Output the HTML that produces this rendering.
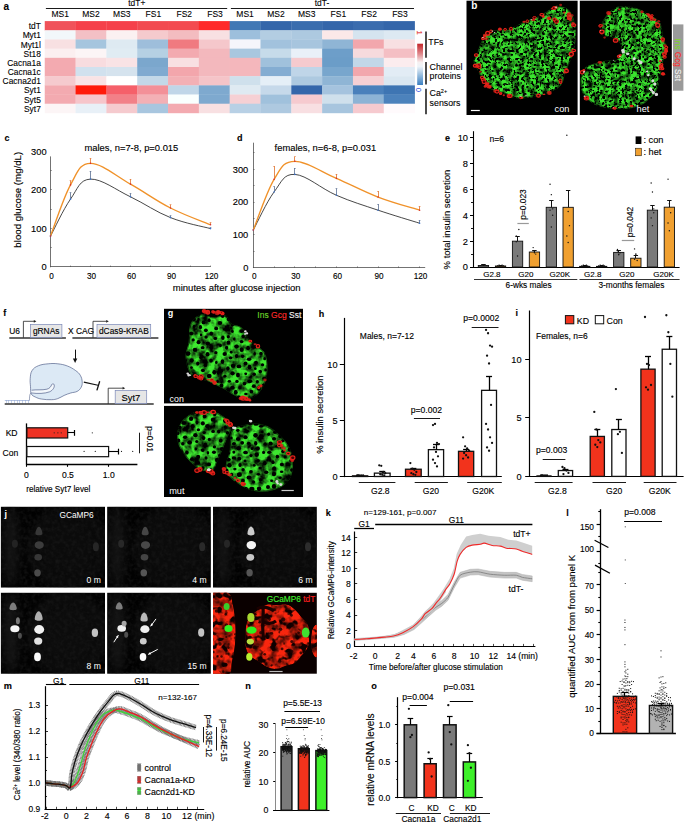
<!DOCTYPE html>
<html><head><meta charset="utf-8"><style>
html,body{margin:0;padding:0;background:#fff;}
svg{display:block;font-family:"Liberation Sans",sans-serif;}
text{stroke-width:0.13px;}
.hv{stroke-width:0.1px;}
text:not([stroke]){stroke:#000;}
text[font-weight=bold]{stroke-width:0.1px;}
</style></head><body>
<svg width="685" height="823" viewBox="0 0 685 823" font-family="Liberation Sans, sans-serif" font-size="8">
<defs>
<linearGradient id="cbar" x1="0" y1="0" x2="0" y2="1">
<stop offset="0" stop-color="#c3262b"/><stop offset="0.25" stop-color="#e08a8e"/>
<stop offset="0.45" stop-color="#f7f0f0"/><stop offset="0.55" stop-color="#eef4f9"/>
<stop offset="0.78" stop-color="#8fb8dc"/><stop offset="1" stop-color="#3a7fc1"/>
</linearGradient>
<filter id="cells" x="0" y="0" width="685" height="823" filterUnits="userSpaceOnUse" color-interpolation-filters="sRGB">
<feTurbulence type="turbulence" baseFrequency="0.26" numOctaves="2" seed="5" result="n"/>
<feColorMatrix in="n" type="matrix" values="0 0 0 0 0.2  0 0 0 0 0.88  0 0 0 0 0.14  -5.5 0 0 0 2.35" result="g"/>
<feGaussianBlur in="g" stdDeviation="0.35" result="gb"/>
<feComposite in="gb" in2="SourceGraphic" operator="in"/>
</filter>
<filter id="cellsg" x="0" y="0" width="685" height="823" filterUnits="userSpaceOnUse" color-interpolation-filters="sRGB">
<feTurbulence type="fractalNoise" baseFrequency="0.2" numOctaves="2" seed="8" result="n"/>
<feColorMatrix in="n" type="matrix" values="0 0 0 0 0.25  0 0 0 0 0.95  0 0 0 0 0.12  -9 0 0 0 5.6" result="g"/>
<feGaussianBlur in="g" stdDeviation="0.3" result="gb"/>
<feComposite in="gb" in2="SourceGraphic" operator="in"/>
</filter>
<filter id="blur1" color-interpolation-filters="sRGB" x="-50%" y="-50%" width="200%" height="200%"><feGaussianBlur stdDeviation="0.7"/></filter>
<filter id="blur2" color-interpolation-filters="sRGB" x="-50%" y="-50%" width="200%" height="200%"><feGaussianBlur stdDeviation="4"/></filter>
<filter id="redtex" x="0" y="0" width="685" height="823" filterUnits="userSpaceOnUse" color-interpolation-filters="sRGB">
<feTurbulence type="fractalNoise" baseFrequency="0.22" numOctaves="2" seed="4" result="n"/>
<feColorMatrix in="n" type="matrix" values="0 0 0 0 1  0 0 0 0 0.1  0 0 0 0 0.05  -5 0 0 0 3.6" result="g"/>
<feGaussianBlur in="g" stdDeviation="0.5" result="gb"/>
<feComposite in="gb" in2="SourceGraphic" operator="in"/>
</filter>
<filter id="mottle" x="0" y="0" width="685" height="823" filterUnits="userSpaceOnUse" color-interpolation-filters="sRGB">
<feTurbulence type="fractalNoise" baseFrequency="0.12" numOctaves="3" seed="12" result="n"/>
<feColorMatrix in="n" type="matrix" values="0 0 0 0 0  0 0 0 0 0  0 0 0 0 0  2.6 0 0 0 -0.95" result="g"/>
<feComposite in="g" in2="SourceGraphic" operator="in"/>
</filter>
<filter id="mottle2" x="0" y="0" width="685" height="823" filterUnits="userSpaceOnUse" color-interpolation-filters="sRGB">
<feTurbulence type="fractalNoise" baseFrequency="0.1" numOctaves="3" seed="31" result="n"/>
<feColorMatrix in="n" type="matrix" values="0 0 0 0 0  0 0 0 0 0  0 0 0 0 0  2.0 0 0 0 -0.8" result="g"/>
<feComposite in="g" in2="SourceGraphic" operator="in"/>
</filter>
<filter id="nblur" color-interpolation-filters="sRGB" x="-20%" y="-20%" width="140%" height="140%"><feGaussianBlur stdDeviation="0.35"/></filter>
<filter id="jnoise" x="0" y="0" width="685" height="823" filterUnits="userSpaceOnUse" color-interpolation-filters="sRGB">
<feTurbulence type="fractalNoise" baseFrequency="0.25" numOctaves="2" seed="17" result="n"/>
<feColorMatrix in="n" type="matrix" values="0 0 0 0 0.1  0 0 0 0 0.1  0 0 0 0 0.1  1.4 0 0 0 -0.55" result="g"/>
<feComposite in="g" in2="SourceGraphic" operator="in"/>
</filter>
<filter id="mottle3" x="0" y="0" width="685" height="823" filterUnits="userSpaceOnUse" color-interpolation-filters="sRGB">
<feTurbulence type="fractalNoise" baseFrequency="0.16" numOctaves="2" seed="22" result="n"/>
<feColorMatrix in="n" type="matrix" values="0 0 0 0 0  0 0 0 0 0  0 0 0 0 0  2.2 0 0 0 -0.9" result="g"/>
<feComposite in="g" in2="SourceGraphic" operator="in"/>
</filter>
<filter id="holes" x="0" y="0" width="685" height="823" filterUnits="userSpaceOnUse" color-interpolation-filters="sRGB">
<feTurbulence type="fractalNoise" baseFrequency="0.36" numOctaves="2" seed="41" result="n"/>
<feColorMatrix in="n" type="matrix" values="0 0 0 0 0  0 0 0 0 0  0 0 0 0 0  8 0 0 0 -4.2" result="g"/>
<feGaussianBlur in="g" stdDeviation="0.3" result="gb"/>
<feComposite in="gb" in2="SourceGraphic" operator="in"/>
</filter>
<filter id="holes2" x="0" y="0" width="685" height="823" filterUnits="userSpaceOnUse" color-interpolation-filters="sRGB">
<feTurbulence type="fractalNoise" baseFrequency="0.14" numOctaves="2" seed="7" result="n"/>
<feColorMatrix in="n" type="matrix" values="0 0 0 0 0.06  0 0 0 0 0  0 0 0 0 0  7 0 0 0 -3.7" result="g"/>
<feGaussianBlur in="g" stdDeviation="0.6" result="gb"/>
<feComposite in="gb" in2="SourceGraphic" operator="in"/>
</filter>
<filter id="soft" color-interpolation-filters="sRGB"><feGaussianBlur stdDeviation="0.35"/></filter>
</defs>
<text x="3.6" y="9.8" font-weight="bold" font-size="10">a</text>
<rect x="44.75" y="21.1" width="31.12" height="9.48" fill="#f0525a"/>
<rect x="75.57" y="21.1" width="31.12" height="9.48" fill="#f5404a"/>
<rect x="106.39" y="21.1" width="31.12" height="9.48" fill="#f5404a"/>
<rect x="137.21" y="21.1" width="31.12" height="9.48" fill="#f24a50"/>
<rect x="168.03" y="21.1" width="31.12" height="9.48" fill="#f34a50"/>
<rect x="198.85" y="21.1" width="31.12" height="9.48" fill="#ff2a2a"/>
<rect x="229.67" y="21.1" width="31.12" height="9.48" fill="#4178b5"/>
<rect x="260.49" y="21.1" width="31.12" height="9.48" fill="#3466aa"/>
<rect x="291.31" y="21.1" width="31.12" height="9.48" fill="#3a6dae"/>
<rect x="322.13" y="21.1" width="31.12" height="9.48" fill="#3466aa"/>
<rect x="352.95" y="21.1" width="31.12" height="9.48" fill="#3a6cae"/>
<rect x="383.77" y="21.1" width="31.12" height="9.48" fill="#3466aa"/>
<text x="40.8" y="29.2" class="hv" text-anchor="end" font-size="8.4">tdT</text>
<rect x="44.75" y="30.28" width="31.12" height="9.48" fill="#f2f7fa"/>
<rect x="75.57" y="30.28" width="31.12" height="9.48" fill="#f3c0c5"/>
<rect x="106.39" y="30.28" width="31.12" height="9.48" fill="#fbf1f1"/>
<rect x="137.21" y="30.28" width="31.12" height="9.48" fill="#f5cacd"/>
<rect x="168.03" y="30.28" width="31.12" height="9.48" fill="#f3bcc0"/>
<rect x="198.85" y="30.28" width="31.12" height="9.48" fill="#f8e0e2"/>
<rect x="229.67" y="30.28" width="31.12" height="9.48" fill="#9dbfdc"/>
<rect x="260.49" y="30.28" width="31.12" height="9.48" fill="#b3cde2"/>
<rect x="291.31" y="30.28" width="31.12" height="9.48" fill="#adc9e0"/>
<rect x="322.13" y="30.28" width="31.12" height="9.48" fill="#fbe8e8"/>
<rect x="352.95" y="30.28" width="31.12" height="9.48" fill="#d5e4ef"/>
<rect x="383.77" y="30.28" width="31.12" height="9.48" fill="#dde9f2"/>
<text x="40.8" y="38.38" class="hv" text-anchor="end" font-size="8.4">Myt1</text>
<rect x="44.75" y="39.46" width="31.12" height="9.48" fill="#f8e0e2"/>
<rect x="75.57" y="39.46" width="31.12" height="9.48" fill="#a5c5de"/>
<rect x="106.39" y="39.46" width="31.12" height="9.48" fill="#deeaf2"/>
<rect x="137.21" y="39.46" width="31.12" height="9.48" fill="#9ebedb"/>
<rect x="168.03" y="39.46" width="31.12" height="9.48" fill="#f07a80"/>
<rect x="198.85" y="39.46" width="31.12" height="9.48" fill="#f5c7cb"/>
<rect x="229.67" y="39.46" width="31.12" height="9.48" fill="#f5f5fb"/>
<rect x="260.49" y="39.46" width="31.12" height="9.48" fill="#a2c2dd"/>
<rect x="291.31" y="39.46" width="31.12" height="9.48" fill="#a7c5de"/>
<rect x="322.13" y="39.46" width="31.12" height="9.48" fill="#8fb5d5"/>
<rect x="352.95" y="39.46" width="31.12" height="9.48" fill="#f2a7ad"/>
<rect x="383.77" y="39.46" width="31.12" height="9.48" fill="#f8e0e2"/>
<text x="40.8" y="47.56" class="hv" text-anchor="end" font-size="8.4">Myt1l</text>
<rect x="44.75" y="48.64" width="31.12" height="9.48" fill="#fbeff0"/>
<rect x="75.57" y="48.64" width="31.12" height="9.48" fill="#fcf5f6"/>
<rect x="106.39" y="48.64" width="31.12" height="9.48" fill="#e0ecf3"/>
<rect x="137.21" y="48.64" width="31.12" height="9.48" fill="#b5d0e3"/>
<rect x="168.03" y="48.64" width="31.12" height="9.48" fill="#f3aab0"/>
<rect x="198.85" y="48.64" width="31.12" height="9.48" fill="#f3b8bd"/>
<rect x="229.67" y="48.64" width="31.12" height="9.48" fill="#a9c7df"/>
<rect x="260.49" y="48.64" width="31.12" height="9.48" fill="#c6dbea"/>
<rect x="291.31" y="48.64" width="31.12" height="9.48" fill="#e9f0f8"/>
<rect x="322.13" y="48.64" width="31.12" height="9.48" fill="#6d9ec9"/>
<rect x="352.95" y="48.64" width="31.12" height="9.48" fill="#f6dadd"/>
<rect x="383.77" y="48.64" width="31.12" height="9.48" fill="#f4bfc4"/>
<text x="40.8" y="56.74" class="hv" text-anchor="end" font-size="8.4">St18</text>
<rect x="44.75" y="57.82" width="31.12" height="9.48" fill="#f3aab0"/>
<rect x="75.57" y="57.82" width="31.12" height="9.48" fill="#f8dcdf"/>
<rect x="106.39" y="57.82" width="31.12" height="9.48" fill="#f9e3e5"/>
<rect x="137.21" y="57.82" width="31.12" height="9.48" fill="#7ba7cd"/>
<rect x="168.03" y="57.82" width="31.12" height="9.48" fill="#f8e0e2"/>
<rect x="198.85" y="57.82" width="31.12" height="9.48" fill="#f3b8bd"/>
<rect x="229.67" y="57.82" width="31.12" height="9.48" fill="#f4b7bc"/>
<rect x="260.49" y="57.82" width="31.12" height="9.48" fill="#a0c1dc"/>
<rect x="291.31" y="57.82" width="31.12" height="9.48" fill="#f5cace"/>
<rect x="322.13" y="57.82" width="31.12" height="9.48" fill="#6b9dc8"/>
<rect x="352.95" y="57.82" width="31.12" height="9.48" fill="#c2d7e8"/>
<rect x="383.77" y="57.82" width="31.12" height="9.48" fill="#fbecee"/>
<text x="40.8" y="65.92" class="hv" text-anchor="end" font-size="8.4">Cacna1a</text>
<rect x="44.75" y="67" width="31.12" height="9.48" fill="#f3aab0"/>
<rect x="75.57" y="67" width="31.12" height="9.48" fill="#d1e1ee"/>
<rect x="106.39" y="67" width="31.12" height="9.48" fill="#d5e3ee"/>
<rect x="137.21" y="67" width="31.12" height="9.48" fill="#80aad0"/>
<rect x="168.03" y="67" width="31.12" height="9.48" fill="#f3a6ac"/>
<rect x="198.85" y="67" width="31.12" height="9.48" fill="#f3b8bd"/>
<rect x="229.67" y="67" width="31.12" height="9.48" fill="#f4b7bc"/>
<rect x="260.49" y="67" width="31.12" height="9.48" fill="#84add2"/>
<rect x="291.31" y="67" width="31.12" height="9.48" fill="#bfd5e8"/>
<rect x="322.13" y="67" width="31.12" height="9.48" fill="#78a6cd"/>
<rect x="352.95" y="67" width="31.12" height="9.48" fill="#f2a7ad"/>
<rect x="383.77" y="67" width="31.12" height="9.48" fill="#e2ecf5"/>
<text x="40.8" y="75.1" class="hv" text-anchor="end" font-size="8.4">Cacna1c</text>
<rect x="44.75" y="76.18" width="31.12" height="9.48" fill="#f5cace"/>
<rect x="75.57" y="76.18" width="31.12" height="9.48" fill="#f9e3e5"/>
<rect x="106.39" y="76.18" width="31.12" height="9.48" fill="#ffffff"/>
<rect x="137.21" y="76.18" width="31.12" height="9.48" fill="#c3d8e8"/>
<rect x="168.03" y="76.18" width="31.12" height="9.48" fill="#f3b0b5"/>
<rect x="198.85" y="76.18" width="31.12" height="9.48" fill="#f5c4c8"/>
<rect x="229.67" y="76.18" width="31.12" height="9.48" fill="#cfe0ec"/>
<rect x="260.49" y="76.18" width="31.12" height="9.48" fill="#e5eff7"/>
<rect x="291.31" y="76.18" width="31.12" height="9.48" fill="#adc9e0"/>
<rect x="322.13" y="76.18" width="31.12" height="9.48" fill="#8fb5d5"/>
<rect x="352.95" y="76.18" width="31.12" height="9.48" fill="#f6d0d4"/>
<rect x="383.77" y="76.18" width="31.12" height="9.48" fill="#dae7f1"/>
<text x="40.8" y="84.28" class="hv" text-anchor="end" font-size="8.4">Cacna2d1</text>
<rect x="44.75" y="85.36" width="31.12" height="9.48" fill="#f3aab0"/>
<rect x="75.57" y="85.36" width="31.12" height="9.48" fill="#ff1a0a"/>
<rect x="106.39" y="85.36" width="31.12" height="9.48" fill="#f5606a"/>
<rect x="137.21" y="85.36" width="31.12" height="9.48" fill="#f39098"/>
<rect x="168.03" y="85.36" width="31.12" height="9.48" fill="#c0d6e8"/>
<rect x="198.85" y="85.36" width="31.12" height="9.48" fill="#7ea9cf"/>
<rect x="229.67" y="85.36" width="31.12" height="9.48" fill="#dfeaf2"/>
<rect x="260.49" y="85.36" width="31.12" height="9.48" fill="#c6d9ea"/>
<rect x="291.31" y="85.36" width="31.12" height="9.48" fill="#3466aa"/>
<rect x="322.13" y="85.36" width="31.12" height="9.48" fill="#a5c3de"/>
<rect x="352.95" y="85.36" width="31.12" height="9.48" fill="#4a80bb"/>
<rect x="383.77" y="85.36" width="31.12" height="9.48" fill="#3e75b3"/>
<text x="40.8" y="93.46" class="hv" text-anchor="end" font-size="8.4">Syt1</text>
<rect x="44.75" y="94.54" width="31.12" height="9.48" fill="#f3aab0"/>
<rect x="75.57" y="94.54" width="31.12" height="9.48" fill="#f6c5ca"/>
<rect x="106.39" y="94.54" width="31.12" height="9.48" fill="#f28088"/>
<rect x="137.21" y="94.54" width="31.12" height="9.48" fill="#f3b0b5"/>
<rect x="168.03" y="94.54" width="31.12" height="9.48" fill="#fafffe"/>
<rect x="198.85" y="94.54" width="31.12" height="9.48" fill="#7ea9cf"/>
<rect x="229.67" y="94.54" width="31.12" height="9.48" fill="#f6d0d4"/>
<rect x="260.49" y="94.54" width="31.12" height="9.48" fill="#a0c1dc"/>
<rect x="291.31" y="94.54" width="31.12" height="9.48" fill="#f6cacf"/>
<rect x="322.13" y="94.54" width="31.12" height="9.48" fill="#cfe0ec"/>
<rect x="352.95" y="94.54" width="31.12" height="9.48" fill="#8db3d5"/>
<rect x="383.77" y="94.54" width="31.12" height="9.48" fill="#4c82bc"/>
<text x="40.8" y="102.64" class="hv" text-anchor="end" font-size="8.4">Syt5</text>
<rect x="44.75" y="103.72" width="31.12" height="9.48" fill="#fcf5f6"/>
<rect x="75.57" y="103.72" width="31.12" height="9.48" fill="#e8f0f7"/>
<rect x="106.39" y="103.72" width="31.12" height="9.48" fill="#f5cace"/>
<rect x="137.21" y="103.72" width="31.12" height="9.48" fill="#a8c6df"/>
<rect x="168.03" y="103.72" width="31.12" height="9.48" fill="#f3aab0"/>
<rect x="198.85" y="103.72" width="31.12" height="9.48" fill="#f8e0e2"/>
<rect x="229.67" y="103.72" width="31.12" height="9.48" fill="#b8d0e5"/>
<rect x="260.49" y="103.72" width="31.12" height="9.48" fill="#aec9e0"/>
<rect x="291.31" y="103.72" width="31.12" height="9.48" fill="#f8dfe2"/>
<rect x="322.13" y="103.72" width="31.12" height="9.48" fill="#a7c5de"/>
<rect x="352.95" y="103.72" width="31.12" height="9.48" fill="#f6cacf"/>
<rect x="383.77" y="103.72" width="31.12" height="9.48" fill="#fffafc"/>
<text x="40.8" y="111.82" class="hv" text-anchor="end" font-size="8.4">Syt7</text>
<text x="60.16" y="17.1" class="hv" text-anchor="middle" font-size="8.5">MS1</text>
<text x="90.98" y="17.1" class="hv" text-anchor="middle" font-size="8.5">MS2</text>
<text x="121.8" y="17.1" class="hv" text-anchor="middle" font-size="8.5">MS3</text>
<text x="153.42" y="17.1" class="hv" text-anchor="middle" font-size="8.5">FS1</text>
<text x="184.24" y="17.1" class="hv" text-anchor="middle" font-size="8.5">FS2</text>
<text x="215.06" y="17.1" class="hv" text-anchor="middle" font-size="8.5">FS3</text>
<text x="245.08" y="17.1" class="hv" text-anchor="middle" font-size="8.5">MS1</text>
<text x="275.9" y="17.1" class="hv" text-anchor="middle" font-size="8.5">MS2</text>
<text x="306.72" y="17.1" class="hv" text-anchor="middle" font-size="8.5">MS3</text>
<text x="338.34" y="17.1" class="hv" text-anchor="middle" font-size="8.5">FS1</text>
<text x="369.16" y="17.1" class="hv" text-anchor="middle" font-size="8.5">FS2</text>
<text x="399.98" y="17.1" class="hv" text-anchor="middle" font-size="8.5">FS3</text>
<text x="136.8" y="6.3" class="hv" text-anchor="middle" font-size="8.4">tdT+</text>
<text x="322" y="6.3" class="hv" text-anchor="middle" font-size="8.4">tdT-</text>
<line x1="45.9" y1="8.5" x2="227.2" y2="8.5" stroke="#000" stroke-width="0.9"/>
<line x1="230.9" y1="8.5" x2="414" y2="8.5" stroke="#000" stroke-width="0.9"/>
<rect x="417.2" y="43.7" width="5.8" height="41.3" fill="url(#cbar)"/>
<text x="416.6" y="30.6" fill="#e03030" stroke="#e03030" font-size="7.6" transform="rotate(90 416.6 30.6)" dominant-baseline="auto">1</text>
<text x="416.4" y="87.8" fill="#3050e0" stroke="#3050e0" font-size="7.6" transform="rotate(90 416.4 87.8)">0</text>
<line x1="426" y1="31.5" x2="426" y2="57.7" stroke="#000" stroke-width="1.4"/>
<line x1="426" y1="62" x2="426" y2="84.4" stroke="#000" stroke-width="1.4"/>
<line x1="426" y1="88.7" x2="426" y2="114.2" stroke="#000" stroke-width="1.4"/>
<text x="428.3" y="45" class="hv" font-size="8.8">TFs</text>
<text x="429.6" y="69.8" class="hv" font-size="8.8">Channel</text>
<text x="429.6" y="78.6" class="hv" font-size="8.8">proteins</text>
<text x="429.6" y="96" font-size="8.8">Ca<tspan font-size="5.5" dy="-3.2">2+</tspan></text>
<text x="429.6" y="105.6" class="hv" font-size="8.8">sensors</text>
<rect x="466.5" y="0.7" width="111.1" height="114.3" fill="#000"/>
<rect x="579.8" y="0.7" width="92" height="114.3" fill="#000"/>
<clipPath id="cl1"><path d="M559 5.9 C562.02 6.58 565.9 6.58 569.1 10.1 C572.3 13.62 573.66 17.8 575 23.5 C576.34 29.2 576.32 32.22 575.8 38.6 C575.28 44.98 574.42 48.68 572.4 55.4 C570.38 62.12 568.04 66.16 565.7 72.2 C563.36 78.24 564.38 81.4 560.7 85.6 C557.02 89.8 553.02 90.84 547.3 93.2 C541.58 95.56 538.48 96.4 532.1 97.4 C525.72 98.4 520.76 98.88 515.4 98.2 C510.04 97.52 510.34 95.84 505.3 94 C500.26 92.16 494.56 91.34 490.2 89 C485.84 86.66 485.86 85.66 483.5 82.3 C481.14 78.94 480.42 76.24 478.4 72.2 C476.38 68.16 473.72 65.8 473.4 62.1 C473.08 58.4 475.12 58.06 476.8 53.7 C478.48 49.34 479.8 44.66 481.8 40.3 C483.8 35.94 483.44 33.92 486.8 31.9 C490.16 29.88 493.56 31.04 498.6 30.2 C503.64 29.36 506.96 29.38 512 27.7 C517.04 26.02 518.76 23.98 523.8 21.8 C528.84 19.62 532.18 19.14 537.2 16.8 C542.22 14.46 545.54 12.12 548.9 10.1 C552.26 8.08 551.98 7.54 554 6.7 C556.02 5.86 555.98 5.22 559 5.9Z"/></clipPath>
<g clip-path="url(#cl1)">
<path d="M559 5.9 C562.02 6.58 565.9 6.58 569.1 10.1 C572.3 13.62 573.66 17.8 575 23.5 C576.34 29.2 576.32 32.22 575.8 38.6 C575.28 44.98 574.42 48.68 572.4 55.4 C570.38 62.12 568.04 66.16 565.7 72.2 C563.36 78.24 564.38 81.4 560.7 85.6 C557.02 89.8 553.02 90.84 547.3 93.2 C541.58 95.56 538.48 96.4 532.1 97.4 C525.72 98.4 520.76 98.88 515.4 98.2 C510.04 97.52 510.34 95.84 505.3 94 C500.26 92.16 494.56 91.34 490.2 89 C485.84 86.66 485.86 85.66 483.5 82.3 C481.14 78.94 480.42 76.24 478.4 72.2 C476.38 68.16 473.72 65.8 473.4 62.1 C473.08 58.4 475.12 58.06 476.8 53.7 C478.48 49.34 479.8 44.66 481.8 40.3 C483.8 35.94 483.44 33.92 486.8 31.9 C490.16 29.88 493.56 31.04 498.6 30.2 C503.64 29.36 506.96 29.38 512 27.7 C517.04 26.02 518.76 23.98 523.8 21.8 C528.84 19.62 532.18 19.14 537.2 16.8 C542.22 14.46 545.54 12.12 548.9 10.1 C552.26 8.08 551.98 7.54 554 6.7 C556.02 5.86 555.98 5.22 559 5.9Z" fill="#3ae42e"/>
<rect x="471.4" y="3.9" width="106.4" height="96.3" fill="#000" filter="url(#mottle3)"/>
<rect x="471.4" y="3.9" width="106.4" height="96.3" fill="#000" filter="url(#holes)"/>
<g fill="#000" filter="url(#nblur)" opacity="1">
<ellipse cx="497.77" cy="56.13" rx="1.05" ry="1.15"/>
<ellipse cx="511.28" cy="61.64" rx="0.87" ry="0.82"/>
<ellipse cx="537.47" cy="11.95" rx="0.79" ry="0.88"/>
<ellipse cx="474.75" cy="83.2" rx="1.17" ry="0.89"/>
<ellipse cx="499.96" cy="27.53" rx="0.64" ry="0.8"/>
<ellipse cx="575.35" cy="49.31" rx="0.62" ry="0.59"/>
<ellipse cx="559.05" cy="49.87" rx="0.74" ry="0.65"/>
<ellipse cx="538.84" cy="19.8" rx="0.91" ry="0.91"/>
<ellipse cx="538.41" cy="86.02" rx="0.93" ry="0.87"/>
<ellipse cx="526.97" cy="74.32" rx="0.91" ry="0.96"/>
<ellipse cx="542.15" cy="11.81" rx="1.05" ry="0.95"/>
<ellipse cx="551.04" cy="60.46" rx="0.79" ry="0.8"/>
<ellipse cx="504.25" cy="8.76" rx="0.9" ry="0.87"/>
<ellipse cx="547.01" cy="87.01" rx="1.04" ry="1.11"/>
<ellipse cx="513.84" cy="79.82" rx="0.79" ry="0.7"/>
<ellipse cx="518.93" cy="92.25" rx="0.77" ry="0.72"/>
<ellipse cx="563.4" cy="14.9" rx="0.89" ry="1.16"/>
<ellipse cx="487.32" cy="25.93" rx="0.81" ry="0.95"/>
<ellipse cx="572.27" cy="46.16" rx="1.26" ry="1.1"/>
<ellipse cx="537.57" cy="33.68" rx="1.06" ry="0.91"/>
<ellipse cx="525.34" cy="41.52" rx="0.93" ry="0.86"/>
<ellipse cx="533.23" cy="89.36" rx="0.98" ry="1.09"/>
<ellipse cx="543.23" cy="91.64" rx="0.69" ry="0.59"/>
<ellipse cx="561.1" cy="97.37" rx="1.06" ry="0.95"/>
<ellipse cx="566.04" cy="58.43" rx="0.94" ry="0.82"/>
<ellipse cx="546.49" cy="25.39" rx="0.86" ry="0.88"/>
<ellipse cx="558.56" cy="58.84" rx="0.82" ry="0.78"/>
<ellipse cx="482.46" cy="79.79" rx="0.96" ry="0.84"/>
<ellipse cx="515.43" cy="19.82" rx="1.07" ry="0.96"/>
<ellipse cx="503.49" cy="76.86" rx="0.99" ry="1.23"/>
<ellipse cx="562.77" cy="9.98" rx="0.72" ry="0.84"/>
<ellipse cx="546.97" cy="36.45" rx="0.72" ry="0.79"/>
<ellipse cx="525.16" cy="98.06" rx="1.12" ry="0.99"/>
<ellipse cx="505.11" cy="13" rx="0.85" ry="0.69"/>
<ellipse cx="534.82" cy="8.8" rx="0.79" ry="0.73"/>
<ellipse cx="493.61" cy="43.55" rx="0.73" ry="0.69"/>
<ellipse cx="477.75" cy="86" rx="0.94" ry="1.1"/>
<ellipse cx="505.54" cy="94.38" rx="0.91" ry="0.89"/>
<ellipse cx="565.22" cy="40.77" rx="0.85" ry="0.92"/>
<ellipse cx="520.55" cy="53.9" rx="0.9" ry="0.79"/>
<ellipse cx="539.33" cy="60.88" rx="0.81" ry="0.84"/>
<ellipse cx="530.67" cy="63.14" rx="0.96" ry="1.07"/>
<ellipse cx="569.72" cy="52.7" rx="0.86" ry="1.04"/>
<ellipse cx="517.55" cy="72.38" rx="0.65" ry="0.63"/>
<ellipse cx="497.73" cy="33.69" rx="0.92" ry="0.97"/>
<ellipse cx="573.53" cy="54" rx="0.65" ry="0.92"/>
<ellipse cx="529.56" cy="6.96" rx="1.01" ry="0.85"/>
<ellipse cx="515.92" cy="59.43" rx="0.81" ry="0.71"/>
<ellipse cx="475.45" cy="62.74" rx="1.12" ry="1.11"/>
<ellipse cx="537.64" cy="48.93" rx="0.91" ry="0.91"/>
<ellipse cx="542.96" cy="38.44" rx="0.93" ry="0.94"/>
<ellipse cx="545.79" cy="74.02" rx="1.01" ry="0.97"/>
<ellipse cx="475.67" cy="11.49" rx="0.8" ry="0.8"/>
<ellipse cx="499.11" cy="48.02" rx="0.96" ry="1.04"/>
<ellipse cx="510.67" cy="34.76" rx="0.9" ry="0.97"/>
<ellipse cx="504.16" cy="40.71" rx="0.98" ry="0.85"/>
<ellipse cx="552.48" cy="8.38" rx="1.03" ry="1.15"/>
<ellipse cx="531.69" cy="73.76" rx="0.65" ry="0.58"/>
<ellipse cx="505.15" cy="26.44" rx="1" ry="1.15"/>
<ellipse cx="555.71" cy="27.93" rx="0.86" ry="0.87"/>
<ellipse cx="544.88" cy="15.3" rx="0.74" ry="0.71"/>
<ellipse cx="506.37" cy="36.71" rx="0.87" ry="0.92"/>
<ellipse cx="561.01" cy="21.52" rx="0.88" ry="0.94"/>
<ellipse cx="507.88" cy="65.92" rx="0.76" ry="0.86"/>
<ellipse cx="564.01" cy="47.54" rx="0.69" ry="0.62"/>
<ellipse cx="496.44" cy="17.06" rx="0.88" ry="1.1"/>
<ellipse cx="527.63" cy="23.51" rx="0.92" ry="0.88"/>
<ellipse cx="556.01" cy="83.29" rx="1.07" ry="1.05"/>
<ellipse cx="492.2" cy="31.61" rx="0.61" ry="0.76"/>
<ellipse cx="556.06" cy="65.15" rx="0.99" ry="0.88"/>
<ellipse cx="555.96" cy="37.77" rx="1.09" ry="1.17"/>
<ellipse cx="486.68" cy="32.85" rx="1.09" ry="0.91"/>
<ellipse cx="508.87" cy="44.38" rx="0.68" ry="0.72"/>
<ellipse cx="516.38" cy="43.7" rx="1.09" ry="0.86"/>
<ellipse cx="567.67" cy="20.3" rx="0.68" ry="0.7"/>
<ellipse cx="473.88" cy="92.96" rx="0.68" ry="0.75"/>
<ellipse cx="568.36" cy="26.4" rx="1.11" ry="1.14"/>
<ellipse cx="549.74" cy="83.13" rx="0.84" ry="0.7"/>
<ellipse cx="541.29" cy="53.81" rx="0.93" ry="0.72"/>
<ellipse cx="496.69" cy="12.18" rx="0.72" ry="0.9"/>
<ellipse cx="533.68" cy="32.39" rx="0.98" ry="1.07"/>
<ellipse cx="556.36" cy="10.06" rx="0.99" ry="0.95"/>
<ellipse cx="565.93" cy="69.93" rx="0.72" ry="0.81"/>
<ellipse cx="568" cy="88.65" rx="0.95" ry="0.9"/>
<ellipse cx="474.75" cy="74.69" rx="1.01" ry="0.89"/>
<ellipse cx="536.09" cy="37.41" rx="1.14" ry="1.02"/>
<ellipse cx="499.25" cy="85.43" rx="0.87" ry="0.83"/>
<ellipse cx="522.27" cy="78.11" rx="0.89" ry="0.93"/>
<ellipse cx="509.43" cy="24.11" rx="0.88" ry="0.74"/>
<ellipse cx="528.15" cy="81.29" rx="0.61" ry="0.66"/>
<ellipse cx="490.94" cy="78.97" rx="0.68" ry="0.73"/>
<ellipse cx="567.79" cy="80.3" rx="0.91" ry="0.94"/>
<ellipse cx="478.51" cy="30.95" rx="1.16" ry="0.88"/>
<ellipse cx="516.71" cy="49.55" rx="0.91" ry="0.83"/>
<ellipse cx="479.01" cy="17.61" rx="0.91" ry="0.92"/>
<ellipse cx="486.16" cy="12.21" rx="0.73" ry="0.69"/>
<ellipse cx="573.21" cy="84.77" rx="0.75" ry="0.72"/>
<ellipse cx="482.22" cy="52.25" rx="0.96" ry="0.88"/>
<ellipse cx="492.97" cy="36.25" rx="0.76" ry="0.88"/>
<ellipse cx="486.07" cy="57.18" rx="0.87" ry="0.8"/>
<ellipse cx="546.72" cy="41" rx="0.91" ry="1.08"/>
<ellipse cx="481.58" cy="22.38" rx="0.6" ry="0.76"/>
<ellipse cx="553.54" cy="41" rx="0.94" ry="0.91"/>
<ellipse cx="524.21" cy="70.78" rx="1.09" ry="0.9"/>
<ellipse cx="520.59" cy="28.52" rx="1.09" ry="0.99"/>
<ellipse cx="528.27" cy="70.06" rx="0.84" ry="0.9"/>
<ellipse cx="480.73" cy="45.12" rx="0.81" ry="0.91"/>
<ellipse cx="517.01" cy="87.09" rx="0.9" ry="0.87"/>
<ellipse cx="569.3" cy="40.44" rx="0.92" ry="1.19"/>
<ellipse cx="473.9" cy="19.15" rx="0.85" ry="1.1"/>
<ellipse cx="482.8" cy="15.07" rx="0.78" ry="0.79"/>
<ellipse cx="485.82" cy="83.8" rx="1.19" ry="0.97"/>
<ellipse cx="542.37" cy="83.08" rx="0.86" ry="1.1"/>
<ellipse cx="570.93" cy="59.35" rx="1.05" ry="1.07"/>
<ellipse cx="551.98" cy="53.1" rx="1.09" ry="0.96"/>
<ellipse cx="550.09" cy="92.16" rx="1.02" ry="1.13"/>
<ellipse cx="479.66" cy="35.83" rx="0.94" ry="1.09"/>
<ellipse cx="498.19" cy="22.49" rx="0.84" ry="0.99"/>
<ellipse cx="499" cy="62.76" rx="0.9" ry="0.72"/>
<ellipse cx="549.93" cy="20.73" rx="0.92" ry="1.04"/>
<ellipse cx="522.93" cy="65.24" rx="0.64" ry="0.77"/>
<ellipse cx="483.22" cy="74.95" rx="1.02" ry="0.95"/>
<ellipse cx="493.8" cy="59.95" rx="0.9" ry="0.89"/>
<ellipse cx="503.7" cy="71" rx="0.89" ry="0.92"/>
<ellipse cx="495.68" cy="8.03" rx="0.73" ry="0.67"/>
<ellipse cx="488.11" cy="97.39" rx="0.76" ry="0.78"/>
<ellipse cx="522.51" cy="61.19" rx="0.88" ry="1.09"/>
<ellipse cx="521.33" cy="82.93" rx="0.83" ry="0.78"/>
<ellipse cx="561.12" cy="42.84" rx="0.89" ry="0.81"/>
<ellipse cx="497.44" cy="72.14" rx="1.06" ry="1.16"/>
<ellipse cx="560.84" cy="28.25" rx="1.06" ry="0.81"/>
<ellipse cx="492.57" cy="70.95" rx="1.1" ry="0.93"/>
<ellipse cx="561.32" cy="88.95" rx="0.77" ry="0.89"/>
<ellipse cx="532.82" cy="68.25" rx="0.6" ry="0.71"/>
<ellipse cx="474.1" cy="36.8" rx="1.1" ry="1.17"/>
<ellipse cx="529.14" cy="16.9" rx="1.03" ry="1.02"/>
<ellipse cx="501.54" cy="67.32" rx="0.92" ry="1.06"/>
<ellipse cx="484.92" cy="87.79" rx="0.74" ry="1.02"/>
<ellipse cx="552.5" cy="75.8" rx="0.89" ry="1.05"/>
<ellipse cx="571.84" cy="68" rx="0.94" ry="0.88"/>
<ellipse cx="546.93" cy="68.53" rx="1.02" ry="0.87"/>
<ellipse cx="491.74" cy="88.04" rx="0.89" ry="1.01"/>
<ellipse cx="534.58" cy="57.12" rx="1.13" ry="0.88"/>
<ellipse cx="505.39" cy="22.18" rx="1.18" ry="1"/>
<ellipse cx="480.42" cy="71.97" rx="0.77" ry="0.79"/>
<ellipse cx="525.08" cy="28.72" rx="0.79" ry="0.74"/>
<ellipse cx="509.54" cy="84.07" rx="0.93" ry="0.74"/>
<ellipse cx="492.33" cy="23.36" rx="1.16" ry="1.02"/>
<ellipse cx="556.93" cy="75.01" rx="0.71" ry="0.62"/>
<ellipse cx="534.01" cy="19.42" rx="0.78" ry="0.9"/>
<ellipse cx="514.2" cy="23.77" rx="0.79" ry="0.87"/>
<ellipse cx="527.43" cy="58.36" rx="1.01" ry="0.87"/>
<ellipse cx="555.64" cy="88.16" rx="0.98" ry="0.8"/>
<ellipse cx="538.28" cy="96.07" rx="0.79" ry="0.89"/>
<ellipse cx="543.71" cy="33.53" rx="1.01" ry="1.03"/>
<ellipse cx="527.02" cy="48.41" rx="0.9" ry="0.76"/>
<ellipse cx="493.21" cy="54.78" rx="0.81" ry="0.72"/>
<ellipse cx="477.2" cy="52.09" rx="1.2" ry="0.87"/>
<ellipse cx="531.36" cy="94.42" rx="1.22" ry="0.93"/>
<ellipse cx="489.87" cy="51.79" rx="0.96" ry="0.82"/>
<ellipse cx="545.01" cy="55.51" rx="0.79" ry="0.9"/>
<ellipse cx="516.62" cy="65.83" rx="0.98" ry="0.85"/>
<ellipse cx="504.6" cy="48.76" rx="0.79" ry="0.81"/>
<ellipse cx="511.39" cy="54.76" rx="0.72" ry="0.94"/>
<ellipse cx="534.48" cy="26.56" rx="0.68" ry="0.69"/>
<ellipse cx="473.68" cy="25.19" rx="0.9" ry="1.11"/>
<ellipse cx="520.5" cy="23.93" rx="0.82" ry="1"/>
<ellipse cx="479.52" cy="7.97" rx="0.65" ry="0.62"/>
<ellipse cx="547.91" cy="31.29" rx="0.79" ry="0.98"/>
<ellipse cx="554.07" cy="48.86" rx="0.8" ry="1.1"/>
<ellipse cx="568.93" cy="33.64" rx="0.69" ry="0.82"/>
<ellipse cx="490.84" cy="9.28" rx="0.87" ry="0.84"/>
<ellipse cx="478.92" cy="66.29" rx="0.93" ry="0.9"/>
<ellipse cx="569.67" cy="9.06" rx="0.9" ry="0.72"/>
<ellipse cx="504.6" cy="61.92" rx="0.66" ry="0.6"/>
<ellipse cx="570.33" cy="14" rx="1.14" ry="0.98"/>
<ellipse cx="503.45" cy="84.35" rx="0.79" ry="0.92"/>
<ellipse cx="485.14" cy="41.88" rx="0.98" ry="1.01"/>
<ellipse cx="547.19" cy="61.81" rx="1.08" ry="0.93"/>
<ellipse cx="523.28" cy="20.1" rx="0.86" ry="0.9"/>
<ellipse cx="546.18" cy="8.02" rx="0.73" ry="0.78"/>
<ellipse cx="489.03" cy="65.39" rx="0.92" ry="1.14"/>
<ellipse cx="496.94" cy="95.18" rx="1.21" ry="1.19"/>
<ellipse cx="535.29" cy="78.69" rx="0.89" ry="0.79"/>
<ellipse cx="557.93" cy="16.29" rx="0.75" ry="0.79"/>
<ellipse cx="496.21" cy="82.46" rx="0.83" ry="0.69"/>
<ellipse cx="536.42" cy="65.14" rx="0.62" ry="0.7"/>
<ellipse cx="519.03" cy="16.14" rx="0.76" ry="0.66"/>
<ellipse cx="508.85" cy="50.62" rx="0.88" ry="0.89"/>
<ellipse cx="480.72" cy="56.91" rx="1.01" ry="1.18"/>
<ellipse cx="548.7" cy="44.93" rx="1.03" ry="1.03"/>
<ellipse cx="575.36" cy="36.84" rx="0.84" ry="0.96"/>
<ellipse cx="568.73" cy="72.94" rx="0.63" ry="0.77"/>
<ellipse cx="528.26" cy="44.55" rx="0.84" ry="1.11"/>
<ellipse cx="575.52" cy="90.84" rx="0.77" ry="0.99"/>
<ellipse cx="492.3" cy="14.75" rx="0.83" ry="1.04"/>
<ellipse cx="508.71" cy="74.39" rx="0.76" ry="0.77"/>
<ellipse cx="515.49" cy="13.06" rx="0.96" ry="0.9"/>
<ellipse cx="545.12" cy="96.02" rx="0.84" ry="0.77"/>
<ellipse cx="573.68" cy="78.4" rx="0.74" ry="0.75"/>
<ellipse cx="573.67" cy="9.14" rx="0.98" ry="1.06"/>
<ellipse cx="517.67" cy="37.12" rx="1.02" ry="0.84"/>
<ellipse cx="516.23" cy="29.93" rx="0.86" ry="0.7"/>
<ellipse cx="515.84" cy="53.75" rx="0.73" ry="0.76"/>
<ellipse cx="505.65" cy="54.08" rx="1.2" ry="0.86"/>
<ellipse cx="558.15" cy="91.86" rx="0.97" ry="0.91"/>
<ellipse cx="483.89" cy="67.62" rx="0.68" ry="0.65"/>
<ellipse cx="565.12" cy="94.54" rx="0.76" ry="0.62"/>
<ellipse cx="539.3" cy="23.91" rx="0.8" ry="0.88"/>
<ellipse cx="505.78" cy="30.9" rx="0.64" ry="0.61"/>
<ellipse cx="570.67" cy="93.01" rx="0.74" ry="0.76"/>
<ellipse cx="502.27" cy="18.04" rx="0.76" ry="0.6"/>
<ellipse cx="481.52" cy="27.11" rx="0.93" ry="0.74"/>
<ellipse cx="542.48" cy="65.61" rx="0.92" ry="0.86"/>
<ellipse cx="512.56" cy="15.78" rx="0.74" ry="0.82"/>
<ellipse cx="513.32" cy="97.05" rx="0.82" ry="0.8"/>
<ellipse cx="488.27" cy="17.61" rx="1" ry="0.92"/>
<ellipse cx="509.49" cy="90.35" rx="0.82" ry="0.89"/>
<ellipse cx="569.59" cy="97.91" rx="0.98" ry="0.89"/>
<ellipse cx="573.74" cy="28.6" rx="0.82" ry="0.73"/>
<ellipse cx="554.71" cy="97.42" rx="0.87" ry="0.92"/>
<ellipse cx="551.84" cy="14.44" rx="0.88" ry="1.11"/>
<ellipse cx="488.39" cy="61.32" rx="0.75" ry="0.99"/>
<ellipse cx="561.69" cy="82.99" rx="0.89" ry="0.76"/>
<ellipse cx="527.82" cy="86.65" rx="0.89" ry="1"/>
<ellipse cx="560.18" cy="77.65" rx="0.9" ry="1.19"/>
<ellipse cx="514.26" cy="40.29" rx="0.69" ry="0.91"/>
<ellipse cx="495.92" cy="40.14" rx="1.1" ry="0.87"/>
<ellipse cx="528.57" cy="90.94" rx="1.12" ry="1.13"/>
<ellipse cx="522.08" cy="88.07" rx="0.92" ry="0.71"/>
<ellipse cx="509.37" cy="6.59" rx="1.06" ry="1.09"/>
<ellipse cx="550.57" cy="97.44" rx="0.9" ry="0.88"/>
<ellipse cx="522.55" cy="44.86" rx="0.76" ry="0.59"/>
<ellipse cx="528.6" cy="32.17" rx="0.73" ry="0.69"/>
<ellipse cx="503.97" cy="88.96" rx="0.93" ry="1.08"/>
<ellipse cx="508.24" cy="16.16" rx="0.84" ry="0.88"/>
<ellipse cx="508.83" cy="97.79" rx="0.91" ry="1.15"/>
<ellipse cx="474.51" cy="68.53" rx="0.77" ry="0.88"/>
<ellipse cx="531" cy="41.48" rx="1.04" ry="0.95"/>
<ellipse cx="562.34" cy="53.48" rx="0.69" ry="0.67"/>
<ellipse cx="501.7" cy="34.9" rx="0.95" ry="0.85"/>
<ellipse cx="571.96" cy="23.08" rx="0.76" ry="0.88"/>
<ellipse cx="531.91" cy="53.04" rx="0.86" ry="0.81"/>
<ellipse cx="500.99" cy="52.86" rx="0.69" ry="0.82"/>
<ellipse cx="543.77" cy="45.37" rx="0.9" ry="0.89"/>
<ellipse cx="495.04" cy="75.88" rx="0.95" ry="0.94"/>
<ellipse cx="525.1" cy="93.87" rx="1.22" ry="1.2"/>
<ellipse cx="520.07" cy="97.65" rx="1.03" ry="1.23"/>
<ellipse cx="526.47" cy="36.16" rx="0.83" ry="0.65"/>
<ellipse cx="541.22" cy="73.79" rx="1.14" ry="0.9"/>
<ellipse cx="575.75" cy="21.42" rx="1.11" ry="1.02"/>
<ellipse cx="482.47" cy="94.89" rx="1.02" ry="1.01"/>
<ellipse cx="477.89" cy="94.88" rx="0.66" ry="0.65"/>
<ellipse cx="568.24" cy="44.82" rx="0.61" ry="0.72"/>
<ellipse cx="495.88" cy="26.97" rx="1.03" ry="1.05"/>
<ellipse cx="565.68" cy="36.65" rx="1.1" ry="0.79"/>
<ellipse cx="566.04" cy="30.41" rx="1.04" ry="1.16"/>
<ellipse cx="518.22" cy="76.78" rx="1" ry="0.97"/>
<ellipse cx="490.83" cy="84.14" rx="0.75" ry="0.62"/>
<ellipse cx="492.46" cy="96.48" rx="1.11" ry="0.95"/>
<ellipse cx="558.43" cy="31.8" rx="0.76" ry="0.7"/>
<ellipse cx="487.38" cy="73.17" rx="0.96" ry="0.84"/>
<ellipse cx="553.83" cy="33.43" rx="0.96" ry="0.91"/>
<ellipse cx="473.55" cy="46.47" rx="0.67" ry="0.85"/>
<ellipse cx="523.46" cy="10.01" rx="0.81" ry="0.92"/>
<ellipse cx="550.33" cy="27.02" rx="0.86" ry="0.93"/>
<ellipse cx="479.33" cy="90.9" rx="0.92" ry="0.9"/>
<ellipse cx="551.19" cy="69.29" rx="0.66" ry="0.76"/>
<ellipse cx="563.43" cy="74.21" rx="0.95" ry="1.02"/>
<ellipse cx="563.82" cy="5.91" rx="0.64" ry="0.64"/>
<ellipse cx="494.53" cy="66.16" rx="1.01" ry="0.92"/>
<ellipse cx="532.21" cy="82.12" rx="0.94" ry="1.17"/>
<ellipse cx="533.71" cy="47.32" rx="0.91" ry="1.1"/>
<ellipse cx="574.03" cy="16.16" rx="0.85" ry="0.85"/>
<ellipse cx="474.63" cy="58.06" rx="0.7" ry="0.8"/>
<ellipse cx="574.97" cy="95.6" rx="0.9" ry="0.78"/>
<ellipse cx="509.67" cy="12.28" rx="0.89" ry="0.99"/>
<ellipse cx="516.99" cy="8.15" rx="0.93" ry="0.86"/>
<ellipse cx="511.54" cy="71.03" rx="0.63" ry="0.74"/>
<ellipse cx="532.89" cy="12.32" rx="0.75" ry="0.95"/>
<ellipse cx="499.17" cy="90.1" rx="0.62" ry="0.81"/>
<ellipse cx="540.8" cy="29.48" rx="0.82" ry="0.89"/>
<ellipse cx="499.48" cy="76.22" rx="0.82" ry="1.02"/>
<ellipse cx="565.92" cy="63.64" rx="0.94" ry="0.92"/>
<ellipse cx="486.69" cy="77.48" rx="1.01" ry="0.87"/>
<ellipse cx="575.45" cy="74.56" rx="0.66" ry="0.88"/>
<ellipse cx="537.77" cy="43.18" rx="1.19" ry="1.1"/>
<ellipse cx="489.3" cy="38.7" rx="0.99" ry="0.79"/>
<ellipse cx="534.68" cy="98.2" rx="0.77" ry="0.72"/>
<ellipse cx="560.51" cy="65.9" rx="1.03" ry="0.98"/>
<ellipse cx="545.02" cy="19.88" rx="0.8" ry="0.94"/>
<ellipse cx="543.58" cy="78.88" rx="0.83" ry="0.94"/>
<ellipse cx="527.29" cy="12.57" rx="0.83" ry="0.71"/>
<ellipse cx="493.69" cy="47.87" rx="0.92" ry="0.73"/>
<ellipse cx="513.14" cy="75.69" rx="0.75" ry="0.83"/>
<ellipse cx="557.27" cy="45.96" rx="0.96" ry="0.89"/>
<ellipse cx="555.43" cy="70.06" rx="0.67" ry="0.67"/>
<ellipse cx="514.54" cy="90.89" rx="0.9" ry="0.98"/>
<ellipse cx="556.52" cy="22.67" rx="0.76" ry="0.74"/>
<ellipse cx="537.48" cy="69.59" rx="0.98" ry="1.02"/>
<ellipse cx="477.55" cy="23.75" rx="0.63" ry="0.63"/>
<ellipse cx="487.02" cy="46.06" rx="0.97" ry="0.83"/>
<ellipse cx="473.52" cy="31.81" rx="0.67" ry="0.77"/>
<ellipse cx="544.69" cy="50.96" rx="0.83" ry="0.78"/>
<ellipse cx="512.26" cy="87.28" rx="0.82" ry="0.95"/>
<ellipse cx="509.69" cy="79.31" rx="0.94" ry="0.81"/>
<ellipse cx="478.29" cy="77.29" rx="0.66" ry="0.78"/>
<ellipse cx="561.69" cy="61.53" rx="1.04" ry="1.04"/>
<ellipse cx="522.55" cy="38.08" rx="1.02" ry="0.83"/>
<ellipse cx="475.17" cy="7.12" rx="0.66" ry="0.64"/>
<ellipse cx="541.44" cy="6.86" rx="0.72" ry="0.82"/>
<ellipse cx="524.29" cy="52.14" rx="0.88" ry="0.93"/>
<ellipse cx="479.69" cy="41.15" rx="0.84" ry="0.72"/>
<ellipse cx="490.35" cy="91.85" rx="0.82" ry="0.71"/>
<ellipse cx="574.89" cy="61.69" rx="0.73" ry="0.81"/>
<ellipse cx="564.65" cy="24.84" rx="1.02" ry="1.07"/>
<ellipse cx="511.51" cy="30.13" rx="0.69" ry="0.88"/>
<ellipse cx="510.25" cy="39.08" rx="0.82" ry="0.9"/>
<ellipse cx="521.39" cy="33.29" rx="1.07" ry="0.89"/>
<ellipse cx="483.28" cy="6.21" rx="1" ry="0.97"/>
<ellipse cx="561.33" cy="36.21" rx="0.84" ry="0.74"/>
<ellipse cx="501.64" cy="59.02" rx="1.03" ry="0.76"/>
<ellipse cx="482.62" cy="31.05" rx="0.67" ry="0.79"/>
<ellipse cx="538.23" cy="81.96" rx="0.8" ry="0.69"/>
<ellipse cx="500.85" cy="5.91" rx="1.13" ry="1.15"/>
<ellipse cx="500.77" cy="98.04" rx="0.84" ry="0.84"/>
<ellipse cx="527.28" cy="65.88" rx="0.97" ry="1.11"/>
<ellipse cx="536.13" cy="52.66" rx="1.01" ry="0.84"/>
<ellipse cx="555.97" cy="55.64" rx="0.83" ry="0.97"/>
<ellipse cx="473.71" cy="88.07" rx="0.78" ry="0.91"/>
<ellipse cx="536.05" cy="92.68" rx="1.2" ry="1.18"/>
<ellipse cx="501.28" cy="80.35" rx="0.72" ry="0.7"/>
<ellipse cx="481.97" cy="84.97" rx="0.92" ry="1.04"/>
<ellipse cx="573.79" cy="41.35" rx="0.78" ry="0.8"/>
<ellipse cx="484.11" cy="61.58" rx="0.88" ry="0.73"/>
<ellipse cx="508.05" cy="59.23" rx="1.12" ry="0.86"/>
<ellipse cx="535.66" cy="74.53" rx="0.77" ry="1.03"/>
<ellipse cx="566.11" cy="85.03" rx="1.1" ry="0.98"/>
<ellipse cx="487.19" cy="21.83" rx="0.89" ry="0.99"/>
<ellipse cx="486.06" cy="50.46" rx="1.04" ry="0.87"/>
<ellipse cx="570.96" cy="63.38" rx="0.68" ry="0.62"/>
<ellipse cx="502.1" cy="44.93" rx="0.68" ry="0.86"/>
<ellipse cx="524.86" cy="15.88" rx="0.8" ry="0.79"/>
<ellipse cx="530.76" cy="28.64" rx="0.91" ry="0.96"/>
<ellipse cx="548.84" cy="56.81" rx="1.1" ry="0.94"/>
<ellipse cx="485.06" cy="36.98" rx="0.98" ry="0.96"/>
<ellipse cx="558.01" cy="6.11" rx="0.74" ry="0.71"/>
</g>
<path d="M559 5.9 C562.02 6.58 565.9 6.58 569.1 10.1 C572.3 13.62 573.66 17.8 575 23.5 C576.34 29.2 576.32 32.22 575.8 38.6 C575.28 44.98 574.42 48.68 572.4 55.4 C570.38 62.12 568.04 66.16 565.7 72.2 C563.36 78.24 564.38 81.4 560.7 85.6 C557.02 89.8 553.02 90.84 547.3 93.2 C541.58 95.56 538.48 96.4 532.1 97.4 C525.72 98.4 520.76 98.88 515.4 98.2 C510.04 97.52 510.34 95.84 505.3 94 C500.26 92.16 494.56 91.34 490.2 89 C485.84 86.66 485.86 85.66 483.5 82.3 C481.14 78.94 480.42 76.24 478.4 72.2 C476.38 68.16 473.72 65.8 473.4 62.1 C473.08 58.4 475.12 58.06 476.8 53.7 C478.48 49.34 479.8 44.66 481.8 40.3 C483.8 35.94 483.44 33.92 486.8 31.9 C490.16 29.88 493.56 31.04 498.6 30.2 C503.64 29.36 506.96 29.38 512 27.7 C517.04 26.02 518.76 23.98 523.8 21.8 C528.84 19.62 532.18 19.14 537.2 16.8 C542.22 14.46 545.54 12.12 548.9 10.1 C552.26 8.08 551.98 7.54 554 6.7 C556.02 5.86 555.98 5.22 559 5.9Z" fill="none" stroke="#000" stroke-width="2.5" opacity="0.55" filter="url(#nblur)"/>
</g>
<g filter="url(#soft)">
<ellipse cx="538.44" cy="95.73" rx="1.77" ry="1.49" fill="#3a0000" stroke="#e8231b" stroke-width="1.25"/>
<ellipse cx="476.22" cy="55.08" rx="1.76" ry="1.39" fill="#3a0000" stroke="#e8231b" stroke-width="1.12"/>
<ellipse cx="566.29" cy="69.15" rx="1.75" ry="1.48" fill="#e8231b" opacity="0.66"/>
<ellipse cx="510.98" cy="28.73" rx="1.52" ry="1.47" fill="#3a0000" stroke="#e8231b" stroke-width="0.99"/>
<ellipse cx="476.51" cy="65.62" rx="2.32" ry="1.48" fill="#3a0000" stroke="#e8231b" stroke-width="0.87"/>
<ellipse cx="549.38" cy="92.89" rx="2.34" ry="2.04" fill="#e8231b" opacity="0.83"/>
<ellipse cx="487.71" cy="33.36" rx="2.02" ry="1.9" fill="#3a0000" stroke="#e8231b" stroke-width="1.3"/>
<ellipse cx="541.77" cy="14.68" rx="1.85" ry="1.19" fill="#3a0000" stroke="#e8231b" stroke-width="1.13"/>
<ellipse cx="527.31" cy="21.14" rx="1.28" ry="1.27" fill="#3a0000" stroke="#e8231b" stroke-width="0.84"/>
<ellipse cx="573.73" cy="25.01" rx="2.12" ry="1.31" fill="#3a0000" stroke="#e8231b" stroke-width="1.11"/>
<ellipse cx="571.26" cy="15.5" rx="2.42" ry="1.43" fill="#e8231b" opacity="0.61"/>
<ellipse cx="560.64" cy="4.99" rx="1.51" ry="1.16" fill="#e8231b" opacity="0.66"/>
<ellipse cx="569" cy="14" rx="1.37" ry="1.03" fill="#3a0000" stroke="#e8231b" stroke-width="1.23"/>
<ellipse cx="483.21" cy="79.47" rx="1.94" ry="1.56" fill="#3a0000" stroke="#e8231b" stroke-width="1.02"/>
<ellipse cx="554.69" cy="7.36" rx="1.59" ry="1.01" fill="#e8231b" opacity="0.92"/>
<ellipse cx="505.14" cy="29.39" rx="1.36" ry="1" fill="#3a0000" stroke="#e8231b" stroke-width="0.98"/>
<ellipse cx="488.48" cy="86.74" rx="1.91" ry="1.16" fill="#3a0000" stroke="#e8231b" stroke-width="0.98"/>
<ellipse cx="524.1" cy="21.82" rx="1.72" ry="1.12" fill="#e8231b" opacity="0.84"/>
<ellipse cx="509.61" cy="95.92" rx="2.37" ry="1.54" fill="#3a0000" stroke="#e8231b" stroke-width="1.05"/>
<ellipse cx="534.48" cy="17.65" rx="1.72" ry="1.1" fill="#3a0000" stroke="#e8231b" stroke-width="0.96"/>
<ellipse cx="495.64" cy="91.01" rx="2.47" ry="2.05" fill="#e8231b" opacity="0.69"/>
<ellipse cx="499.9" cy="29.15" rx="1.93" ry="1.66" fill="#e8231b" opacity="0.94"/>
<ellipse cx="560.56" cy="82.34" rx="1.3" ry="1.09" fill="#3a0000" stroke="#e8231b" stroke-width="1.01"/>
<ellipse cx="484.72" cy="36.05" rx="1.79" ry="1.2" fill="#e8231b" opacity="0.97"/>
<ellipse cx="566.42" cy="71.01" rx="1.95" ry="1.6" fill="#3a0000" stroke="#e8231b" stroke-width="1.29"/>
<ellipse cx="554" cy="8.15" rx="2" ry="1.43" fill="#3a0000" stroke="#e8231b" stroke-width="0.97"/>
<ellipse cx="544.03" cy="94.41" rx="1.41" ry="0.7" fill="#e8231b" opacity="0.92"/>
<ellipse cx="486.08" cy="38.69" rx="1.99" ry="1.65" fill="#e8231b" opacity="0.67"/>
<ellipse cx="509.05" cy="96.08" rx="1.26" ry="0.82" fill="#3a0000" stroke="#e8231b" stroke-width="0.86"/>
<ellipse cx="491.03" cy="31.32" rx="1.44" ry="1.33" fill="#3a0000" stroke="#e8231b" stroke-width="0.89"/>
<ellipse cx="520.61" cy="97.56" rx="1.21" ry="1.14" fill="#3a0000" stroke="#e8231b" stroke-width="0.82"/>
<ellipse cx="522.01" cy="97.81" rx="1.32" ry="1.15" fill="#e8231b" opacity="0.94"/>
<ellipse cx="571.36" cy="55.37" rx="1.24" ry="1" fill="#3a0000" stroke="#e8231b" stroke-width="1.04"/>
<ellipse cx="565.05" cy="72.49" rx="2" ry="1.13" fill="#e8231b" opacity="0.73"/>
<ellipse cx="571.5" cy="53.93" rx="2.15" ry="1.33" fill="#3a0000" stroke="#e8231b" stroke-width="1.03"/>
<ellipse cx="533.26" cy="19.97" rx="2.04" ry="1.34" fill="#e8231b" opacity="0.8"/>
<ellipse cx="551.94" cy="8.83" rx="1.28" ry="0.78" fill="#e8231b" opacity="0.84"/>
<ellipse cx="474.96" cy="65.8" rx="1.59" ry="1.31" fill="#3a0000" stroke="#e8231b" stroke-width="1.24"/>
<ellipse cx="571.24" cy="54.15" rx="1.99" ry="1.83" fill="#3a0000" stroke="#e8231b" stroke-width="1.13"/>
<ellipse cx="555.81" cy="7.5" rx="2.16" ry="1.27" fill="#e8231b" opacity="0.76"/>
<ellipse cx="484.3" cy="35.01" rx="1.49" ry="1.3" fill="#e8231b" opacity="0.65"/>
<ellipse cx="573.7" cy="50.4" rx="1.89" ry="1.16" fill="#3a0000" stroke="#e8231b" stroke-width="1.18"/>
<ellipse cx="482.94" cy="38.54" rx="1.32" ry="1.08" fill="#3a0000" stroke="#e8231b" stroke-width="1.23"/>
<ellipse cx="560.33" cy="80.57" rx="1.5" ry="1.35" fill="#3a0000" stroke="#e8231b" stroke-width="1"/>
<ellipse cx="487.01" cy="83.64" rx="2.48" ry="1.46" fill="#e8231b" opacity="0.97"/>
</g>
<g filter="url(#soft)">
<ellipse cx="540.25" cy="95.01" rx="0.55" ry="0.28" fill="#e0e0e0" opacity="0.85"/>
<ellipse cx="494.7" cy="32.48" rx="0.63" ry="0.55" fill="#e0e0e0" opacity="0.85"/>
<ellipse cx="520.64" cy="96.24" rx="1.07" ry="0.55" fill="#e0e0e0" opacity="0.85"/>
<ellipse cx="531.18" cy="19.58" rx="0.69" ry="0.64" fill="#e0e0e0" opacity="0.85"/>
<ellipse cx="556.05" cy="7.23" rx="1.01" ry="0.74" fill="#e0e0e0" opacity="0.85"/>
<ellipse cx="481.2" cy="78.11" rx="0.55" ry="0.64" fill="#e0e0e0" opacity="0.85"/>
<ellipse cx="492.36" cy="31.09" rx="0.92" ry="0.66" fill="#e0e0e0" opacity="0.85"/>
<ellipse cx="482.89" cy="37.62" rx="0.77" ry="0.51" fill="#e0e0e0" opacity="0.85"/>
<ellipse cx="526.6" cy="95.17" rx="0.88" ry="0.61" fill="#e0e0e0" opacity="0.85"/>
</g>
<clipPath id="cl2"><path d="M620 6.4 C623.86 6.24 628.62 5.58 634.4 7.2 C640.18 8.82 643.76 11.44 648.9 14.5 C654.04 17.56 657.22 18 660.1 22.5 C662.98 27 661.86 31.54 663.3 37 C664.74 42.46 667.3 45 667.3 49.8 C667.3 54.6 664.74 55.54 663.3 61 C661.86 66.46 661.38 71.3 660.1 77.1 C658.82 82.9 659.14 85.5 656.9 90 C654.66 94.5 652.44 96.4 648.9 99.6 C645.36 102.8 644.34 104.08 639.2 106 C634.06 107.92 630.26 108.88 623.2 109.2 C616.14 109.52 610.64 109.2 603.9 107.6 C597.16 106 594 104.72 589.5 101.2 C585 97.68 583.02 95.46 581.4 90 C579.78 84.54 580.12 78.74 581.4 73.9 C582.68 69.06 583.3 68.38 587.8 65.8 C592.3 63.22 598.1 62.28 603.9 61 C609.7 59.72 613.26 61.96 616.8 59.4 C620.34 56.84 621.94 52.38 621.6 48.2 C621.26 44.02 618.96 41.08 615.1 38.5 C611.24 35.92 605.18 37.86 602.3 35.3 C599.42 32.74 599.74 29.86 600.7 25.7 C601.66 21.54 604.22 18.04 607.1 14.5 C609.98 10.96 612.52 9.62 615.1 8 C617.68 6.38 616.14 6.56 620 6.4Z"/></clipPath>
<g clip-path="url(#cl2)">
<path d="M620 6.4 C623.86 6.24 628.62 5.58 634.4 7.2 C640.18 8.82 643.76 11.44 648.9 14.5 C654.04 17.56 657.22 18 660.1 22.5 C662.98 27 661.86 31.54 663.3 37 C664.74 42.46 667.3 45 667.3 49.8 C667.3 54.6 664.74 55.54 663.3 61 C661.86 66.46 661.38 71.3 660.1 77.1 C658.82 82.9 659.14 85.5 656.9 90 C654.66 94.5 652.44 96.4 648.9 99.6 C645.36 102.8 644.34 104.08 639.2 106 C634.06 107.92 630.26 108.88 623.2 109.2 C616.14 109.52 610.64 109.2 603.9 107.6 C597.16 106 594 104.72 589.5 101.2 C585 97.68 583.02 95.46 581.4 90 C579.78 84.54 580.12 78.74 581.4 73.9 C582.68 69.06 583.3 68.38 587.8 65.8 C592.3 63.22 598.1 62.28 603.9 61 C609.7 59.72 613.26 61.96 616.8 59.4 C620.34 56.84 621.94 52.38 621.6 48.2 C621.26 44.02 618.96 41.08 615.1 38.5 C611.24 35.92 605.18 37.86 602.3 35.3 C599.42 32.74 599.74 29.86 600.7 25.7 C601.66 21.54 604.22 18.04 607.1 14.5 C609.98 10.96 612.52 9.62 615.1 8 C617.68 6.38 616.14 6.56 620 6.4Z" fill="#3ae42e"/>
<rect x="579.4" y="4.4" width="89.9" height="106.8" fill="#000" filter="url(#mottle3)"/>
<rect x="579.4" y="4.4" width="89.9" height="106.8" fill="#000" filter="url(#holes)"/>
<g fill="#000" filter="url(#nblur)" opacity="1">
<ellipse cx="634.91" cy="82.66" rx="0.97" ry="1.13"/>
<ellipse cx="649.71" cy="103.28" rx="0.98" ry="1.16"/>
<ellipse cx="644.96" cy="101.22" rx="0.71" ry="0.77"/>
<ellipse cx="583.89" cy="54.27" rx="0.85" ry="1.03"/>
<ellipse cx="662.43" cy="73.11" rx="0.72" ry="0.8"/>
<ellipse cx="658.79" cy="18.04" rx="0.82" ry="0.95"/>
<ellipse cx="621.69" cy="31.75" rx="0.94" ry="1.22"/>
<ellipse cx="628.11" cy="65.4" rx="1.07" ry="1.03"/>
<ellipse cx="582.53" cy="28.68" rx="0.81" ry="1.02"/>
<ellipse cx="605.41" cy="100.6" rx="1.12" ry="0.92"/>
<ellipse cx="647.18" cy="22.81" rx="1.1" ry="1.14"/>
<ellipse cx="634.44" cy="19.42" rx="1.24" ry="1.15"/>
<ellipse cx="581.55" cy="95.98" rx="0.85" ry="0.84"/>
<ellipse cx="599.39" cy="28.55" rx="1.02" ry="1.09"/>
<ellipse cx="665.79" cy="96.08" rx="0.91" ry="1.03"/>
<ellipse cx="606.25" cy="105.24" rx="1.14" ry="1.06"/>
<ellipse cx="627.72" cy="76.08" rx="0.71" ry="0.68"/>
<ellipse cx="598.99" cy="103.13" rx="0.68" ry="0.68"/>
<ellipse cx="640.73" cy="105.76" rx="0.96" ry="0.98"/>
<ellipse cx="658.17" cy="37.12" rx="1.09" ry="0.88"/>
<ellipse cx="612.43" cy="23.46" rx="0.64" ry="0.86"/>
<ellipse cx="593.92" cy="13.1" rx="0.87" ry="0.79"/>
<ellipse cx="607.29" cy="68.4" rx="1.03" ry="0.96"/>
<ellipse cx="581.69" cy="76.09" rx="0.75" ry="0.67"/>
<ellipse cx="610.43" cy="38.26" rx="0.97" ry="0.96"/>
<ellipse cx="651.71" cy="55.82" rx="1.01" ry="0.89"/>
<ellipse cx="608.53" cy="55.87" rx="1.14" ry="0.99"/>
<ellipse cx="641.93" cy="12.26" rx="0.85" ry="0.7"/>
<ellipse cx="665.16" cy="8.75" rx="0.65" ry="0.88"/>
<ellipse cx="645.81" cy="93.25" rx="0.67" ry="0.74"/>
<ellipse cx="582.95" cy="87.38" rx="1.13" ry="0.86"/>
<ellipse cx="612.86" cy="65.87" rx="0.85" ry="1.04"/>
<ellipse cx="582.18" cy="11.2" rx="0.93" ry="0.98"/>
<ellipse cx="598.28" cy="84.09" rx="0.88" ry="0.73"/>
<ellipse cx="661.26" cy="103.24" rx="0.8" ry="0.82"/>
<ellipse cx="610.98" cy="42.87" rx="0.76" ry="0.99"/>
<ellipse cx="626.47" cy="86.13" rx="1.14" ry="1.1"/>
<ellipse cx="590.68" cy="83.34" rx="0.89" ry="0.89"/>
<ellipse cx="649.88" cy="94.78" rx="0.8" ry="0.71"/>
<ellipse cx="584.55" cy="103.63" rx="0.9" ry="0.91"/>
<ellipse cx="589.23" cy="41.43" rx="0.66" ry="0.79"/>
<ellipse cx="633.87" cy="100.78" rx="1.15" ry="0.84"/>
<ellipse cx="610.6" cy="101.41" rx="0.97" ry="0.9"/>
<ellipse cx="628.23" cy="38.52" rx="1.12" ry="0.98"/>
<ellipse cx="588.12" cy="21.7" rx="0.99" ry="1"/>
<ellipse cx="666.16" cy="61.25" rx="0.86" ry="0.72"/>
<ellipse cx="616.27" cy="30.8" rx="0.93" ry="0.98"/>
<ellipse cx="632.42" cy="91.34" rx="0.77" ry="0.64"/>
<ellipse cx="620.54" cy="49.76" rx="0.62" ry="0.79"/>
<ellipse cx="653.42" cy="19.82" rx="1.02" ry="0.81"/>
<ellipse cx="635.55" cy="87.41" rx="0.93" ry="0.93"/>
<ellipse cx="590.56" cy="51.07" rx="0.73" ry="0.82"/>
<ellipse cx="594.22" cy="93.24" rx="1.2" ry="1.1"/>
<ellipse cx="665.24" cy="53.02" rx="0.85" ry="0.84"/>
<ellipse cx="623.33" cy="81.39" rx="0.97" ry="0.88"/>
<ellipse cx="622.55" cy="36.32" rx="0.78" ry="0.77"/>
<ellipse cx="616.09" cy="21.46" rx="0.73" ry="0.85"/>
<ellipse cx="613.78" cy="108.01" rx="0.99" ry="0.93"/>
<ellipse cx="624.29" cy="41.2" rx="1" ry="0.78"/>
<ellipse cx="589.06" cy="34.39" rx="0.74" ry="0.87"/>
<ellipse cx="612.44" cy="87.2" rx="1.01" ry="1.1"/>
<ellipse cx="647.96" cy="77.8" rx="0.7" ry="0.75"/>
<ellipse cx="612.62" cy="78.82" rx="0.93" ry="0.73"/>
<ellipse cx="637.21" cy="66.09" rx="1.02" ry="0.84"/>
<ellipse cx="582.39" cy="62.63" rx="0.84" ry="0.81"/>
<ellipse cx="602.93" cy="75.44" rx="0.91" ry="0.67"/>
<ellipse cx="621.17" cy="90.35" rx="0.79" ry="0.77"/>
<ellipse cx="611.28" cy="72.61" rx="0.84" ry="0.84"/>
<ellipse cx="611.47" cy="93.05" rx="0.76" ry="0.74"/>
<ellipse cx="656.13" cy="77.16" rx="0.86" ry="0.94"/>
<ellipse cx="665.25" cy="104.73" rx="0.82" ry="0.58"/>
<ellipse cx="625.91" cy="60.82" rx="0.83" ry="0.75"/>
<ellipse cx="661.92" cy="55.46" rx="1.04" ry="0.94"/>
<ellipse cx="640.79" cy="80.38" rx="0.72" ry="0.82"/>
<ellipse cx="648.43" cy="66.11" rx="1.25" ry="0.97"/>
<ellipse cx="638.57" cy="49.66" rx="0.98" ry="1.05"/>
<ellipse cx="583.77" cy="22.85" rx="0.62" ry="0.64"/>
<ellipse cx="619.29" cy="73.23" rx="0.87" ry="0.87"/>
<ellipse cx="635.59" cy="10.7" rx="0.73" ry="0.76"/>
<ellipse cx="608.66" cy="25.06" rx="0.93" ry="1.15"/>
<ellipse cx="598.01" cy="10.07" rx="1" ry="0.99"/>
<ellipse cx="621.37" cy="45.49" rx="0.72" ry="0.77"/>
<ellipse cx="581.46" cy="48.07" rx="0.92" ry="0.86"/>
<ellipse cx="605.33" cy="48.55" rx="1.01" ry="0.98"/>
<ellipse cx="613.52" cy="10.11" rx="0.97" ry="0.9"/>
<ellipse cx="631.3" cy="104.91" rx="1.09" ry="0.92"/>
<ellipse cx="651.71" cy="49.48" rx="0.82" ry="0.96"/>
<ellipse cx="651.24" cy="72.43" rx="0.83" ry="0.76"/>
<ellipse cx="632.59" cy="64.36" rx="0.94" ry="0.96"/>
<ellipse cx="633.68" cy="42.49" rx="0.82" ry="0.82"/>
<ellipse cx="658.15" cy="6.5" rx="0.72" ry="0.7"/>
<ellipse cx="590.67" cy="64.57" rx="0.85" ry="0.79"/>
<ellipse cx="613.69" cy="50.78" rx="1.11" ry="0.97"/>
<ellipse cx="600.84" cy="36.37" rx="0.85" ry="1.02"/>
<ellipse cx="664.93" cy="45.44" rx="0.75" ry="0.82"/>
<ellipse cx="632.58" cy="33.11" rx="0.77" ry="0.75"/>
<ellipse cx="617.09" cy="39.21" rx="1.08" ry="0.95"/>
<ellipse cx="591.87" cy="70.31" rx="1.07" ry="0.92"/>
<ellipse cx="648.57" cy="31.65" rx="0.73" ry="0.85"/>
<ellipse cx="604.39" cy="22.31" rx="1.17" ry="1.03"/>
<ellipse cx="666.34" cy="36.54" rx="0.99" ry="0.86"/>
<ellipse cx="633.63" cy="55.19" rx="0.82" ry="0.99"/>
<ellipse cx="645.26" cy="18.55" rx="0.9" ry="0.87"/>
<ellipse cx="646.72" cy="37.31" rx="0.66" ry="0.71"/>
<ellipse cx="606.9" cy="60.87" rx="1.22" ry="1.03"/>
<ellipse cx="584.53" cy="32.35" rx="0.91" ry="1.21"/>
<ellipse cx="620.54" cy="100.62" rx="0.94" ry="0.83"/>
<ellipse cx="657.67" cy="62.49" rx="0.7" ry="0.72"/>
<ellipse cx="618.14" cy="65.58" rx="1.05" ry="1.1"/>
<ellipse cx="642.23" cy="71.39" rx="0.74" ry="0.59"/>
<ellipse cx="614.51" cy="46.68" rx="1.02" ry="0.83"/>
<ellipse cx="654.58" cy="26.6" rx="0.94" ry="0.95"/>
<ellipse cx="606.86" cy="91.73" rx="1.05" ry="1.11"/>
<ellipse cx="587.07" cy="92.37" rx="0.95" ry="1.04"/>
<ellipse cx="606" cy="86.66" rx="0.67" ry="0.78"/>
<ellipse cx="594.59" cy="66.63" rx="1.14" ry="0.82"/>
<ellipse cx="651.14" cy="13.43" rx="1" ry="1.02"/>
<ellipse cx="601.16" cy="90.65" rx="1.12" ry="0.85"/>
<ellipse cx="583.6" cy="80.68" rx="0.96" ry="0.94"/>
<ellipse cx="665.47" cy="109.03" rx="0.77" ry="0.94"/>
<ellipse cx="636.87" cy="104.29" rx="0.72" ry="0.63"/>
<ellipse cx="590.7" cy="45.38" rx="0.75" ry="0.77"/>
<ellipse cx="587.59" cy="12.32" rx="1.02" ry="0.89"/>
<ellipse cx="630.81" cy="82.71" rx="0.76" ry="0.73"/>
<ellipse cx="624.85" cy="99.99" rx="0.87" ry="0.83"/>
<ellipse cx="629.07" cy="70.23" rx="1.09" ry="0.93"/>
<ellipse cx="603.23" cy="83.56" rx="0.99" ry="1.07"/>
<ellipse cx="625.81" cy="20.15" rx="0.95" ry="0.79"/>
<ellipse cx="601.54" cy="44.56" rx="1.09" ry="1.04"/>
<ellipse cx="588.72" cy="75.07" rx="0.83" ry="0.76"/>
<ellipse cx="656.73" cy="55.79" rx="0.84" ry="0.82"/>
<ellipse cx="600.56" cy="18.33" rx="1.17" ry="0.96"/>
<ellipse cx="654.55" cy="59.6" rx="0.78" ry="0.97"/>
<ellipse cx="644.98" cy="47.06" rx="0.97" ry="0.83"/>
<ellipse cx="646.71" cy="6.45" rx="0.92" ry="0.85"/>
<ellipse cx="634.61" cy="50.46" rx="0.94" ry="0.98"/>
<ellipse cx="621.39" cy="16.65" rx="0.9" ry="0.98"/>
<ellipse cx="594.69" cy="22.75" rx="0.72" ry="0.79"/>
<ellipse cx="657.02" cy="22.04" rx="0.94" ry="0.89"/>
<ellipse cx="595.28" cy="35.91" rx="0.74" ry="0.68"/>
<ellipse cx="601.6" cy="55.95" rx="0.89" ry="1.02"/>
<ellipse cx="640.47" cy="75.67" rx="0.66" ry="0.63"/>
<ellipse cx="595.43" cy="31.13" rx="0.94" ry="0.73"/>
<ellipse cx="628.51" cy="108.13" rx="0.86" ry="0.99"/>
<ellipse cx="661.78" cy="11.93" rx="1.06" ry="1.02"/>
<ellipse cx="602.31" cy="11.59" rx="1.15" ry="0.89"/>
<ellipse cx="607.68" cy="11.68" rx="0.85" ry="0.64"/>
<ellipse cx="596.81" cy="58.69" rx="0.74" ry="0.73"/>
<ellipse cx="615.96" cy="61.02" rx="0.73" ry="0.72"/>
<ellipse cx="660.54" cy="67.9" rx="0.82" ry="0.75"/>
<ellipse cx="623.19" cy="65.14" rx="0.88" ry="1.06"/>
<ellipse cx="651.79" cy="38.56" rx="0.89" ry="1.17"/>
<ellipse cx="613.51" cy="16.53" rx="0.9" ry="1"/>
<ellipse cx="658.37" cy="73.64" rx="0.9" ry="0.75"/>
<ellipse cx="655.26" cy="103.98" rx="0.85" ry="1.05"/>
<ellipse cx="609.78" cy="7.68" rx="0.89" ry="0.68"/>
<ellipse cx="626.95" cy="24" rx="0.9" ry="0.81"/>
<ellipse cx="642.34" cy="52.27" rx="0.87" ry="1.16"/>
<ellipse cx="662.02" cy="88.1" rx="1.01" ry="0.78"/>
<ellipse cx="605.2" cy="27.08" rx="0.84" ry="0.98"/>
<ellipse cx="629.71" cy="43.1" rx="1.03" ry="1.03"/>
<ellipse cx="611.62" cy="31.92" rx="0.69" ry="0.71"/>
<ellipse cx="654.4" cy="69.95" rx="0.84" ry="1.09"/>
<ellipse cx="658.73" cy="26.89" rx="0.75" ry="0.79"/>
<ellipse cx="640.06" cy="95.13" rx="0.77" ry="0.67"/>
<ellipse cx="597.27" cy="46.4" rx="0.9" ry="0.96"/>
<ellipse cx="608.21" cy="45.76" rx="0.78" ry="0.64"/>
<ellipse cx="639.77" cy="60.08" rx="0.98" ry="1"/>
<ellipse cx="658.38" cy="30.98" rx="0.88" ry="0.9"/>
<ellipse cx="637.5" cy="98.87" rx="1.09" ry="0.87"/>
<ellipse cx="607.65" cy="33.92" rx="0.7" ry="0.65"/>
<ellipse cx="595.78" cy="71.45" rx="0.87" ry="0.76"/>
<ellipse cx="664.43" cy="25.65" rx="0.93" ry="0.84"/>
<ellipse cx="584.02" cy="18.28" rx="0.99" ry="0.88"/>
<ellipse cx="632.47" cy="72.85" rx="0.74" ry="0.64"/>
<ellipse cx="590.06" cy="26.29" rx="1.04" ry="0.76"/>
<ellipse cx="590.28" cy="16.98" rx="1.05" ry="1.19"/>
<ellipse cx="623.96" cy="105.37" rx="0.79" ry="0.74"/>
<ellipse cx="606.82" cy="18.41" rx="0.83" ry="0.86"/>
<ellipse cx="614.22" cy="36.27" rx="0.92" ry="0.91"/>
<ellipse cx="606.82" cy="41.04" rx="0.97" ry="0.86"/>
<ellipse cx="585.73" cy="49.65" rx="1.09" ry="0.9"/>
<ellipse cx="589.65" cy="55.49" rx="0.66" ry="0.71"/>
<ellipse cx="614.58" cy="102.41" rx="0.76" ry="0.82"/>
<ellipse cx="651.05" cy="6.93" rx="1.1" ry="0.98"/>
<ellipse cx="647.19" cy="43.52" rx="0.76" ry="1"/>
<ellipse cx="625.79" cy="11.86" rx="0.71" ry="0.76"/>
<ellipse cx="619.42" cy="54.91" rx="0.78" ry="1.04"/>
<ellipse cx="663.41" cy="77.03" rx="0.94" ry="0.73"/>
<ellipse cx="616.9" cy="96.27" rx="1.01" ry="0.76"/>
<ellipse cx="594.13" cy="86.68" rx="1.03" ry="1"/>
<ellipse cx="617.66" cy="106.33" rx="0.75" ry="0.64"/>
<ellipse cx="638.65" cy="19.08" rx="0.61" ry="0.63"/>
<ellipse cx="595.94" cy="53.45" rx="0.87" ry="1.03"/>
<ellipse cx="658.49" cy="97.41" rx="0.69" ry="0.83"/>
<ellipse cx="613.07" cy="55.51" rx="0.76" ry="0.91"/>
<ellipse cx="602.09" cy="64.86" rx="0.9" ry="0.83"/>
<ellipse cx="586.22" cy="57.86" rx="0.86" ry="1.04"/>
<ellipse cx="626.82" cy="46.36" rx="1.04" ry="0.96"/>
<ellipse cx="656.69" cy="51.49" rx="0.94" ry="0.85"/>
<ellipse cx="644.94" cy="64.09" rx="0.78" ry="0.86"/>
<ellipse cx="656.25" cy="10.49" rx="0.81" ry="0.64"/>
<ellipse cx="633.97" cy="29.17" rx="0.84" ry="1.05"/>
<ellipse cx="662.92" cy="17.81" rx="0.82" ry="0.82"/>
<ellipse cx="646.53" cy="59.42" rx="0.84" ry="0.75"/>
<ellipse cx="637.29" cy="24.37" rx="1.17" ry="0.94"/>
<ellipse cx="643.59" cy="33.2" rx="0.58" ry="0.67"/>
<ellipse cx="590.22" cy="108.94" rx="0.75" ry="0.75"/>
<ellipse cx="595.42" cy="78.23" rx="0.93" ry="1.22"/>
<ellipse cx="662.46" cy="38.52" rx="1.16" ry="0.99"/>
<ellipse cx="639.45" cy="41.34" rx="0.86" ry="0.97"/>
<ellipse cx="623.88" cy="6.52" rx="0.73" ry="0.79"/>
<ellipse cx="649.33" cy="85.71" rx="0.87" ry="1.1"/>
<ellipse cx="627.38" cy="55.6" rx="0.97" ry="1"/>
<ellipse cx="604.92" cy="7.44" rx="0.74" ry="0.86"/>
<ellipse cx="586.28" cy="7.89" rx="1" ry="0.93"/>
<ellipse cx="607.17" cy="81.32" rx="1.13" ry="1.06"/>
<ellipse cx="640.6" cy="28.71" rx="0.86" ry="0.97"/>
<ellipse cx="620.55" cy="85.32" rx="0.83" ry="0.93"/>
<ellipse cx="640.06" cy="84.81" rx="0.72" ry="0.82"/>
<ellipse cx="619.49" cy="26.01" rx="0.62" ry="0.71"/>
<ellipse cx="653.58" cy="43.99" rx="0.85" ry="0.75"/>
<ellipse cx="590.41" cy="7.02" rx="0.92" ry="0.8"/>
<ellipse cx="586.42" cy="68.27" rx="0.83" ry="0.77"/>
<ellipse cx="605.3" cy="52.61" rx="1.02" ry="1.02"/>
<ellipse cx="654.05" cy="64.97" rx="0.8" ry="0.78"/>
<ellipse cx="595.29" cy="40.55" rx="0.79" ry="0.59"/>
<ellipse cx="654.71" cy="92.93" rx="0.88" ry="0.7"/>
<ellipse cx="590.96" cy="97.41" rx="0.8" ry="0.78"/>
<ellipse cx="667.04" cy="19.78" rx="0.93" ry="0.74"/>
<ellipse cx="645.61" cy="81.16" rx="1.04" ry="1.04"/>
<ellipse cx="661.45" cy="47.72" rx="0.69" ry="0.8"/>
<ellipse cx="603.34" cy="70.08" rx="0.94" ry="0.93"/>
<ellipse cx="666.36" cy="87.41" rx="0.78" ry="0.77"/>
<ellipse cx="597.88" cy="107.59" rx="0.89" ry="0.87"/>
<ellipse cx="666.9" cy="82.49" rx="0.71" ry="0.82"/>
<ellipse cx="660.46" cy="92.31" rx="0.84" ry="0.75"/>
<ellipse cx="643.24" cy="56.88" rx="0.93" ry="1.02"/>
<ellipse cx="582.3" cy="37.73" rx="0.78" ry="0.86"/>
<ellipse cx="653.29" cy="82.92" rx="0.82" ry="0.92"/>
<ellipse cx="635.89" cy="94.3" rx="0.92" ry="0.83"/>
<ellipse cx="623.25" cy="95.99" rx="1.21" ry="0.94"/>
<ellipse cx="635.44" cy="77.42" rx="0.91" ry="0.75"/>
<ellipse cx="626.24" cy="92.63" rx="0.83" ry="0.9"/>
<ellipse cx="662.67" cy="84.12" rx="0.74" ry="0.62"/>
<ellipse cx="630.22" cy="98.55" rx="0.86" ry="1.01"/>
<ellipse cx="626.39" cy="34.05" rx="0.85" ry="0.95"/>
<ellipse cx="667.04" cy="70.27" rx="0.76" ry="0.63"/>
<ellipse cx="623.73" cy="27.94" rx="0.85" ry="0.85"/>
<ellipse cx="585.35" cy="97.78" rx="0.77" ry="0.66"/>
<ellipse cx="592.91" cy="103.83" rx="1.03" ry="1.03"/>
<ellipse cx="637.73" cy="33.34" rx="0.79" ry="0.8"/>
<ellipse cx="581.59" cy="67.09" rx="0.86" ry="1"/>
<ellipse cx="665.96" cy="29.89" rx="0.94" ry="0.93"/>
<ellipse cx="637.31" cy="70.95" rx="0.7" ry="0.71"/>
<ellipse cx="650.75" cy="61.2" rx="1.06" ry="1.17"/>
<ellipse cx="666.49" cy="41.27" rx="0.65" ry="0.67"/>
<ellipse cx="594.23" cy="27.21" rx="0.88" ry="0.89"/>
<ellipse cx="622.12" cy="76.71" rx="1.03" ry="0.95"/>
<ellipse cx="628.26" cy="50.37" rx="0.7" ry="0.72"/>
<ellipse cx="618.25" cy="9.6" rx="0.66" ry="0.71"/>
<ellipse cx="633.18" cy="109.12" rx="0.7" ry="0.81"/>
<ellipse cx="607.82" cy="74.68" rx="0.77" ry="0.8"/>
<ellipse cx="635.58" cy="14.9" rx="0.93" ry="1.22"/>
<ellipse cx="641.99" cy="22.12" rx="0.81" ry="0.7"/>
<ellipse cx="639" cy="90.67" rx="0.84" ry="0.77"/>
<ellipse cx="656.56" cy="108.75" rx="0.65" ry="0.66"/>
<ellipse cx="633.34" cy="37.31" rx="1.17" ry="0.84"/>
<ellipse cx="648.57" cy="108.69" rx="0.93" ry="0.7"/>
<ellipse cx="584.16" cy="72.35" rx="1.15" ry="0.92"/>
<ellipse cx="623.68" cy="53.27" rx="0.72" ry="0.78"/>
<ellipse cx="657.58" cy="86.81" rx="0.72" ry="0.71"/>
<ellipse cx="632.89" cy="23.16" rx="1" ry="0.87"/>
<ellipse cx="630.66" cy="6.61" rx="1.2" ry="1.04"/>
<ellipse cx="631.65" cy="12.21" rx="0.78" ry="0.71"/>
<ellipse cx="622.58" cy="69.63" rx="1.2" ry="1.14"/>
<ellipse cx="594.47" cy="18.1" rx="0.87" ry="0.85"/>
<ellipse cx="616.83" cy="90.75" rx="0.91" ry="0.94"/>
<ellipse cx="620.27" cy="60.99" rx="0.78" ry="0.62"/>
<ellipse cx="587.39" cy="86.09" rx="0.65" ry="0.76"/>
<ellipse cx="594.78" cy="62.57" rx="0.95" ry="0.82"/>
<ellipse cx="627.89" cy="29.86" rx="1.02" ry="0.91"/>
<ellipse cx="615.52" cy="83.39" rx="1.11" ry="0.89"/>
<ellipse cx="599.09" cy="95.16" rx="0.96" ry="1.03"/>
<ellipse cx="646.74" cy="72.37" rx="0.98" ry="0.95"/>
<ellipse cx="667" cy="14.52" rx="0.6" ry="0.77"/>
<ellipse cx="645.58" cy="10.35" rx="1.01" ry="1"/>
<ellipse cx="638.11" cy="55.23" rx="0.83" ry="0.88"/>
<ellipse cx="658.72" cy="82.46" rx="0.71" ry="0.88"/>
<ellipse cx="633.21" cy="68.52" rx="0.94" ry="0.84"/>
<ellipse cx="596.57" cy="98.55" rx="0.79" ry="0.99"/>
<ellipse cx="591.1" cy="59.24" rx="0.84" ry="0.67"/>
<ellipse cx="591.05" cy="89.71" rx="1.18" ry="0.92"/>
<ellipse cx="597.87" cy="14.26" rx="0.68" ry="0.63"/>
<ellipse cx="661.57" cy="21.83" rx="0.91" ry="0.85"/>
<ellipse cx="603.06" cy="97.15" rx="0.99" ry="0.82"/>
<ellipse cx="618.11" cy="80.15" rx="0.76" ry="0.79"/>
<ellipse cx="591.96" cy="38.33" rx="0.75" ry="0.72"/>
<ellipse cx="637.44" cy="108.83" rx="1" ry="0.87"/>
<ellipse cx="630.41" cy="17.29" rx="1.08" ry="1.13"/>
<ellipse cx="584.75" cy="41.44" rx="0.88" ry="1.1"/>
<ellipse cx="660.66" cy="108.81" rx="0.82" ry="0.84"/>
<ellipse cx="637.6" cy="45.16" rx="0.99" ry="0.81"/>
<ellipse cx="649.2" cy="52.62" rx="0.69" ry="0.66"/>
<ellipse cx="612.06" cy="97.46" rx="0.81" ry="0.85"/>
<ellipse cx="601.6" cy="60.6" rx="1.01" ry="1.07"/>
<ellipse cx="652.01" cy="106.56" rx="1.14" ry="0.86"/>
<ellipse cx="586.25" cy="107.91" rx="0.71" ry="0.98"/>
<ellipse cx="600.4" cy="40.65" rx="0.9" ry="0.97"/>
<ellipse cx="635.25" cy="61.26" rx="1.15" ry="1.13"/>
<ellipse cx="651.22" cy="90.84" rx="0.92" ry="0.76"/>
<ellipse cx="645.63" cy="87.57" rx="0.85" ry="0.9"/>
<ellipse cx="598.75" cy="50.54" rx="0.86" ry="1.07"/>
<ellipse cx="643.66" cy="108.55" rx="0.73" ry="0.81"/>
<ellipse cx="627.58" cy="80.32" rx="0.99" ry="0.99"/>
<ellipse cx="664.98" cy="100.15" rx="1.03" ry="1.01"/>
<ellipse cx="600.31" cy="22.69" rx="0.88" ry="0.63"/>
<ellipse cx="666.94" cy="65.61" rx="0.61" ry="0.69"/>
<ellipse cx="598.63" cy="74.42" rx="0.7" ry="0.89"/>
<ellipse cx="652.46" cy="33.99" rx="0.8" ry="0.78"/>
<ellipse cx="650.06" cy="17.54" rx="1.08" ry="1.21"/>
<ellipse cx="642.63" cy="38.5" rx="0.68" ry="0.87"/>
<ellipse cx="652.76" cy="99.33" rx="1.13" ry="0.84"/>
<ellipse cx="630.72" cy="59.62" rx="0.97" ry="0.86"/>
<ellipse cx="647.2" cy="14.29" rx="0.76" ry="0.97"/>
<ellipse cx="609.77" cy="107.93" rx="0.79" ry="0.96"/>
<ellipse cx="617.52" cy="14.08" rx="0.88" ry="0.98"/>
<ellipse cx="581.6" cy="107.14" rx="0.81" ry="0.68"/>
<ellipse cx="594.67" cy="7.08" rx="0.82" ry="0.78"/>
<ellipse cx="644.66" cy="26.04" rx="0.9" ry="1.13"/>
<ellipse cx="600.64" cy="6.66" rx="0.82" ry="0.83"/>
<ellipse cx="616.23" cy="69.19" rx="1.13" ry="0.91"/>
<ellipse cx="600.43" cy="79.23" rx="0.76" ry="0.84"/>
<ellipse cx="665.55" cy="57.19" rx="0.96" ry="1.05"/>
<ellipse cx="656.18" cy="14.88" rx="0.93" ry="0.79"/>
<ellipse cx="591.26" cy="79.05" rx="0.84" ry="0.66"/>
<ellipse cx="592.92" cy="74.64" rx="0.81" ry="0.86"/>
<ellipse cx="662.1" cy="60.4" rx="0.7" ry="0.72"/>
<ellipse cx="588.45" cy="102.26" rx="0.75" ry="0.76"/>
<ellipse cx="659.21" cy="42.18" rx="0.93" ry="1.02"/>
</g>
<path d="M620 6.4 C623.86 6.24 628.62 5.58 634.4 7.2 C640.18 8.82 643.76 11.44 648.9 14.5 C654.04 17.56 657.22 18 660.1 22.5 C662.98 27 661.86 31.54 663.3 37 C664.74 42.46 667.3 45 667.3 49.8 C667.3 54.6 664.74 55.54 663.3 61 C661.86 66.46 661.38 71.3 660.1 77.1 C658.82 82.9 659.14 85.5 656.9 90 C654.66 94.5 652.44 96.4 648.9 99.6 C645.36 102.8 644.34 104.08 639.2 106 C634.06 107.92 630.26 108.88 623.2 109.2 C616.14 109.52 610.64 109.2 603.9 107.6 C597.16 106 594 104.72 589.5 101.2 C585 97.68 583.02 95.46 581.4 90 C579.78 84.54 580.12 78.74 581.4 73.9 C582.68 69.06 583.3 68.38 587.8 65.8 C592.3 63.22 598.1 62.28 603.9 61 C609.7 59.72 613.26 61.96 616.8 59.4 C620.34 56.84 621.94 52.38 621.6 48.2 C621.26 44.02 618.96 41.08 615.1 38.5 C611.24 35.92 605.18 37.86 602.3 35.3 C599.42 32.74 599.74 29.86 600.7 25.7 C601.66 21.54 604.22 18.04 607.1 14.5 C609.98 10.96 612.52 9.62 615.1 8 C617.68 6.38 616.14 6.56 620 6.4Z" fill="none" stroke="#000" stroke-width="2.5" opacity="0.55" filter="url(#nblur)"/>
</g>
<g filter="url(#soft)">
<ellipse cx="615.59" cy="40.39" rx="2.21" ry="1.79" fill="#3a0000" stroke="#e8231b" stroke-width="1.22"/>
<ellipse cx="619.35" cy="9.31" rx="1.4" ry="0.83" fill="#e8231b" opacity="0.82"/>
<ellipse cx="618.8" cy="56.34" rx="1.42" ry="1.07" fill="#3a0000" stroke="#e8231b" stroke-width="1.18"/>
<ellipse cx="652.06" cy="15.41" rx="1.2" ry="0.82" fill="#3a0000" stroke="#e8231b" stroke-width="0.91"/>
<ellipse cx="664.44" cy="54.01" rx="1.85" ry="1.26" fill="#3a0000" stroke="#e8231b" stroke-width="1.27"/>
<ellipse cx="602.04" cy="25.42" rx="1.29" ry="1.19" fill="#e8231b" opacity="0.71"/>
<ellipse cx="631.46" cy="105.97" rx="2.11" ry="1.32" fill="#e8231b" opacity="0.93"/>
<ellipse cx="583.82" cy="70.47" rx="1.48" ry="1.37" fill="#e8231b" opacity="0.98"/>
<ellipse cx="614.81" cy="108.2" rx="1.64" ry="0.99" fill="#3a0000" stroke="#e8231b" stroke-width="0.82"/>
<ellipse cx="664.75" cy="57.1" rx="1.5" ry="1.17" fill="#3a0000" stroke="#e8231b" stroke-width="1.06"/>
<ellipse cx="599.92" cy="62.42" rx="2.24" ry="1.38" fill="#e8231b" opacity="0.77"/>
<ellipse cx="658.68" cy="21.17" rx="1.45" ry="1.17" fill="#e8231b" opacity="0.64"/>
<ellipse cx="600.17" cy="25.93" rx="1.38" ry="1.38" fill="#3a0000" stroke="#e8231b" stroke-width="0.88"/>
<ellipse cx="641.99" cy="11.89" rx="1.24" ry="0.91" fill="#3a0000" stroke="#e8231b" stroke-width="0.93"/>
<ellipse cx="604.57" cy="37.6" rx="1.3" ry="1.14" fill="#e8231b" opacity="0.65"/>
<ellipse cx="609.29" cy="13.85" rx="1.78" ry="1.16" fill="#e8231b" opacity="0.62"/>
<ellipse cx="586.49" cy="98.23" rx="2.22" ry="1.74" fill="#3a0000" stroke="#e8231b" stroke-width="1.04"/>
<ellipse cx="608.56" cy="13.05" rx="2.4" ry="2.08" fill="#e8231b" opacity="0.81"/>
<ellipse cx="663.97" cy="56.34" rx="1.37" ry="1.16" fill="#e8231b" opacity="0.95"/>
<ellipse cx="614.34" cy="108.18" rx="2" ry="1.24" fill="#e8231b" opacity="0.82"/>
<ellipse cx="601.8" cy="32.61" rx="2.13" ry="1.97" fill="#e8231b" opacity="0.86"/>
<ellipse cx="620.24" cy="55.11" rx="1.67" ry="1.03" fill="#e8231b" opacity="0.8"/>
<ellipse cx="601.83" cy="31.75" rx="2.09" ry="1.54" fill="#3a0000" stroke="#e8231b" stroke-width="1.22"/>
<ellipse cx="600.63" cy="25.64" rx="1.37" ry="0.93" fill="#3a0000" stroke="#e8231b" stroke-width="0.98"/>
<ellipse cx="582.02" cy="72.28" rx="1.7" ry="1.66" fill="#3a0000" stroke="#e8231b" stroke-width="1.06"/>
<ellipse cx="586.78" cy="97.85" rx="1.52" ry="1.03" fill="#3a0000" stroke="#e8231b" stroke-width="1.09"/>
</g>
<g filter="url(#soft)">
<ellipse cx="619.14" cy="55.89" rx="0.5" ry="0.48" fill="#e0e0e0" opacity="0.85"/>
<ellipse cx="583.39" cy="72.85" rx="0.51" ry="0.43" fill="#e0e0e0" opacity="0.85"/>
<ellipse cx="661.27" cy="64.91" rx="0.91" ry="0.58" fill="#e0e0e0" opacity="0.85"/>
<ellipse cx="613.52" cy="60.19" rx="0.87" ry="0.49" fill="#e0e0e0" opacity="0.85"/>
<ellipse cx="584.53" cy="96.23" rx="0.98" ry="0.8" fill="#e0e0e0" opacity="0.85"/>
<ellipse cx="659.89" cy="24.06" rx="0.56" ry="0.3" fill="#e0e0e0" opacity="0.85"/>
<ellipse cx="662.11" cy="66.68" rx="1" ry="0.64" fill="#e0e0e0" opacity="0.85"/>
<ellipse cx="620" cy="56.22" rx="1.09" ry="0.56" fill="#e0e0e0" opacity="0.85"/>
<ellipse cx="613.38" cy="107.86" rx="0.57" ry="0.49" fill="#e0e0e0" opacity="0.85"/>
<ellipse cx="600.65" cy="30.25" rx="0.69" ry="0.44" fill="#e0e0e0" opacity="0.85"/>
<ellipse cx="584.17" cy="71.76" rx="1.03" ry="0.89" fill="#e0e0e0" opacity="0.85"/>
<ellipse cx="660.85" cy="60.4" rx="1.04" ry="0.97" fill="#e0e0e0" opacity="0.85"/>
</g>
<g filter="url(#soft)">
<ellipse cx="647.4" cy="13.98" rx="1.85" ry="1.1" fill="#e3221a" opacity="0.73"/>
<ellipse cx="657.9" cy="26.6" rx="1.83" ry="1.44" fill="#e3221a" opacity="0.81"/>
<ellipse cx="654.77" cy="19.79" rx="1.02" ry="0.78" fill="#400" stroke="#e3221a" stroke-width="1.1"/>
<ellipse cx="650.44" cy="16.91" rx="2.15" ry="1.39" fill="#e3221a" opacity="0.85"/>
<ellipse cx="656.57" cy="23.44" rx="1.49" ry="1.38" fill="#e3221a" opacity="1"/>
<ellipse cx="648.9" cy="15.22" rx="1.82" ry="1.65" fill="#e3221a" opacity="0.91"/>
<ellipse cx="651" cy="16.54" rx="1.15" ry="0.8" fill="#e3221a" opacity="0.79"/>
<ellipse cx="657.73" cy="25.27" rx="1.98" ry="1.81" fill="#400" stroke="#e3221a" stroke-width="1.1"/>
<ellipse cx="651.64" cy="19.15" rx="1.55" ry="0.99" fill="#400" stroke="#e3221a" stroke-width="1.1"/>
<ellipse cx="651.54" cy="17.29" rx="1.86" ry="1.36" fill="#e3221a" opacity="0.97"/>
<ellipse cx="666.23" cy="47.38" rx="1.45" ry="1.13" fill="#400" stroke="#e3221a" stroke-width="1.1"/>
<ellipse cx="666.07" cy="50.01" rx="1.1" ry="0.71" fill="#400" stroke="#e3221a" stroke-width="1.1"/>
<ellipse cx="662.64" cy="39.31" rx="2.04" ry="1.57" fill="#e3221a" opacity="0.93"/>
<ellipse cx="663.13" cy="40.79" rx="1.8" ry="1.07" fill="#e3221a" opacity="0.7"/>
<ellipse cx="666.01" cy="50.45" rx="1.94" ry="1.74" fill="#e3221a" opacity="0.99"/>
<ellipse cx="662.77" cy="41.72" rx="1.41" ry="0.8" fill="#e3221a" opacity="0.69"/>
<ellipse cx="665.43" cy="52.53" rx="1.33" ry="1.22" fill="#e3221a" opacity="0.75"/>
<ellipse cx="662.83" cy="39.07" rx="1.52" ry="1.16" fill="#400" stroke="#e3221a" stroke-width="1.1"/>
<ellipse cx="665.05" cy="45.4" rx="1.89" ry="1.14" fill="#e3221a" opacity="0.69"/>
<ellipse cx="666.41" cy="51.55" rx="1.86" ry="1.15" fill="#e3221a" opacity="0.95"/>
<ellipse cx="660.21" cy="61.06" rx="1.52" ry="1.12" fill="#e3221a" opacity="0.9"/>
<ellipse cx="661.11" cy="68.68" rx="1.74" ry="1.06" fill="#400" stroke="#e3221a" stroke-width="1.1"/>
<ellipse cx="662.63" cy="68.74" rx="1.2" ry="0.9" fill="#400" stroke="#e3221a" stroke-width="1.1"/>
<ellipse cx="661.84" cy="65.79" rx="1.32" ry="0.93" fill="#e3221a" opacity="0.89"/>
<ellipse cx="661.65" cy="64.66" rx="1.25" ry="0.99" fill="#400" stroke="#e3221a" stroke-width="1.1"/>
<ellipse cx="662.37" cy="67.05" rx="1.3" ry="0.99" fill="#e3221a" opacity="0.75"/>
<ellipse cx="660.43" cy="66.11" rx="1.38" ry="0.99" fill="#400" stroke="#e3221a" stroke-width="1.1"/>
<ellipse cx="662.9" cy="73.5" rx="1.95" ry="1.6" fill="#e3221a" opacity="0.95"/>
<ellipse cx="661.26" cy="67.31" rx="1.73" ry="1.24" fill="#e3221a" opacity="0.84"/>
<ellipse cx="663.17" cy="74.16" rx="2.04" ry="1.48" fill="#e3221a" opacity="0.89"/>
</g>
<g filter="url(#soft)">
<ellipse cx="622.82" cy="50.54" rx="1.13" ry="0.9" fill="#dadada" stroke="#dadada" stroke-width="1.1"/>
<ellipse cx="634.16" cy="58.66" rx="1.09" ry="0.88" fill="#dadada" stroke="#dadada" stroke-width="1.1"/>
<ellipse cx="639.77" cy="61.08" rx="0.5" ry="0.45" fill="#dadada" stroke="#dadada" stroke-width="1.1"/>
<ellipse cx="623.29" cy="51.98" rx="1.09" ry="1.02" fill="#dadada" stroke="#dadada" stroke-width="1.1"/>
<ellipse cx="638.57" cy="60.6" rx="0.58" ry="0.58" fill="#dadada" stroke="#dadada" stroke-width="1.1"/>
<ellipse cx="623.33" cy="50.38" rx="0.53" ry="0.33" fill="#dadada" stroke="#dadada" stroke-width="1.1"/>
<ellipse cx="627.68" cy="53.86" rx="1.15" ry="0.77" fill="#dadada" stroke="#dadada" stroke-width="1.1"/>
<ellipse cx="652.69" cy="80.87" rx="0.9" ry="0.82" fill="#dadada" stroke="#dadada" stroke-width="1.1"/>
<ellipse cx="648.26" cy="75.16" rx="0.67" ry="0.51" fill="#dadada" stroke="#dadada" stroke-width="1.1"/>
<ellipse cx="654.66" cy="83.85" rx="0.83" ry="0.77" fill="#dadada" stroke="#dadada" stroke-width="1.1"/>
<ellipse cx="647.09" cy="71.43" rx="0.54" ry="0.47" fill="#dadada" stroke="#dadada" stroke-width="1.1"/>
<ellipse cx="640.33" cy="62.88" rx="0.64" ry="0.39" fill="#dadada" stroke="#dadada" stroke-width="1.1"/>
<ellipse cx="641" cy="62.53" rx="1.17" ry="0.93" fill="#dadada" stroke="#dadada" stroke-width="1.1"/>
<ellipse cx="655.04" cy="84.19" rx="0.87" ry="0.7" fill="#dadada" stroke="#dadada" stroke-width="1.1"/>
<ellipse cx="651.11" cy="90.02" rx="0.64" ry="0.6" fill="#dadada" stroke="#dadada" stroke-width="1.1"/>
<ellipse cx="653.27" cy="92.21" rx="0.95" ry="0.62" fill="#dadada" stroke="#dadada" stroke-width="1.1"/>
<ellipse cx="650.49" cy="88.79" rx="1.17" ry="0.98" fill="#dadada" stroke="#dadada" stroke-width="1.1"/>
<ellipse cx="656.37" cy="94.41" rx="1.18" ry="1.14" fill="#dadada" stroke="#dadada" stroke-width="1.1"/>
<ellipse cx="651.9" cy="90.83" rx="0.62" ry="0.46" fill="#dadada" stroke="#dadada" stroke-width="1.1"/>
<ellipse cx="650.92" cy="89.54" rx="0.65" ry="0.59" fill="#dadada" stroke="#dadada" stroke-width="1.1"/>
<ellipse cx="653.47" cy="92.91" rx="0.76" ry="0.71" fill="#dadada" stroke="#dadada" stroke-width="1.1"/>
</g>
<g filter="url(#soft)">
<ellipse cx="568.82" cy="18.33" rx="1.28" ry="1.22" fill="#400" stroke="#e3221a" stroke-width="1.1"/>
<ellipse cx="573.01" cy="23.75" rx="1.78" ry="1.75" fill="#e3221a" opacity="0.83"/>
<ellipse cx="567.57" cy="15.84" rx="1.43" ry="1.1" fill="#e3221a" opacity="0.67"/>
<ellipse cx="569.59" cy="18.18" rx="1.85" ry="1.52" fill="#400" stroke="#e3221a" stroke-width="1.1"/>
<ellipse cx="569.45" cy="18.7" rx="2.18" ry="1.4" fill="#e3221a" opacity="0.96"/>
<ellipse cx="570.49" cy="20.39" rx="1.37" ry="0.75" fill="#e3221a" opacity="0.83"/>
<ellipse cx="564.35" cy="12.54" rx="1.22" ry="1.15" fill="#e3221a" opacity="0.91"/>
<ellipse cx="567.64" cy="16.81" rx="1.23" ry="0.7" fill="#e3221a" opacity="0.75"/>
<ellipse cx="543.44" cy="16.73" rx="1.6" ry="1.14" fill="#e3221a" opacity="0.84"/>
<ellipse cx="555.32" cy="19.64" rx="1.63" ry="1.47" fill="#e3221a" opacity="0.69"/>
<ellipse cx="556.48" cy="21.19" rx="1.59" ry="1.51" fill="#e3221a" opacity="0.9"/>
<ellipse cx="543.25" cy="16.37" rx="1.14" ry="0.93" fill="#e3221a" opacity="0.91"/>
<ellipse cx="549.1" cy="18.25" rx="1.26" ry="1.24" fill="#400" stroke="#e3221a" stroke-width="1.1"/>
<ellipse cx="548.68" cy="18.17" rx="1.98" ry="1.18" fill="#e3221a" opacity="0.71"/>
<ellipse cx="554.48" cy="19.55" rx="1.62" ry="1.6" fill="#400" stroke="#e3221a" stroke-width="1.1"/>
<ellipse cx="556.49" cy="21.44" rx="1.93" ry="1.73" fill="#400" stroke="#e3221a" stroke-width="1.1"/>
<ellipse cx="482.13" cy="77.43" rx="1.63" ry="1.12" fill="#400" stroke="#e3221a" stroke-width="1.1"/>
<ellipse cx="478.19" cy="67.01" rx="1.73" ry="1.09" fill="#e3221a" opacity="0.98"/>
<ellipse cx="479.35" cy="66.97" rx="1.57" ry="1.37" fill="#400" stroke="#e3221a" stroke-width="1.1"/>
<ellipse cx="478.93" cy="64.96" rx="1.92" ry="1.26" fill="#400" stroke="#e3221a" stroke-width="1.1"/>
<ellipse cx="477.32" cy="66.35" rx="1.97" ry="1.18" fill="#e3221a" opacity="0.78"/>
<ellipse cx="484.08" cy="81.72" rx="1.97" ry="1.84" fill="#400" stroke="#e3221a" stroke-width="1.1"/>
<ellipse cx="477.13" cy="66.05" rx="1.78" ry="1.07" fill="#e3221a" opacity="0.77"/>
<ellipse cx="480.37" cy="71.68" rx="1.32" ry="0.84" fill="#e3221a" opacity="0.69"/>
<ellipse cx="486.83" cy="85.26" rx="1.98" ry="1.49" fill="#e3221a" opacity="0.87"/>
<ellipse cx="488.74" cy="86.51" rx="1.47" ry="0.97" fill="#e3221a" opacity="0.76"/>
<ellipse cx="500.69" cy="93.24" rx="1.52" ry="1.33" fill="#e3221a" opacity="0.73"/>
<ellipse cx="485.16" cy="86.38" rx="1.48" ry="1.46" fill="#e3221a" opacity="0.88"/>
<ellipse cx="503.79" cy="95.18" rx="1.15" ry="1.04" fill="#e3221a" opacity="0.83"/>
<ellipse cx="500.56" cy="93.65" rx="1.08" ry="0.73" fill="#400" stroke="#e3221a" stroke-width="1.1"/>
<ellipse cx="489.75" cy="86.85" rx="1.99" ry="1.75" fill="#e3221a" opacity="0.97"/>
<ellipse cx="497.01" cy="91.61" rx="1.95" ry="1.52" fill="#400" stroke="#e3221a" stroke-width="1.1"/>
</g>
<text x="471.2" y="9.3" font-weight="bold" fill="#fff" stroke="none" font-size="10">b</text>
<text x="554.6" y="112.4" fill="#fff" stroke="none" font-size="9.2">con</text>
<text x="636.6" y="112.4" fill="#fff" stroke="none" font-size="9.2">het</text>
<line x1="470.9" y1="110.5" x2="479.8" y2="110.5" stroke="#fff" stroke-width="1.2"/>
<rect x="673" y="24.4" width="10.4" height="66.3" fill="#9a9a9a"/>
<text x="675.2" y="38.6" font-size="8.2" transform="rotate(90 675.2 38.6)"><tspan fill="#7ed628" stroke="#7ed628">Ins </tspan><tspan fill="#ff2a2a" stroke="#ff2a2a">Gcg </tspan><tspan fill="#f2f2f2" stroke="#f2f2f2">Sst</tspan></text>
<text x="4.4" y="141" font-weight="bold" font-size="9">c</text>
<line x1="50.5" y1="156.4" x2="50.5" y2="267.25" stroke="#444" stroke-width="0.75"/>
<line x1="50.15" y1="266.5" x2="210.6" y2="266.5" stroke="#444" stroke-width="0.75"/>
<line x1="70.5" y1="266.9" x2="70.5" y2="265.6" stroke="#444" stroke-width="0.6"/>
<line x1="90.5" y1="266.9" x2="90.5" y2="265.6" stroke="#444" stroke-width="0.6"/>
<line x1="110.5" y1="266.9" x2="110.5" y2="265.6" stroke="#444" stroke-width="0.6"/>
<line x1="130.5" y1="266.9" x2="130.5" y2="265.6" stroke="#444" stroke-width="0.6"/>
<line x1="150.5" y1="266.9" x2="150.5" y2="265.6" stroke="#444" stroke-width="0.6"/>
<line x1="170.5" y1="266.9" x2="170.5" y2="265.6" stroke="#444" stroke-width="0.6"/>
<line x1="190.5" y1="266.9" x2="190.5" y2="265.6" stroke="#444" stroke-width="0.6"/>
<line x1="210.5" y1="266.9" x2="210.5" y2="265.6" stroke="#444" stroke-width="0.6"/>
<line x1="50.5" y1="247.5" x2="51.8" y2="247.5" stroke="#444" stroke-width="0.6"/>
<line x1="50.5" y1="228.5" x2="51.8" y2="228.5" stroke="#444" stroke-width="0.6"/>
<line x1="50.5" y1="209.5" x2="51.8" y2="209.5" stroke="#444" stroke-width="0.6"/>
<line x1="50.5" y1="189.5" x2="51.8" y2="189.5" stroke="#444" stroke-width="0.6"/>
<line x1="50.5" y1="170.5" x2="51.8" y2="170.5" stroke="#444" stroke-width="0.6"/>
<text x="46.6" y="154.8" text-anchor="end" font-size="9.3">300</text>
<text x="46.6" y="193.3" text-anchor="end" font-size="9.3">200</text>
<text x="46.6" y="231.8" text-anchor="end" font-size="9.3">100</text>
<text x="46.6" y="270.3" text-anchor="end" font-size="9.3">0</text>
<text x="51.5" y="279" text-anchor="middle" font-size="8.2">0</text>
<text x="91.5" y="279" text-anchor="middle" font-size="8.2">30</text>
<text x="131.5" y="279" text-anchor="middle" font-size="8.2">60</text>
<text x="171.5" y="279" text-anchor="middle" font-size="8.2">90</text>
<text x="211.5" y="279" text-anchor="middle" font-size="8.2">120</text>
<text x="131.4" y="150.6" text-anchor="middle" font-size="9.4">males, n=7-8, p=0.015</text>
<path d="M50.5 236.1 C54.17 229.32 63.17 209.59 70.5 199.14 C77.83 188.69 79.5 179.54 90.5 179.12 C101.5 178.7 115.83 189.77 130.5 196.83 C145.17 203.89 155.83 211.8 170.5 217.62 C185.17 223.44 203.17 226.58 210.5 228.59" fill="none" stroke="#333" stroke-width="0.9"/>
<path d="M50.5 236.1 C54.17 226.71 63.17 198.24 70.5 184.89 C77.83 171.55 79.5 163.48 90.5 163.33 C101.5 163.19 115.83 175.94 130.5 184.12 C145.17 192.31 155.83 200.55 170.5 207.99 C185.17 215.44 203.17 221.67 210.5 224.74" fill="none" stroke="#f0922a" stroke-width="1.35"/>
<circle cx="50.5" cy="236.1" r="0.8" fill="#3a70c8"/>
<line x1="70.5" y1="199.14" x2="70.5" y2="192.59" stroke="#5a6f90" stroke-width="0.8"/>
<line x1="69.6" y1="192.5" x2="71.4" y2="192.5" stroke="#5a6f90" stroke-width="0.6"/>
<circle cx="70.5" cy="199.14" r="0.8" fill="#3a70c8"/>
<line x1="90.5" y1="179.12" x2="90.5" y2="171.03" stroke="#5a6f90" stroke-width="0.8"/>
<line x1="89.6" y1="171.5" x2="91.4" y2="171.5" stroke="#5a6f90" stroke-width="0.6"/>
<circle cx="90.5" cy="179.12" r="0.8" fill="#3a70c8"/>
<line x1="130.5" y1="196.83" x2="130.5" y2="193.36" stroke="#5a6f90" stroke-width="0.8"/>
<line x1="129.6" y1="193.5" x2="131.4" y2="193.5" stroke="#5a6f90" stroke-width="0.6"/>
<circle cx="130.5" cy="196.83" r="0.8" fill="#3a70c8"/>
<line x1="170.5" y1="217.62" x2="170.5" y2="215.69" stroke="#5a6f90" stroke-width="0.8"/>
<line x1="169.6" y1="215.5" x2="171.4" y2="215.5" stroke="#5a6f90" stroke-width="0.6"/>
<circle cx="170.5" cy="217.62" r="0.8" fill="#3a70c8"/>
<line x1="210.5" y1="228.59" x2="210.5" y2="227.63" stroke="#5a6f90" stroke-width="0.8"/>
<line x1="209.6" y1="227.5" x2="211.4" y2="227.5" stroke="#5a6f90" stroke-width="0.6"/>
<circle cx="210.5" cy="228.59" r="0.8" fill="#3a70c8"/>
<circle cx="50.5" cy="236.1" r="0.8" fill="#d83030"/>
<line x1="70.5" y1="184.89" x2="70.5" y2="180.66" stroke="#e0702a" stroke-width="0.8"/>
<line x1="69.6" y1="180.5" x2="71.4" y2="180.5" stroke="#e0702a" stroke-width="0.6"/>
<circle cx="70.5" cy="184.89" r="0.8" fill="#d83030"/>
<line x1="90.5" y1="163.33" x2="90.5" y2="158.33" stroke="#e0702a" stroke-width="0.8"/>
<line x1="89.6" y1="158.5" x2="91.4" y2="158.5" stroke="#e0702a" stroke-width="0.6"/>
<circle cx="90.5" cy="163.33" r="0.8" fill="#d83030"/>
<line x1="130.5" y1="184.12" x2="130.5" y2="179.12" stroke="#e0702a" stroke-width="0.8"/>
<line x1="129.6" y1="179.5" x2="131.4" y2="179.5" stroke="#e0702a" stroke-width="0.6"/>
<circle cx="130.5" cy="184.12" r="0.8" fill="#d83030"/>
<line x1="170.5" y1="207.99" x2="170.5" y2="204.91" stroke="#e0702a" stroke-width="0.8"/>
<line x1="169.6" y1="204.5" x2="171.4" y2="204.5" stroke="#e0702a" stroke-width="0.6"/>
<circle cx="170.5" cy="207.99" r="0.8" fill="#d83030"/>
<line x1="210.5" y1="224.74" x2="210.5" y2="222.62" stroke="#e0702a" stroke-width="0.8"/>
<line x1="209.6" y1="222.5" x2="211.4" y2="222.5" stroke="#e0702a" stroke-width="0.6"/>
<circle cx="210.5" cy="224.74" r="0.8" fill="#d83030"/>
<text x="20.8" y="199.7" text-anchor="middle" font-size="9.7" transform="rotate(-90 20.8 199.7)">blood glucose (mg/dL)</text>
<text x="172.8" y="290.6" font-size="9.5">minutes after glucose injection</text>
<text x="237" y="140.8" font-weight="bold" font-size="9">d</text>
<line x1="253.5" y1="142.7" x2="253.5" y2="268.05" stroke="#444" stroke-width="0.75"/>
<line x1="252.95" y1="267.5" x2="425.2" y2="267.5" stroke="#444" stroke-width="0.75"/>
<line x1="274.5" y1="267.7" x2="274.5" y2="266.4" stroke="#444" stroke-width="0.6"/>
<line x1="294.5" y1="267.7" x2="294.5" y2="266.4" stroke="#444" stroke-width="0.6"/>
<line x1="315.5" y1="267.7" x2="315.5" y2="266.4" stroke="#444" stroke-width="0.6"/>
<line x1="336.5" y1="267.7" x2="336.5" y2="266.4" stroke="#444" stroke-width="0.6"/>
<line x1="357.5" y1="267.7" x2="357.5" y2="266.4" stroke="#444" stroke-width="0.6"/>
<line x1="378.5" y1="267.7" x2="378.5" y2="266.4" stroke="#444" stroke-width="0.6"/>
<line x1="398.5" y1="267.7" x2="398.5" y2="266.4" stroke="#444" stroke-width="0.6"/>
<line x1="419.5" y1="267.7" x2="419.5" y2="266.4" stroke="#444" stroke-width="0.6"/>
<line x1="253.3" y1="251.5" x2="254.6" y2="251.5" stroke="#444" stroke-width="0.6"/>
<line x1="253.3" y1="234.5" x2="254.6" y2="234.5" stroke="#444" stroke-width="0.6"/>
<line x1="253.3" y1="218.5" x2="254.6" y2="218.5" stroke="#444" stroke-width="0.6"/>
<line x1="253.3" y1="202.5" x2="254.6" y2="202.5" stroke="#444" stroke-width="0.6"/>
<line x1="253.3" y1="185.5" x2="254.6" y2="185.5" stroke="#444" stroke-width="0.6"/>
<line x1="253.3" y1="169.5" x2="254.6" y2="169.5" stroke="#444" stroke-width="0.6"/>
<line x1="253.3" y1="152.5" x2="254.6" y2="152.5" stroke="#444" stroke-width="0.6"/>
<text x="248.3" y="172.55" text-anchor="end" font-size="9.3">300</text>
<text x="248.3" y="205.4" text-anchor="end" font-size="9.3">200</text>
<text x="248.3" y="238.25" text-anchor="end" font-size="9.3">100</text>
<text x="248.3" y="271.1" text-anchor="end" font-size="9.3">0</text>
<text x="254.3" y="279" text-anchor="middle" font-size="8.2">0</text>
<text x="295.88" y="279" text-anchor="middle" font-size="8.2">30</text>
<text x="337.45" y="279" text-anchor="middle" font-size="8.2">60</text>
<text x="379.03" y="279" text-anchor="middle" font-size="8.2">90</text>
<text x="420.6" y="279" text-anchor="middle" font-size="8.2">120</text>
<text x="325.4" y="150.6" text-anchor="middle" font-size="9.4">females, n=6-8, p=0.031</text>
<path d="M253.3 230.05 C257.11 223.07 266.47 202.15 274.09 191.95 C281.71 181.75 283.44 173.8 294.88 174.41 C306.31 175.01 321.21 188.71 336.45 195.27 C351.69 201.82 362.78 205.05 378.03 210.18 C393.27 215.3 411.98 220.83 419.6 223.22" fill="none" stroke="#333" stroke-width="0.9"/>
<path d="M253.3 230.05 C257.11 220.76 266.47 191.93 274.09 179.33 C281.71 166.74 283.44 161.55 294.88 161.36 C306.31 161.18 321.21 171.8 336.45 178.35 C351.69 184.89 362.78 191.23 378.03 197.07 C393.27 202.91 411.98 207.8 419.6 210.21" fill="none" stroke="#f0922a" stroke-width="1.35"/>
<circle cx="253.3" cy="230.05" r="0.8" fill="#3a70c8"/>
<line x1="274.5" y1="191.95" x2="274.5" y2="186.56" stroke="#5a6f90" stroke-width="0.8"/>
<line x1="273.19" y1="186.5" x2="274.99" y2="186.5" stroke="#5a6f90" stroke-width="0.6"/>
<circle cx="274.09" cy="191.95" r="0.8" fill="#3a70c8"/>
<line x1="294.5" y1="174.41" x2="294.5" y2="168" stroke="#5a6f90" stroke-width="0.8"/>
<line x1="293.98" y1="168.5" x2="295.77" y2="168.5" stroke="#5a6f90" stroke-width="0.6"/>
<circle cx="294.88" cy="174.41" r="0.8" fill="#3a70c8"/>
<line x1="336.5" y1="195.27" x2="336.5" y2="188.53" stroke="#5a6f90" stroke-width="0.8"/>
<line x1="335.55" y1="188.5" x2="337.35" y2="188.5" stroke="#5a6f90" stroke-width="0.6"/>
<circle cx="336.45" cy="195.27" r="0.8" fill="#3a70c8"/>
<line x1="378.5" y1="210.18" x2="378.5" y2="204.17" stroke="#5a6f90" stroke-width="0.8"/>
<line x1="377.13" y1="204.5" x2="378.93" y2="204.5" stroke="#5a6f90" stroke-width="0.6"/>
<circle cx="378.03" cy="210.18" r="0.8" fill="#3a70c8"/>
<line x1="419.5" y1="223.22" x2="419.5" y2="220.23" stroke="#5a6f90" stroke-width="0.8"/>
<line x1="418.7" y1="220.5" x2="420.5" y2="220.5" stroke="#5a6f90" stroke-width="0.6"/>
<circle cx="419.6" cy="223.22" r="0.8" fill="#3a70c8"/>
<circle cx="253.3" cy="230.05" r="0.8" fill="#d83030"/>
<line x1="274.5" y1="179.33" x2="274.5" y2="166.19" stroke="#e0702a" stroke-width="0.8"/>
<line x1="273.19" y1="166.5" x2="274.99" y2="166.5" stroke="#e0702a" stroke-width="0.6"/>
<circle cx="274.09" cy="179.33" r="0.8" fill="#d83030"/>
<line x1="294.5" y1="161.36" x2="294.5" y2="157" stroke="#e0702a" stroke-width="0.8"/>
<line x1="293.98" y1="156.5" x2="295.77" y2="156.5" stroke="#e0702a" stroke-width="0.6"/>
<circle cx="294.88" cy="161.36" r="0.8" fill="#d83030"/>
<line x1="336.5" y1="178.35" x2="336.5" y2="174.08" stroke="#e0702a" stroke-width="0.8"/>
<line x1="335.55" y1="174.5" x2="337.35" y2="174.5" stroke="#e0702a" stroke-width="0.6"/>
<circle cx="336.45" cy="178.35" r="0.8" fill="#d83030"/>
<line x1="378.5" y1="197.07" x2="378.5" y2="191.16" stroke="#e0702a" stroke-width="0.8"/>
<line x1="377.13" y1="191.5" x2="378.93" y2="191.5" stroke="#e0702a" stroke-width="0.6"/>
<circle cx="378.03" cy="197.07" r="0.8" fill="#d83030"/>
<line x1="419.5" y1="210.21" x2="419.5" y2="206.27" stroke="#e0702a" stroke-width="0.8"/>
<line x1="418.7" y1="206.5" x2="420.5" y2="206.5" stroke="#e0702a" stroke-width="0.6"/>
<circle cx="419.6" cy="210.21" r="0.8" fill="#d83030"/>
<text x="444.9" y="140.6" font-weight="bold" font-size="9">e</text>
<line x1="473.5" y1="131.2" x2="473.5" y2="267.5" stroke="#000" stroke-width="1.1"/>
<line x1="473" y1="267.5" x2="679.6" y2="267.5" stroke="#000" stroke-width="1.1"/>
<line x1="470" y1="267.5" x2="473" y2="267.5" stroke="#000" stroke-width="1"/>
<text x="468" y="270.4" text-anchor="end" font-size="9.3">0</text>
<line x1="471" y1="254.5" x2="473" y2="254.5" stroke="#000" stroke-width="0.9"/>
<line x1="470" y1="241.5" x2="473" y2="241.5" stroke="#000" stroke-width="1"/>
<text x="468" y="244.56" text-anchor="end" font-size="9.3">2</text>
<line x1="471" y1="228.5" x2="473" y2="228.5" stroke="#000" stroke-width="0.9"/>
<line x1="470" y1="215.5" x2="473" y2="215.5" stroke="#000" stroke-width="1"/>
<text x="468" y="218.72" text-anchor="end" font-size="9.3">4</text>
<line x1="471" y1="202.5" x2="473" y2="202.5" stroke="#000" stroke-width="0.9"/>
<line x1="470" y1="189.5" x2="473" y2="189.5" stroke="#000" stroke-width="1"/>
<text x="468" y="192.88" text-anchor="end" font-size="9.3">6</text>
<line x1="471" y1="176.5" x2="473" y2="176.5" stroke="#000" stroke-width="0.9"/>
<line x1="470" y1="163.5" x2="473" y2="163.5" stroke="#000" stroke-width="1"/>
<text x="468" y="167.04" text-anchor="end" font-size="9.3">8</text>
<line x1="471" y1="150.5" x2="473" y2="150.5" stroke="#000" stroke-width="0.9"/>
<line x1="470" y1="137.5" x2="473" y2="137.5" stroke="#000" stroke-width="1"/>
<text x="468" y="141.2" text-anchor="end" font-size="9.3">10</text>
<text x="450.2" y="219.5" text-anchor="middle" font-size="9.5" transform="rotate(-90 450.2 219.5)">% total insulin secretion</text>
<text x="489.5" y="141.5" font-size="8.6">n=6</text>
<rect x="478.3" y="265.45" width="10.3" height="1.55" fill="#7a7a7a" stroke="#111" stroke-width="0.9"/>
<line x1="483.5" y1="265.45" x2="483.5" y2="264.67" stroke="#111" stroke-width="1"/>
<line x1="481.25" y1="264.5" x2="485.65" y2="264.5" stroke="#111" stroke-width="1"/>
<rect x="495.4" y="265.97" width="10.3" height="1.03" fill="#f0a030" stroke="#111" stroke-width="0.9"/>
<line x1="500.5" y1="265.97" x2="500.5" y2="265.45" stroke="#111" stroke-width="1"/>
<line x1="498.35" y1="265.5" x2="502.75" y2="265.5" stroke="#111" stroke-width="1"/>
<rect x="512.4" y="241.16" width="10.3" height="25.84" fill="#7a7a7a" stroke="#111" stroke-width="0.9"/>
<line x1="517.5" y1="241.16" x2="517.5" y2="236.25" stroke="#111" stroke-width="1"/>
<line x1="515.35" y1="236.5" x2="519.75" y2="236.5" stroke="#111" stroke-width="1"/>
<rect x="529.3" y="252.01" width="10.3" height="14.99" fill="#f0a030" stroke="#111" stroke-width="0.9"/>
<line x1="534.5" y1="252.01" x2="534.5" y2="250.2" stroke="#111" stroke-width="1"/>
<line x1="532.25" y1="250.5" x2="536.65" y2="250.5" stroke="#111" stroke-width="1"/>
<rect x="546.2" y="207.31" width="10.3" height="59.69" fill="#7a7a7a" stroke="#111" stroke-width="0.9"/>
<line x1="551.5" y1="207.31" x2="551.5" y2="200.07" stroke="#111" stroke-width="1"/>
<line x1="549.15" y1="200.5" x2="553.55" y2="200.5" stroke="#111" stroke-width="1"/>
<rect x="563" y="207.31" width="10.3" height="59.69" fill="#f0a030" stroke="#111" stroke-width="0.9"/>
<line x1="568.5" y1="207.31" x2="568.5" y2="190.77" stroke="#111" stroke-width="1"/>
<line x1="565.95" y1="190.5" x2="570.35" y2="190.5" stroke="#111" stroke-width="1"/>
<rect x="579.6" y="266.35" width="10.3" height="0.65" fill="#7a7a7a" stroke="#111" stroke-width="0.9"/>
<line x1="584.5" y1="266.35" x2="584.5" y2="265.97" stroke="#111" stroke-width="1"/>
<line x1="582.55" y1="265.5" x2="586.95" y2="265.5" stroke="#111" stroke-width="1"/>
<rect x="596.5" y="266.35" width="10.3" height="0.65" fill="#f0a030" stroke="#111" stroke-width="0.9"/>
<line x1="601.5" y1="266.35" x2="601.5" y2="265.97" stroke="#111" stroke-width="1"/>
<line x1="599.45" y1="265.5" x2="603.85" y2="265.5" stroke="#111" stroke-width="1"/>
<rect x="613.6" y="252.4" width="10.3" height="14.6" fill="#7a7a7a" stroke="#111" stroke-width="0.9"/>
<line x1="618.5" y1="252.4" x2="618.5" y2="250.85" stroke="#111" stroke-width="1"/>
<line x1="616.55" y1="250.5" x2="620.95" y2="250.5" stroke="#111" stroke-width="1"/>
<rect x="630.7" y="258.21" width="10.3" height="8.79" fill="#f0a030" stroke="#111" stroke-width="0.9"/>
<line x1="635.5" y1="258.21" x2="635.5" y2="255.11" stroke="#111" stroke-width="1"/>
<line x1="633.65" y1="255.5" x2="638.05" y2="255.5" stroke="#111" stroke-width="1"/>
<rect x="647.3" y="210.15" width="10.3" height="56.85" fill="#7a7a7a" stroke="#111" stroke-width="0.9"/>
<line x1="652.5" y1="210.15" x2="652.5" y2="205.24" stroke="#111" stroke-width="1"/>
<line x1="650.25" y1="205.5" x2="654.65" y2="205.5" stroke="#111" stroke-width="1"/>
<rect x="664.2" y="207.18" width="10.3" height="59.82" fill="#f0a030" stroke="#111" stroke-width="0.9"/>
<line x1="669.5" y1="207.18" x2="669.5" y2="200.07" stroke="#111" stroke-width="1"/>
<line x1="667.15" y1="200.5" x2="671.55" y2="200.5" stroke="#111" stroke-width="1"/>
<circle cx="516.25" cy="241.81" r="0.7" fill="#111"/>
<circle cx="517.55" cy="256.02" r="0.7" fill="#111"/>
<circle cx="518.85" cy="229.53" r="0.7" fill="#111"/>
<circle cx="516.25" cy="235.99" r="0.7" fill="#111"/>
<circle cx="533.15" cy="247.62" r="0.7" fill="#111"/>
<circle cx="534.45" cy="252.79" r="0.7" fill="#111"/>
<circle cx="535.75" cy="254.08" r="0.7" fill="#111"/>
<circle cx="533.15" cy="250.85" r="0.7" fill="#111"/>
<circle cx="550.05" cy="184.31" r="0.7" fill="#111"/>
<circle cx="551.35" cy="194.65" r="0.7" fill="#111"/>
<circle cx="552.65" cy="215.32" r="0.7" fill="#111"/>
<circle cx="550.05" cy="210.15" r="0.7" fill="#111"/>
<circle cx="551.35" cy="226.95" r="0.7" fill="#111"/>
<circle cx="552.65" cy="208.86" r="0.7" fill="#111"/>
<circle cx="566.85" cy="135.22" r="0.7" fill="#111"/>
<circle cx="568.15" cy="211.44" r="0.7" fill="#111"/>
<circle cx="569.45" cy="225.66" r="0.7" fill="#111"/>
<circle cx="566.85" cy="235.99" r="0.7" fill="#111"/>
<circle cx="568.15" cy="242.45" r="0.7" fill="#111"/>
<circle cx="617.45" cy="250.85" r="0.7" fill="#111"/>
<circle cx="618.75" cy="254.73" r="0.7" fill="#111"/>
<circle cx="620.05" cy="252.79" r="0.7" fill="#111"/>
<circle cx="617.45" cy="249.56" r="0.7" fill="#111"/>
<circle cx="618.75" cy="254.08" r="0.7" fill="#111"/>
<circle cx="634.55" cy="248.91" r="0.7" fill="#111"/>
<circle cx="635.85" cy="254.08" r="0.7" fill="#111"/>
<circle cx="637.15" cy="260.54" r="0.7" fill="#111"/>
<circle cx="634.55" cy="259.25" r="0.7" fill="#111"/>
<circle cx="635.85" cy="254.08" r="0.7" fill="#111"/>
<circle cx="651.15" cy="183.02" r="0.7" fill="#111"/>
<circle cx="652.45" cy="192.06" r="0.7" fill="#111"/>
<circle cx="653.75" cy="208.86" r="0.7" fill="#111"/>
<circle cx="651.15" cy="217.9" r="0.7" fill="#111"/>
<circle cx="652.45" cy="225.66" r="0.7" fill="#111"/>
<circle cx="653.75" cy="212.74" r="0.7" fill="#111"/>
<circle cx="668.05" cy="179.14" r="0.7" fill="#111"/>
<circle cx="669.35" cy="203.69" r="0.7" fill="#111"/>
<circle cx="670.65" cy="212.74" r="0.7" fill="#111"/>
<circle cx="668.05" cy="223.07" r="0.7" fill="#111"/>
<circle cx="669.35" cy="230.82" r="0.7" fill="#111"/>
<circle cx="480.45" cy="265.45" r="0.5" fill="#111"/>
<circle cx="481.95" cy="264.67" r="0.5" fill="#111"/>
<circle cx="483.45" cy="265.45" r="0.5" fill="#111"/>
<circle cx="484.95" cy="264.67" r="0.5" fill="#111"/>
<circle cx="486.45" cy="265.45" r="0.5" fill="#111"/>
<circle cx="497.55" cy="265.45" r="0.5" fill="#111"/>
<circle cx="499.05" cy="264.67" r="0.5" fill="#111"/>
<circle cx="500.55" cy="265.45" r="0.5" fill="#111"/>
<circle cx="502.05" cy="264.67" r="0.5" fill="#111"/>
<circle cx="503.55" cy="265.45" r="0.5" fill="#111"/>
<circle cx="581.75" cy="265.45" r="0.5" fill="#111"/>
<circle cx="583.25" cy="264.67" r="0.5" fill="#111"/>
<circle cx="584.75" cy="265.45" r="0.5" fill="#111"/>
<circle cx="586.25" cy="264.67" r="0.5" fill="#111"/>
<circle cx="587.75" cy="265.45" r="0.5" fill="#111"/>
<circle cx="598.65" cy="265.45" r="0.5" fill="#111"/>
<circle cx="600.15" cy="264.67" r="0.5" fill="#111"/>
<circle cx="601.65" cy="265.45" r="0.5" fill="#111"/>
<circle cx="603.15" cy="264.67" r="0.5" fill="#111"/>
<circle cx="604.65" cy="265.45" r="0.5" fill="#111"/>
<text x="491.9" y="276.8" text-anchor="middle">G2.8</text>
<text x="525.8" y="276.8" text-anchor="middle">G20</text>
<text x="559.8" y="276.8" text-anchor="middle">G20K</text>
<text x="592.7" y="276.8" text-anchor="middle">G2.8</text>
<text x="626.8" y="276.8" text-anchor="middle">G20</text>
<text x="663.5" y="276.8" text-anchor="middle">G20K</text>
<line x1="474" y1="279.5" x2="577.3" y2="279.5" stroke="#000" stroke-width="0.8"/>
<line x1="579.5" y1="279.5" x2="679.6" y2="279.5" stroke="#000" stroke-width="0.8"/>
<text x="528.6" y="288.2" text-anchor="middle" font-size="8.3">6-wks males</text>
<text x="631.4" y="288.2" text-anchor="middle" font-size="8.3">3-months females</text>
<line x1="517.4" y1="223.5" x2="528.8" y2="223.5" stroke="#999" stroke-width="1.2"/>
<text x="526.3" y="204.5" text-anchor="middle" font-size="8.4" transform="rotate(-90 526.3 204.5)">p=0.023</text>
<line x1="621.8" y1="240.5" x2="634.2" y2="240.5" stroke="#999" stroke-width="1.2"/>
<text x="633" y="222" text-anchor="middle" font-size="8.4" transform="rotate(-90 633 222)">p=0.042</text>
<rect x="635.6" y="136.4" width="5.8" height="7.6" fill="#000"/>
<text x="643.5" y="143.3" font-size="9.2">: con</text>
<rect x="635.6" y="148.2" width="5.8" height="7.6" fill="#f0a030" stroke="#000" stroke-width="0.5"/>
<text x="643.5" y="155.2" font-size="9.2">: het</text>
<text x="3.2" y="316.2" font-weight="bold" font-size="9">f</text>
<line x1="9.3" y1="337.9" x2="65.9" y2="337.9" stroke="#333" stroke-width="1.5"/>
<line x1="72.4" y1="337.9" x2="158.4" y2="337.9" stroke="#333" stroke-width="1.5"/>
<text x="9.3" y="333.6" font-size="8.4">U6</text>
<text x="68" y="333.6" font-size="8.4">X CAG</text>
<path d="M23.4 337.7 V321.3 H34.2" fill="none" stroke="#222" stroke-width="0.8"/>
<path d="M36.4 321.3 L33.8 319.9 L33.8 322.7 Z" fill="#222"/>
<path d="M93 337.7 V321.3 H106.6" fill="none" stroke="#222" stroke-width="0.8"/>
<path d="M108.8 321.3 L106.2 319.9 L106.2 322.7 Z" fill="#222"/>
<rect x="30.4" y="324.4" width="31.5" height="13" fill="#e6e6e6" stroke="#7a88b8" stroke-width="0.7"/>
<text x="46.15" y="334" text-anchor="middle" font-size="8.4">gRNAs</text>
<rect x="97" y="324.4" width="53.7" height="13" fill="#e6e6e6" stroke="#7a88b8" stroke-width="0.7"/>
<text x="123.85" y="334" text-anchor="middle" font-size="8.4">dCas9-KRAB</text>
<line x1="75.5" y1="349.6" x2="75.5" y2="359.5" stroke="#111" stroke-width="1"/>
<path d="M75.1 363.0 L72.9 358.6 L77.3 358.6 Z" fill="#111"/>
<path d="M30.5 386.6 C30.28 383.54 29.88 381.72 30.2 378.5 C30.52 375.28 30.44 373.06 32.1 370.5 C33.76 367.94 35.28 367.04 38.5 365.7 C41.72 364.36 44.34 364.18 48.2 363.8 C52.06 363.42 53.96 363.36 57.8 363.8 C61.64 364.24 63.86 364.66 67.4 366 C70.94 367.34 72.92 368.64 75.5 370.5 C78.08 372.36 78.96 373.04 80.3 375.3 C81.64 377.56 82.04 379.38 82.2 381.8 C82.36 384.22 82.12 385.48 81.1 387.4 C80.08 389.32 79.18 390.28 77.1 391.4 C75.02 392.52 73.28 392.2 70.7 393 C68.12 393.8 66.78 394.28 64.2 395.4 C61.62 396.52 60.36 397.74 57.8 398.6 C55.24 399.46 54.6 399.6 51.4 399.7 C48.2 399.8 45.02 399.64 41.8 399.1 C38.58 398.56 37.4 398.06 35.3 397 C33.2 395.94 32.26 395.88 31.3 393.8 C30.34 391.72 30.72 389.66 30.5 386.6Z" fill="#dce9f5" stroke="#3a4a78" stroke-width="0.6"/>
<path d="M31.2 392.9 C37.5 393.9 45 393.6 49.6 391.8 C52.8 390.4 54.8 387.2 54.2 384.9 C53.8 383.5 52.4 383.4 51.7 384.6 C50.9 386.6 49.7 388.5 46.9 389.2 C42 390.3 36 389.5 31.6 390.2" fill="#f4f8fc" stroke="#3a4a78" stroke-width="0.6"/>
<path d="M31.0 392.5 C29.4 394.5 29.6 397.5 29.4 400.3" fill="none" stroke="#3a4a78" stroke-width="0.5"/>
<line x1="4.8" y1="400.5" x2="29.6" y2="400.5" stroke="#6a86c0" stroke-width="0.5"/>
<line x1="6.5" y1="400.3" x2="6.5" y2="403.4" stroke="#7d9bd0" stroke-width="0.45"/>
<line x1="8.5" y1="400.3" x2="8.5" y2="403.4" stroke="#7d9bd0" stroke-width="0.45"/>
<line x1="11.5" y1="400.3" x2="11.5" y2="403.4" stroke="#7d9bd0" stroke-width="0.45"/>
<line x1="14.5" y1="400.3" x2="14.5" y2="403.4" stroke="#7d9bd0" stroke-width="0.45"/>
<line x1="17.5" y1="400.3" x2="17.5" y2="403.4" stroke="#7d9bd0" stroke-width="0.45"/>
<line x1="19.5" y1="400.3" x2="19.5" y2="403.4" stroke="#7d9bd0" stroke-width="0.45"/>
<line x1="22.5" y1="400.3" x2="22.5" y2="403.4" stroke="#7d9bd0" stroke-width="0.45"/>
<line x1="25.5" y1="400.3" x2="25.5" y2="403.4" stroke="#7d9bd0" stroke-width="0.45"/>
<line x1="28.5" y1="400.3" x2="28.5" y2="403.4" stroke="#7d9bd0" stroke-width="0.45"/>
<line x1="4.7" y1="403.9" x2="153.7" y2="403.9" stroke="#333" stroke-width="1.5"/>
<line x1="83.8" y1="382.1" x2="98" y2="385.3" stroke="#111" stroke-width="1.1"/>
<line x1="99.7" y1="381.2" x2="96.9" y2="390.4" stroke="#111" stroke-width="1.3"/>
<path d="M108.2 403.9 V388.2 H123" fill="none" stroke="#222" stroke-width="0.8"/>
<path d="M125.2 388.2 L122.6 386.8 L122.6 389.6 Z" fill="#222"/>
<rect x="115.2" y="390.4" width="31.5" height="13.2" fill="#e6e6e6" stroke="#7a88b8" stroke-width="0.7"/>
<text x="130.95" y="400.9" text-anchor="middle" font-size="9.4">Syt7</text>
<line x1="26.5" y1="423.4" x2="26.5" y2="464.8" stroke="#000" stroke-width="1.3"/>
<line x1="26.3" y1="464.5" x2="137.4" y2="464.5" stroke="#000" stroke-width="1.3"/>
<line x1="26.5" y1="464.2" x2="26.5" y2="466.8" stroke="#000" stroke-width="1.1"/>
<line x1="67.5" y1="464.2" x2="67.5" y2="466.8" stroke="#000" stroke-width="1.1"/>
<line x1="108.5" y1="464.2" x2="108.5" y2="466.8" stroke="#000" stroke-width="1.1"/>
<rect x="26.9" y="427.8" width="40.8" height="10.2" fill="#ef3223" stroke="#111" stroke-width="1.2"/>
<rect x="26.9" y="446.5" width="81.7" height="10.2" fill="#fff" stroke="#111" stroke-width="1.2"/>
<line x1="67.7" y1="432.5" x2="74.7" y2="432.5" stroke="#000" stroke-width="1.1"/>
<line x1="74.5" y1="430" x2="74.5" y2="435.8" stroke="#000" stroke-width="1.2"/>
<line x1="108.6" y1="451.5" x2="118" y2="451.5" stroke="#000" stroke-width="1.1"/>
<line x1="118.5" y1="448.7" x2="118.5" y2="454.5" stroke="#000" stroke-width="1.2"/>
<circle cx="54.2" cy="432.8" r="0.6" fill="#222"/>
<circle cx="57.9" cy="432.8" r="0.6" fill="#222"/>
<circle cx="61.2" cy="432.8" r="0.6" fill="#222"/>
<circle cx="92.3" cy="432.8" r="0.6" fill="#222"/>
<circle cx="84.1" cy="451.4" r="0.6" fill="#222"/>
<circle cx="95.3" cy="451.4" r="0.6" fill="#222"/>
<circle cx="121.5" cy="451.4" r="0.6" fill="#222"/>
<circle cx="132.7" cy="451.4" r="0.6" fill="#222"/>
<text x="17.6" y="435.9" text-anchor="end" font-size="8.6">KD</text>
<text x="18.3" y="455.6" text-anchor="end" font-size="8.6">Con</text>
<text x="26.4" y="478.3" text-anchor="middle" font-size="8.6">0</text>
<text x="67.9" y="478.3" text-anchor="middle" font-size="8.6">0.5</text>
<text x="108.7" y="478.3" text-anchor="middle" font-size="8.6">1.0</text>
<text x="26.2" y="491.5" font-size="8.2">relative Syt7 level</text>
<line x1="139.5" y1="432.7" x2="139.5" y2="453.3" stroke="#000" stroke-width="0.9"/>
<text x="146.6" y="439.2" text-anchor="middle" font-size="8.4" transform="rotate(90 146.6 439.2)">p=0.01</text>
<rect x="164" y="308.8" width="139" height="94.6" fill="#000"/>
<rect x="164" y="405.9" width="139" height="91.1" fill="#000"/>
<clipPath id="cl3"><path d="M190.6 323.4 C193.26 317.88 197.32 315.42 201.8 314.2 C206.28 312.98 208.3 317.1 213 317.3 C217.7 317.5 221.62 313.98 225.3 315.2 C228.98 316.42 228.12 320.94 231.4 323.4 C234.68 325.86 238.02 324.24 241.7 327.5 C245.38 330.76 246.12 335.62 249.8 339.7 C253.48 343.78 256.82 344.62 260.1 347.9 C263.38 351.18 264.78 350.78 266.2 356.1 C267.62 361.42 268.02 367.96 267.2 374.5 C266.38 381.04 264.76 384.3 262.1 388.8 C259.44 393.3 257.58 394.96 253.9 397 C250.22 399.04 247.78 399.42 243.7 399 C239.62 398.58 237.58 396.94 233.5 394.9 C229.42 392.86 227.8 391.24 223.3 388.8 C218.8 386.36 215.92 384.74 211 382.7 C206.08 380.66 202.78 380.24 198.7 378.6 C194.62 376.96 193.24 378.6 190.6 374.5 C187.96 370.4 185.92 364.64 185.5 358.1 C185.08 351.56 187.48 348.74 188.5 341.8 C189.52 334.86 187.94 328.92 190.6 323.4Z"/></clipPath>
<g clip-path="url(#cl3)">
<path d="M190.6 323.4 C193.26 317.88 197.32 315.42 201.8 314.2 C206.28 312.98 208.3 317.1 213 317.3 C217.7 317.5 221.62 313.98 225.3 315.2 C228.98 316.42 228.12 320.94 231.4 323.4 C234.68 325.86 238.02 324.24 241.7 327.5 C245.38 330.76 246.12 335.62 249.8 339.7 C253.48 343.78 256.82 344.62 260.1 347.9 C263.38 351.18 264.78 350.78 266.2 356.1 C267.62 361.42 268.02 367.96 267.2 374.5 C266.38 381.04 264.76 384.3 262.1 388.8 C259.44 393.3 257.58 394.96 253.9 397 C250.22 399.04 247.78 399.42 243.7 399 C239.62 398.58 237.58 396.94 233.5 394.9 C229.42 392.86 227.8 391.24 223.3 388.8 C218.8 386.36 215.92 384.74 211 382.7 C206.08 380.66 202.78 380.24 198.7 378.6 C194.62 376.96 193.24 378.6 190.6 374.5 C187.96 370.4 185.92 364.64 185.5 358.1 C185.08 351.56 187.48 348.74 188.5 341.8 C189.52 334.86 187.94 328.92 190.6 323.4Z" fill="#3ee830"/>
<rect x="183.5" y="312.2" width="85.7" height="88.8" fill="#000" filter="url(#mottle)"/>
<g fill="#000" filter="url(#nblur)" opacity="1">
<ellipse cx="222.46" cy="361.67" rx="1.89" ry="2.44"/>
<ellipse cx="261.01" cy="353.69" rx="1.78" ry="1.93"/>
<ellipse cx="200.59" cy="357.61" rx="1.42" ry="1.55"/>
<ellipse cx="236.96" cy="381.44" rx="1.74" ry="1.59"/>
<ellipse cx="193.19" cy="339.93" rx="1.62" ry="1.59"/>
<ellipse cx="192.91" cy="382.86" rx="2.31" ry="1.91"/>
<ellipse cx="242.15" cy="317.75" rx="1.95" ry="2.28"/>
<ellipse cx="265.75" cy="396.01" rx="1.69" ry="1.59"/>
<ellipse cx="238.93" cy="366.4" rx="2.34" ry="1.84"/>
<ellipse cx="198.37" cy="315.47" rx="1.52" ry="1.38"/>
<ellipse cx="228.67" cy="319.25" rx="1.91" ry="1.91"/>
<ellipse cx="201.04" cy="334.72" rx="1.22" ry="1.54"/>
<ellipse cx="187.96" cy="353.54" rx="2.51" ry="2.35"/>
<ellipse cx="221.49" cy="385.64" rx="2.03" ry="2.03"/>
<ellipse cx="227.91" cy="368.5" rx="1.83" ry="2.27"/>
<ellipse cx="222.86" cy="337.79" rx="1.77" ry="2.22"/>
<ellipse cx="254.15" cy="374.22" rx="1.86" ry="1.75"/>
<ellipse cx="211.26" cy="333.68" rx="1.87" ry="2.13"/>
<ellipse cx="209.11" cy="320.15" rx="1.56" ry="1.87"/>
<ellipse cx="248.11" cy="348.15" rx="1.9" ry="2.37"/>
<ellipse cx="254.67" cy="346.98" rx="1.88" ry="1.75"/>
<ellipse cx="263.77" cy="386.05" rx="2.26" ry="2.57"/>
<ellipse cx="185.54" cy="331.98" rx="1.92" ry="2.56"/>
<ellipse cx="265.6" cy="347.9" rx="1.79" ry="2.11"/>
<ellipse cx="191.47" cy="367.58" rx="1.4" ry="1.41"/>
<ellipse cx="249.1" cy="337.08" rx="1.98" ry="1.48"/>
<ellipse cx="264.27" cy="378.48" rx="2.18" ry="1.83"/>
<ellipse cx="193.76" cy="319.28" rx="2.09" ry="2.21"/>
<ellipse cx="250.62" cy="329.27" rx="2.16" ry="1.77"/>
<ellipse cx="231.19" cy="352.14" rx="1.41" ry="1.49"/>
<ellipse cx="201.08" cy="376.26" rx="1.8" ry="1.35"/>
<ellipse cx="195.02" cy="349.88" rx="2.32" ry="2.09"/>
<ellipse cx="210.35" cy="389.24" rx="1.34" ry="1.74"/>
<ellipse cx="202.72" cy="347.63" rx="1.97" ry="1.54"/>
<ellipse cx="255.3" cy="368.63" rx="1.42" ry="1.42"/>
<ellipse cx="193.7" cy="398.09" rx="1.7" ry="1.67"/>
<ellipse cx="205.35" cy="365.19" rx="1.77" ry="1.84"/>
<ellipse cx="215.87" cy="352.63" rx="1.7" ry="1.61"/>
<ellipse cx="232.44" cy="387.68" rx="2.3" ry="1.85"/>
<ellipse cx="200.44" cy="327.27" rx="1.65" ry="2.15"/>
<ellipse cx="205.88" cy="330.3" rx="1.94" ry="1.92"/>
<ellipse cx="245.91" cy="393.95" rx="1.76" ry="1.28"/>
<ellipse cx="201.56" cy="394.77" rx="1.6" ry="1.86"/>
<ellipse cx="219.93" cy="323.01" rx="2.3" ry="1.89"/>
<ellipse cx="188.66" cy="395.84" rx="1.96" ry="1.71"/>
<ellipse cx="206.5" cy="384.05" rx="1.45" ry="1.31"/>
<ellipse cx="234.23" cy="339.08" rx="1.3" ry="1.66"/>
<ellipse cx="191.12" cy="333.57" rx="2.12" ry="1.99"/>
<ellipse cx="260.45" cy="331.5" rx="2.1" ry="1.74"/>
<ellipse cx="232.25" cy="325.36" rx="1.54" ry="1.41"/>
<ellipse cx="265.61" cy="369.91" rx="1.36" ry="1.55"/>
<ellipse cx="224.9" cy="376.15" rx="1.6" ry="1.49"/>
<ellipse cx="211.55" cy="398.95" rx="1.86" ry="2.01"/>
<ellipse cx="191.65" cy="360.51" rx="2.21" ry="2.34"/>
<ellipse cx="245.72" cy="373.87" rx="1.46" ry="1.31"/>
<ellipse cx="214.24" cy="372.3" rx="1.96" ry="2.39"/>
<ellipse cx="256.05" cy="362.77" rx="2.05" ry="2.06"/>
<ellipse cx="236.56" cy="346.62" rx="2.43" ry="2.06"/>
<ellipse cx="233.1" cy="365.83" rx="2.29" ry="2.2"/>
<ellipse cx="245.55" cy="363.46" rx="2.02" ry="1.99"/>
<ellipse cx="242.55" cy="356.37" rx="1.77" ry="1.77"/>
<ellipse cx="235.7" cy="392.26" rx="1.98" ry="2.55"/>
<ellipse cx="206.4" cy="315.16" rx="1.43" ry="1.7"/>
<ellipse cx="251.35" cy="391.73" rx="1.87" ry="1.87"/>
<ellipse cx="253.89" cy="386.17" rx="2.08" ry="1.83"/>
<ellipse cx="236.62" cy="356.08" rx="1.78" ry="2.05"/>
<ellipse cx="256.81" cy="317.72" rx="2.27" ry="1.97"/>
<ellipse cx="187.06" cy="325.72" rx="1.74" ry="1.87"/>
<ellipse cx="222.66" cy="316.3" rx="1.78" ry="1.72"/>
<ellipse cx="241.42" cy="331.1" rx="2.2" ry="1.83"/>
<ellipse cx="224.32" cy="329.35" rx="1.37" ry="1.37"/>
<ellipse cx="207.75" cy="343.52" rx="2.28" ry="2.12"/>
<ellipse cx="217.65" cy="381.36" rx="1.35" ry="1.6"/>
<ellipse cx="216.28" cy="362.44" rx="1.28" ry="1.59"/>
<ellipse cx="257.34" cy="381.77" rx="1.57" ry="1.78"/>
<ellipse cx="244.48" cy="383.6" rx="1.77" ry="1.85"/>
<ellipse cx="237.92" cy="375.06" rx="1.93" ry="2.34"/>
<ellipse cx="229.37" cy="381.26" rx="1.71" ry="1.37"/>
<ellipse cx="251.61" cy="319.63" rx="1.34" ry="1.61"/>
<ellipse cx="263.05" cy="321.49" rx="1.78" ry="1.53"/>
<ellipse cx="209.21" cy="376.01" rx="2.43" ry="2.32"/>
<ellipse cx="264.62" cy="358.65" rx="1.37" ry="1.6"/>
<ellipse cx="232.31" cy="331.24" rx="1.39" ry="1.81"/>
<ellipse cx="234.95" cy="316.55" rx="2.37" ry="2.42"/>
<ellipse cx="207.49" cy="354.32" rx="1.92" ry="2.25"/>
<ellipse cx="241.63" cy="341.51" rx="1.93" ry="1.63"/>
<ellipse cx="194.07" cy="376.18" rx="2.29" ry="2.59"/>
<ellipse cx="255.5" cy="333.93" rx="2.22" ry="2.13"/>
<ellipse cx="259.25" cy="340.99" rx="1.42" ry="1.35"/>
<ellipse cx="258.01" cy="325.56" rx="1.74" ry="1.6"/>
<ellipse cx="230.57" cy="357.86" rx="2.04" ry="1.64"/>
<ellipse cx="254.15" cy="398.18" rx="1.88" ry="1.77"/>
<ellipse cx="258.75" cy="388.81" rx="1.89" ry="1.74"/>
<ellipse cx="186.37" cy="344.36" rx="2.03" ry="2.04"/>
<ellipse cx="265.57" cy="316.14" rx="1.57" ry="1.69"/>
<ellipse cx="215.37" cy="338.43" rx="1.85" ry="1.62"/>
<ellipse cx="217.36" cy="390.31" rx="1.58" ry="1.49"/>
<ellipse cx="191.51" cy="390.99" rx="2.04" ry="1.92"/>
<ellipse cx="265.01" cy="334.87" rx="1.71" ry="2.13"/>
<ellipse cx="228.26" cy="393.68" rx="1.53" ry="1.5"/>
<ellipse cx="221.68" cy="370.84" rx="1.66" ry="1.55"/>
<ellipse cx="249.06" cy="359.21" rx="2.26" ry="1.68"/>
<ellipse cx="249.58" cy="367.2" rx="1.94" ry="2.37"/>
<ellipse cx="238.9" cy="398.08" rx="2.14" ry="2.49"/>
<ellipse cx="220.44" cy="345.51" rx="1.52" ry="1.72"/>
<ellipse cx="202.92" cy="370.35" rx="1.96" ry="1.93"/>
<ellipse cx="260.55" cy="393.91" rx="1.61" ry="1.66"/>
<ellipse cx="211.45" cy="348.09" rx="1.76" ry="2.1"/>
<ellipse cx="216.18" cy="328.42" rx="1.95" ry="1.93"/>
<ellipse cx="210.97" cy="360.69" rx="1.85" ry="2.09"/>
<ellipse cx="185.61" cy="383.86" rx="1.7" ry="1.9"/>
<ellipse cx="224.72" cy="353.94" rx="2.22" ry="2.02"/>
<ellipse cx="198.37" cy="384.75" rx="1.88" ry="1.93"/>
<ellipse cx="223.23" cy="396.19" rx="1.46" ry="1.84"/>
<ellipse cx="232.6" cy="373.31" rx="2.09" ry="2.1"/>
<ellipse cx="226.57" cy="347.84" rx="1.67" ry="2.02"/>
<ellipse cx="239.89" cy="387.68" rx="1.7" ry="1.71"/>
<ellipse cx="243.76" cy="325.64" rx="1.8" ry="1.76"/>
<ellipse cx="249.76" cy="381.29" rx="2.44" ry="2.07"/>
<ellipse cx="266.07" cy="326.46" rx="1.96" ry="1.84"/>
<ellipse cx="243.23" cy="336.28" rx="1.72" ry="1.88"/>
<ellipse cx="237.18" cy="321.82" rx="1.66" ry="2.15"/>
<ellipse cx="197.82" cy="363.61" rx="1.78" ry="2.02"/>
<ellipse cx="185.58" cy="360.32" rx="1.46" ry="1.6"/>
<ellipse cx="264.65" cy="342.48" rx="1.45" ry="1.27"/>
<ellipse cx="241.68" cy="349.76" rx="2.11" ry="2.3"/>
<ellipse cx="194.15" cy="326.32" rx="1.37" ry="1.63"/>
<ellipse cx="202.22" cy="388.86" rx="1.8" ry="1.63"/>
<ellipse cx="203.69" cy="322.61" rx="2.16" ry="2.01"/>
<ellipse cx="206.09" cy="337.11" rx="1.64" ry="1.69"/>
<ellipse cx="188.37" cy="373.43" rx="1.44" ry="1.84"/>
<ellipse cx="187.47" cy="316.91" rx="1.51" ry="1.24"/>
<ellipse cx="228.48" cy="342.64" rx="1.99" ry="2.19"/>
<ellipse cx="198.6" cy="342.22" rx="2.04" ry="2.11"/>
<ellipse cx="254.62" cy="353.64" rx="1.33" ry="1.7"/>
<ellipse cx="218.05" cy="398.46" rx="1.29" ry="1.51"/>
<ellipse cx="260.28" cy="371.61" rx="1.77" ry="1.92"/>
<ellipse cx="212.93" cy="314.99" rx="1.63" ry="1.3"/>
<ellipse cx="262.51" cy="364.66" rx="1.7" ry="1.52"/>
<ellipse cx="266.45" cy="353.4" rx="1.91" ry="1.82"/>
<ellipse cx="228.31" cy="336.76" rx="1.64" ry="1.82"/>
</g>
<path d="M190.6 323.4 C193.26 317.88 197.32 315.42 201.8 314.2 C206.28 312.98 208.3 317.1 213 317.3 C217.7 317.5 221.62 313.98 225.3 315.2 C228.98 316.42 228.12 320.94 231.4 323.4 C234.68 325.86 238.02 324.24 241.7 327.5 C245.38 330.76 246.12 335.62 249.8 339.7 C253.48 343.78 256.82 344.62 260.1 347.9 C263.38 351.18 264.78 350.78 266.2 356.1 C267.62 361.42 268.02 367.96 267.2 374.5 C266.38 381.04 264.76 384.3 262.1 388.8 C259.44 393.3 257.58 394.96 253.9 397 C250.22 399.04 247.78 399.42 243.7 399 C239.62 398.58 237.58 396.94 233.5 394.9 C229.42 392.86 227.8 391.24 223.3 388.8 C218.8 386.36 215.92 384.74 211 382.7 C206.08 380.66 202.78 380.24 198.7 378.6 C194.62 376.96 193.24 378.6 190.6 374.5 C187.96 370.4 185.92 364.64 185.5 358.1 C185.08 351.56 187.48 348.74 188.5 341.8 C189.52 334.86 187.94 328.92 190.6 323.4Z" fill="none" stroke="#000" stroke-width="2.5" opacity="0.55" filter="url(#nblur)"/>
</g>
<clipPath id="cl4"><path d="M188.5 415.3 C192.38 412.44 193.8 412.02 198.7 411.2 C203.6 410.38 208.08 410.18 213 411.2 C217.92 412.22 220.02 413.86 223.3 416.3 C226.58 418.74 227.86 420.74 229.4 423.4 C230.94 426.06 231.4 426.74 231 429.6 C230.6 432.46 228.94 434.02 227.4 437.7 C225.86 441.38 225.36 443.08 223.3 448 C221.24 452.92 219.16 457.82 217.1 462.3 C215.04 466.78 215.86 468.78 213 470.4 C210.14 472.02 206.88 471.62 202.8 470.4 C198.72 469.18 196.68 467.98 192.6 464.3 C188.52 460.62 185.46 456.9 182.4 452 C179.34 447.1 177.92 445.1 177.3 439.8 C176.68 434.5 177.06 430.4 179.3 425.5 C181.54 420.6 184.62 418.16 188.5 415.3Z"/></clipPath>
<g clip-path="url(#cl4)">
<path d="M188.5 415.3 C192.38 412.44 193.8 412.02 198.7 411.2 C203.6 410.38 208.08 410.18 213 411.2 C217.92 412.22 220.02 413.86 223.3 416.3 C226.58 418.74 227.86 420.74 229.4 423.4 C230.94 426.06 231.4 426.74 231 429.6 C230.6 432.46 228.94 434.02 227.4 437.7 C225.86 441.38 225.36 443.08 223.3 448 C221.24 452.92 219.16 457.82 217.1 462.3 C215.04 466.78 215.86 468.78 213 470.4 C210.14 472.02 206.88 471.62 202.8 470.4 C198.72 469.18 196.68 467.98 192.6 464.3 C188.52 460.62 185.46 456.9 182.4 452 C179.34 447.1 177.92 445.1 177.3 439.8 C176.68 434.5 177.06 430.4 179.3 425.5 C181.54 420.6 184.62 418.16 188.5 415.3Z" fill="#3ee830"/>
<rect x="175.3" y="409.2" width="57.7" height="63.2" fill="#000" filter="url(#mottle)"/>
<g fill="#000" filter="url(#nblur)" opacity="1">
<ellipse cx="202.78" cy="450.12" rx="1.95" ry="1.92"/>
<ellipse cx="213.09" cy="419.64" rx="2.3" ry="2.19"/>
<ellipse cx="177.88" cy="433.39" rx="1.43" ry="1.56"/>
<ellipse cx="192.02" cy="459.17" rx="2.06" ry="1.91"/>
<ellipse cx="214.38" cy="446.81" rx="1.73" ry="1.65"/>
<ellipse cx="185.1" cy="437.25" rx="2.23" ry="1.7"/>
<ellipse cx="186.01" cy="464.83" rx="1.71" ry="1.89"/>
<ellipse cx="180.46" cy="459.67" rx="1.4" ry="1.77"/>
<ellipse cx="181.31" cy="451.87" rx="1.79" ry="1.95"/>
<ellipse cx="195.4" cy="435.15" rx="2.2" ry="2.12"/>
<ellipse cx="222.54" cy="412.3" rx="1.37" ry="1.6"/>
<ellipse cx="180.56" cy="465.37" rx="1.51" ry="2.05"/>
<ellipse cx="204.63" cy="416.59" rx="1.92" ry="1.98"/>
<ellipse cx="230.31" cy="467.25" rx="1.62" ry="1.39"/>
<ellipse cx="184.55" cy="429.7" rx="2.29" ry="1.78"/>
<ellipse cx="214.72" cy="414.24" rx="1.71" ry="1.89"/>
<ellipse cx="209.3" cy="439.42" rx="1.53" ry="1.65"/>
<ellipse cx="197.95" cy="413.01" rx="1.34" ry="1.73"/>
<ellipse cx="216.3" cy="468.47" rx="2" ry="1.98"/>
<ellipse cx="229.73" cy="450.48" rx="1.53" ry="1.54"/>
<ellipse cx="196.81" cy="441.47" rx="1.64" ry="1.57"/>
<ellipse cx="220.8" cy="440.8" rx="2" ry="1.98"/>
<ellipse cx="198.15" cy="456.9" rx="2.09" ry="2.11"/>
<ellipse cx="182.81" cy="443.76" rx="1.72" ry="1.82"/>
<ellipse cx="186.86" cy="452.4" rx="1.82" ry="2.19"/>
<ellipse cx="179.28" cy="427.57" rx="2.25" ry="2.01"/>
<ellipse cx="195.78" cy="448.91" rx="1.42" ry="1.57"/>
<ellipse cx="202.88" cy="467.96" rx="1.86" ry="1.94"/>
<ellipse cx="196.86" cy="422.4" rx="1.47" ry="2.05"/>
<ellipse cx="218.69" cy="431.43" rx="1.7" ry="2.03"/>
<ellipse cx="190.27" cy="411.71" rx="1.9" ry="2.4"/>
<ellipse cx="221.98" cy="449.05" rx="2.16" ry="2.06"/>
<ellipse cx="189.62" cy="442.41" rx="2.45" ry="2.25"/>
<ellipse cx="191.41" cy="467.24" rx="1.94" ry="1.81"/>
<ellipse cx="225.32" cy="420.8" rx="2.44" ry="2.34"/>
<ellipse cx="192.61" cy="426.29" rx="2.12" ry="2.24"/>
<ellipse cx="213.99" cy="452.29" rx="2" ry="1.77"/>
<ellipse cx="208.9" cy="464.54" rx="2.14" ry="2.08"/>
<ellipse cx="225.83" cy="458.43" rx="1.74" ry="2.11"/>
<ellipse cx="206.03" cy="457.92" rx="1.53" ry="1.76"/>
<ellipse cx="184.92" cy="416.56" rx="1.72" ry="1.57"/>
<ellipse cx="227.49" cy="432.84" rx="1.75" ry="1.84"/>
<ellipse cx="213.14" cy="431.4" rx="1.81" ry="1.66"/>
<ellipse cx="227.98" cy="411.66" rx="1.54" ry="1.75"/>
<ellipse cx="229.52" cy="443.99" rx="2.35" ry="1.78"/>
<ellipse cx="204.14" cy="432.56" rx="1.75" ry="1.57"/>
<ellipse cx="198.19" cy="462.89" rx="2" ry="1.52"/>
<ellipse cx="178" cy="421.33" rx="1.95" ry="2.27"/>
<ellipse cx="202.83" cy="423.43" rx="2.02" ry="2.12"/>
<ellipse cx="223.61" cy="469.78" rx="1.54" ry="1.8"/>
<ellipse cx="228.8" cy="438.34" rx="1.86" ry="1.89"/>
<ellipse cx="178.45" cy="440.45" rx="1.87" ry="1.94"/>
<ellipse cx="205.33" cy="444.45" rx="1.74" ry="1.99"/>
<ellipse cx="222.53" cy="464.26" rx="2.02" ry="1.57"/>
<ellipse cx="210.72" cy="469.83" rx="1.45" ry="1.81"/>
<ellipse cx="220.24" cy="455.41" rx="2.14" ry="2.02"/>
<ellipse cx="207.87" cy="452.71" rx="1.35" ry="1.78"/>
<ellipse cx="184.06" cy="423.04" rx="2.54" ry="1.95"/>
<ellipse cx="181.87" cy="411.63" rx="1.79" ry="1.64"/>
<ellipse cx="217.29" cy="460.12" rx="2.46" ry="2.44"/>
<ellipse cx="198.37" cy="429.72" rx="1.67" ry="1.51"/>
<ellipse cx="203.54" cy="438.12" rx="1.99" ry="2.14"/>
<ellipse cx="225.33" cy="426.88" rx="1.71" ry="1.61"/>
<ellipse cx="191.08" cy="418.7" rx="2.18" ry="2.36"/>
<ellipse cx="207.36" cy="411.9" rx="1.47" ry="1.48"/>
<ellipse cx="184.03" cy="469.94" rx="1.26" ry="1.65"/>
<ellipse cx="207.56" cy="426.34" rx="2.39" ry="2.24"/>
</g>
<path d="M188.5 415.3 C192.38 412.44 193.8 412.02 198.7 411.2 C203.6 410.38 208.08 410.18 213 411.2 C217.92 412.22 220.02 413.86 223.3 416.3 C226.58 418.74 227.86 420.74 229.4 423.4 C230.94 426.06 231.4 426.74 231 429.6 C230.6 432.46 228.94 434.02 227.4 437.7 C225.86 441.38 225.36 443.08 223.3 448 C221.24 452.92 219.16 457.82 217.1 462.3 C215.04 466.78 215.86 468.78 213 470.4 C210.14 472.02 206.88 471.62 202.8 470.4 C198.72 469.18 196.68 467.98 192.6 464.3 C188.52 460.62 185.46 456.9 182.4 452 C179.34 447.1 177.92 445.1 177.3 439.8 C176.68 434.5 177.06 430.4 179.3 425.5 C181.54 420.6 184.62 418.16 188.5 415.3Z" fill="none" stroke="#000" stroke-width="2.5" opacity="0.55" filter="url(#nblur)"/>
</g>
<clipPath id="cl5"><path d="M232.4 429.6 C234.74 426.74 237.4 426.74 241.7 425.5 C246 424.26 249 423.4 253.9 423.4 C258.8 423.4 261.3 423.44 266.2 425.5 C271.1 427.56 273.9 429.62 278.4 433.7 C282.9 437.78 285.82 440.6 288.7 445.9 C291.58 451.2 292.2 454.48 292.8 460.2 C293.4 465.92 293.34 469.6 291.7 474.5 C290.06 479.4 288.88 481.42 284.6 484.7 C280.32 487.98 276.44 489.66 270.3 490.9 C264.16 492.14 260.04 492.14 253.9 490.9 C247.76 489.66 244.9 487.98 239.6 484.7 C234.3 481.42 230.16 478.58 227.4 474.5 C224.64 470.42 225.4 468.8 225.8 464.3 C226.2 459.8 228.56 456.9 229.4 452 C230.24 447.1 229.4 444.28 230 439.8 C230.6 435.32 230.06 432.46 232.4 429.6Z"/></clipPath>
<g clip-path="url(#cl5)">
<path d="M232.4 429.6 C234.74 426.74 237.4 426.74 241.7 425.5 C246 424.26 249 423.4 253.9 423.4 C258.8 423.4 261.3 423.44 266.2 425.5 C271.1 427.56 273.9 429.62 278.4 433.7 C282.9 437.78 285.82 440.6 288.7 445.9 C291.58 451.2 292.2 454.48 292.8 460.2 C293.4 465.92 293.34 469.6 291.7 474.5 C290.06 479.4 288.88 481.42 284.6 484.7 C280.32 487.98 276.44 489.66 270.3 490.9 C264.16 492.14 260.04 492.14 253.9 490.9 C247.76 489.66 244.9 487.98 239.6 484.7 C234.3 481.42 230.16 478.58 227.4 474.5 C224.64 470.42 225.4 468.8 225.8 464.3 C226.2 459.8 228.56 456.9 229.4 452 C230.24 447.1 229.4 444.28 230 439.8 C230.6 435.32 230.06 432.46 232.4 429.6Z" fill="#3ee830"/>
<rect x="223.8" y="421.4" width="71" height="71.5" fill="#000" filter="url(#mottle)"/>
<g fill="#000" filter="url(#nblur)" opacity="1">
<ellipse cx="243.15" cy="469.65" rx="1.68" ry="1.6"/>
<ellipse cx="271.63" cy="480.73" rx="1.5" ry="1.34"/>
<ellipse cx="238.24" cy="438.96" rx="2.42" ry="2"/>
<ellipse cx="274.98" cy="432.19" rx="1.93" ry="1.78"/>
<ellipse cx="261.4" cy="437.84" rx="1.73" ry="1.78"/>
<ellipse cx="245.54" cy="452.53" rx="2.39" ry="1.84"/>
<ellipse cx="281.92" cy="464.47" rx="2.03" ry="1.9"/>
<ellipse cx="226.77" cy="442.02" rx="2.04" ry="2.06"/>
<ellipse cx="235.63" cy="482.21" rx="1.54" ry="1.46"/>
<ellipse cx="280.05" cy="477.81" rx="1.72" ry="1.34"/>
<ellipse cx="289.4" cy="476.98" rx="1.72" ry="1.83"/>
<ellipse cx="243" cy="480.77" rx="1.91" ry="1.9"/>
<ellipse cx="258.41" cy="474.36" rx="1.82" ry="1.39"/>
<ellipse cx="263.6" cy="452.4" rx="1.56" ry="1.56"/>
<ellipse cx="246.82" cy="431.32" rx="2.22" ry="1.7"/>
<ellipse cx="291.84" cy="470.04" rx="1.79" ry="1.78"/>
<ellipse cx="234.84" cy="469.09" rx="1.68" ry="1.35"/>
<ellipse cx="255.51" cy="435.32" rx="2.32" ry="2.32"/>
<ellipse cx="239.38" cy="458.68" rx="1.98" ry="1.95"/>
<ellipse cx="238.83" cy="448.13" rx="2.23" ry="2.25"/>
<ellipse cx="289.7" cy="449.7" rx="2.16" ry="1.98"/>
<ellipse cx="273.97" cy="486.38" rx="2.18" ry="2.36"/>
<ellipse cx="228.69" cy="432.97" rx="2.05" ry="2.16"/>
<ellipse cx="268.62" cy="434.18" rx="1.5" ry="1.78"/>
<ellipse cx="253.5" cy="482.01" rx="1.67" ry="1.8"/>
<ellipse cx="250.91" cy="471.76" rx="1.84" ry="1.69"/>
<ellipse cx="234.98" cy="488.96" rx="2.04" ry="1.68"/>
<ellipse cx="266.23" cy="472.18" rx="2.09" ry="1.7"/>
<ellipse cx="239.98" cy="465.06" rx="1.65" ry="2.11"/>
<ellipse cx="264.72" cy="463.31" rx="1.91" ry="2.2"/>
<ellipse cx="248.67" cy="443.33" rx="1.85" ry="1.65"/>
<ellipse cx="228.4" cy="453.07" rx="1.97" ry="1.68"/>
<ellipse cx="226" cy="490.76" rx="2.22" ry="1.76"/>
<ellipse cx="233.94" cy="443.75" rx="2.08" ry="1.72"/>
<ellipse cx="259.07" cy="488.86" rx="2.22" ry="2.48"/>
<ellipse cx="270.66" cy="443.42" rx="2.18" ry="1.91"/>
<ellipse cx="282.69" cy="440.85" rx="1.55" ry="1.63"/>
<ellipse cx="242.17" cy="442.8" rx="1.91" ry="1.85"/>
<ellipse cx="231.61" cy="474.57" rx="1.68" ry="1.78"/>
<ellipse cx="265.99" cy="423.68" rx="1.63" ry="1.79"/>
<ellipse cx="258.01" cy="460.84" rx="1.98" ry="1.84"/>
<ellipse cx="283.66" cy="430.96" rx="1.61" ry="1.93"/>
<ellipse cx="284.52" cy="490.22" rx="2.08" ry="1.92"/>
<ellipse cx="228.72" cy="459.52" rx="2.07" ry="1.88"/>
<ellipse cx="262.34" cy="431.88" rx="1.36" ry="1.42"/>
<ellipse cx="257.89" cy="448.49" rx="2.02" ry="2.35"/>
<ellipse cx="248.91" cy="477.52" rx="2.41" ry="2.1"/>
<ellipse cx="245.87" cy="488.33" rx="1.78" ry="1.37"/>
<ellipse cx="229.29" cy="425.45" rx="1.53" ry="1.44"/>
<ellipse cx="254.23" cy="465.39" rx="1.48" ry="1.41"/>
<ellipse cx="281.62" cy="471.73" rx="1.71" ry="1.27"/>
<ellipse cx="292.54" cy="455.21" rx="1.89" ry="1.84"/>
<ellipse cx="255.96" cy="423.65" rx="2.5" ry="2.22"/>
<ellipse cx="282.99" cy="451.49" rx="1.89" ry="1.7"/>
<ellipse cx="250.96" cy="455.54" rx="1.59" ry="1.6"/>
<ellipse cx="228.09" cy="478.83" rx="1.62" ry="1.58"/>
<ellipse cx="237.77" cy="430.34" rx="1.78" ry="1.54"/>
<ellipse cx="265.25" cy="444.14" rx="1.62" ry="1.77"/>
<ellipse cx="285.11" cy="456.94" rx="1.7" ry="1.57"/>
<ellipse cx="260.73" cy="479.73" rx="1.98" ry="1.81"/>
<ellipse cx="269.29" cy="452.32" rx="2.2" ry="1.61"/>
<ellipse cx="290.08" cy="424.89" rx="1.92" ry="1.77"/>
<ellipse cx="276.7" cy="446.34" rx="1.64" ry="1.36"/>
<ellipse cx="274.1" cy="468.44" rx="2.04" ry="1.95"/>
<ellipse cx="278.35" cy="489.97" rx="1.74" ry="1.76"/>
<ellipse cx="231.15" cy="437.95" rx="1.64" ry="1.55"/>
<ellipse cx="245.54" cy="437.16" rx="2.11" ry="1.94"/>
<ellipse cx="226.85" cy="470.53" rx="1.62" ry="2.01"/>
<ellipse cx="229.42" cy="465.31" rx="2.29" ry="2.26"/>
<ellipse cx="290.47" cy="440.57" rx="2.11" ry="1.9"/>
<ellipse cx="272.99" cy="462.25" rx="1.67" ry="1.92"/>
<ellipse cx="250.16" cy="423.54" rx="2.01" ry="2.01"/>
<ellipse cx="268.01" cy="487.07" rx="2.03" ry="2.02"/>
<ellipse cx="277.38" cy="456.6" rx="1.83" ry="1.94"/>
<ellipse cx="245.06" cy="460.89" rx="1.52" ry="1.32"/>
<ellipse cx="274.06" cy="424.56" rx="1.68" ry="2.01"/>
<ellipse cx="289.48" cy="433.89" rx="1.68" ry="1.91"/>
<ellipse cx="280.46" cy="424.5" rx="2.27" ry="2.08"/>
<ellipse cx="239.43" cy="474.67" rx="2.52" ry="2.44"/>
<ellipse cx="290.19" cy="488.57" rx="1.41" ry="1.53"/>
<ellipse cx="255.7" cy="443.24" rx="1.71" ry="2.23"/>
<ellipse cx="261.07" cy="426.25" rx="2.18" ry="1.62"/>
<ellipse cx="252.09" cy="448.62" rx="1.48" ry="1.64"/>
<ellipse cx="241.45" cy="426.39" rx="1.97" ry="1.45"/>
<ellipse cx="251.84" cy="489.11" rx="2.58" ry="2.37"/>
<ellipse cx="274.07" cy="438.7" rx="2.09" ry="1.81"/>
<ellipse cx="233.87" cy="452.09" rx="1.56" ry="1.59"/>
<ellipse cx="288.31" cy="482.68" rx="1.66" ry="1.49"/>
<ellipse cx="240.55" cy="490.59" rx="1.66" ry="1.46"/>
<ellipse cx="233.9" cy="457.94" rx="2.3" ry="1.68"/>
<ellipse cx="260.15" cy="468.01" rx="1.7" ry="1.33"/>
<ellipse cx="290.8" cy="460.64" rx="1.62" ry="1.76"/>
<ellipse cx="273.96" cy="473.94" rx="2.15" ry="2.24"/>
<ellipse cx="268.97" cy="457.93" rx="1.61" ry="1.4"/>
<ellipse cx="256.72" cy="454.74" rx="2.24" ry="2.38"/>
<ellipse cx="279.94" cy="436.13" rx="1.7" ry="2.06"/>
</g>
<path d="M232.4 429.6 C234.74 426.74 237.4 426.74 241.7 425.5 C246 424.26 249 423.4 253.9 423.4 C258.8 423.4 261.3 423.44 266.2 425.5 C271.1 427.56 273.9 429.62 278.4 433.7 C282.9 437.78 285.82 440.6 288.7 445.9 C291.58 451.2 292.2 454.48 292.8 460.2 C293.4 465.92 293.34 469.6 291.7 474.5 C290.06 479.4 288.88 481.42 284.6 484.7 C280.32 487.98 276.44 489.66 270.3 490.9 C264.16 492.14 260.04 492.14 253.9 490.9 C247.76 489.66 244.9 487.98 239.6 484.7 C234.3 481.42 230.16 478.58 227.4 474.5 C224.64 470.42 225.4 468.8 225.8 464.3 C226.2 459.8 228.56 456.9 229.4 452 C230.24 447.1 229.4 444.28 230 439.8 C230.6 435.32 230.06 432.46 232.4 429.6Z" fill="none" stroke="#000" stroke-width="2.5" opacity="0.55" filter="url(#nblur)"/>
</g>
<g filter="url(#soft)">
<ellipse cx="207.77" cy="311.48" rx="1.72" ry="1.08" fill="#400" stroke="#e3221a" stroke-width="1.1"/>
<ellipse cx="203.74" cy="311.03" rx="1.28" ry="1.01" fill="#400" stroke="#e3221a" stroke-width="1.1"/>
<ellipse cx="219.9" cy="312.61" rx="1.18" ry="1.12" fill="#400" stroke="#e3221a" stroke-width="1.1"/>
<ellipse cx="214.01" cy="312.37" rx="1.08" ry="0.9" fill="#400" stroke="#e3221a" stroke-width="1.1"/>
<ellipse cx="208.04" cy="312.53" rx="1.57" ry="1.49" fill="#400" stroke="#e3221a" stroke-width="1.1"/>
<ellipse cx="218.28" cy="312" rx="2.16" ry="2.09" fill="#e3221a" opacity="0.96"/>
<ellipse cx="204.07" cy="311.03" rx="2.37" ry="1.97" fill="#e3221a" opacity="0.76"/>
<ellipse cx="212.97" cy="311.71" rx="1.87" ry="1.79" fill="#e3221a" opacity="0.89"/>
<ellipse cx="222.56" cy="313.41" rx="1.99" ry="1.86" fill="#e3221a" opacity="0.99"/>
<ellipse cx="221.48" cy="312.83" rx="1.25" ry="1.04" fill="#400" stroke="#e3221a" stroke-width="1.1"/>
<ellipse cx="207.77" cy="312.49" rx="2.41" ry="2.19" fill="#e3221a" opacity="0.79"/>
<ellipse cx="205.48" cy="312.19" rx="2.25" ry="1.86" fill="#e3221a" opacity="0.67"/>
<ellipse cx="217.19" cy="312.98" rx="2.39" ry="2.39" fill="#e3221a" opacity="0.76"/>
<ellipse cx="204.58" cy="310.64" rx="1.36" ry="1.12" fill="#e3221a" opacity="0.7"/>
<ellipse cx="242.87" cy="397.71" rx="2.15" ry="1.62" fill="#400" stroke="#e3221a" stroke-width="1.1"/>
<ellipse cx="246.44" cy="399.21" rx="1.89" ry="1.56" fill="#e3221a" opacity="0.98"/>
<ellipse cx="246.73" cy="399.45" rx="1.41" ry="1.4" fill="#e3221a" opacity="0.83"/>
<ellipse cx="246.32" cy="398.93" rx="1.87" ry="1.54" fill="#e3221a" opacity="0.87"/>
<ellipse cx="242.57" cy="398.05" rx="2" ry="1.73" fill="#e3221a" opacity="0.91"/>
<ellipse cx="241.05" cy="398.4" rx="2.37" ry="1.79" fill="#e3221a" opacity="0.86"/>
<ellipse cx="244.69" cy="398.27" rx="1.59" ry="1.08" fill="#e3221a" opacity="0.78"/>
<ellipse cx="248.63" cy="399.68" rx="2.07" ry="1.34" fill="#e3221a" opacity="0.93"/>
<ellipse cx="243.51" cy="398.35" rx="2.02" ry="1.4" fill="#e3221a" opacity="0.77"/>
<ellipse cx="250.08" cy="400.38" rx="1.32" ry="1.11" fill="#e3221a" opacity="0.96"/>
<ellipse cx="245.75" cy="398.14" rx="1.8" ry="1.64" fill="#e3221a" opacity="0.94"/>
<ellipse cx="243.13" cy="398.98" rx="1.77" ry="1.31" fill="#400" stroke="#e3221a" stroke-width="1.1"/>
<ellipse cx="242.61" cy="398.85" rx="1.46" ry="1.07" fill="#e3221a" opacity="0.8"/>
<ellipse cx="246.72" cy="398.13" rx="1.01" ry="0.96" fill="#400" stroke="#e3221a" stroke-width="1.1"/>
<ellipse cx="214.6" cy="382.82" rx="2.32" ry="2.06" fill="#e3221a" opacity="0.94"/>
<ellipse cx="208.2" cy="379.56" rx="1.55" ry="0.89" fill="#e3221a" opacity="0.86"/>
<ellipse cx="201.15" cy="376.81" rx="2.08" ry="2.02" fill="#400" stroke="#e3221a" stroke-width="1.1"/>
<ellipse cx="213.7" cy="381.53" rx="1.02" ry="0.68" fill="#400" stroke="#e3221a" stroke-width="1.1"/>
<ellipse cx="201.11" cy="377.85" rx="1.5" ry="1.26" fill="#400" stroke="#e3221a" stroke-width="1.1"/>
<ellipse cx="201.13" cy="378.77" rx="1.57" ry="1.16" fill="#400" stroke="#e3221a" stroke-width="1.1"/>
<ellipse cx="198.78" cy="377.82" rx="1.21" ry="1.17" fill="#400" stroke="#e3221a" stroke-width="1.1"/>
<ellipse cx="211.71" cy="379.85" rx="1.75" ry="1.09" fill="#400" stroke="#e3221a" stroke-width="1.1"/>
<ellipse cx="199.75" cy="377.68" rx="1.66" ry="1.49" fill="#e3221a" opacity="0.65"/>
<ellipse cx="195.07" cy="375.58" rx="1.08" ry="1.02" fill="#400" stroke="#e3221a" stroke-width="1.1"/>
<ellipse cx="196.45" cy="376.15" rx="1.52" ry="1.27" fill="#e3221a" opacity="0.86"/>
<ellipse cx="201.41" cy="377.82" rx="1.26" ry="1.1" fill="#e3221a" opacity="0.78"/>
<ellipse cx="195.68" cy="376.23" rx="1.73" ry="1.3" fill="#400" stroke="#e3221a" stroke-width="1.1"/>
<ellipse cx="211.21" cy="380.67" rx="1.59" ry="1.38" fill="#e3221a" opacity="0.8"/>
</g>
<g filter="url(#soft)">
<ellipse cx="200.23" cy="411.91" rx="1.3" ry="0.95" fill="#e3221a" opacity="0.97"/>
<ellipse cx="211.88" cy="411.84" rx="1.81" ry="1.13" fill="#e3221a" opacity="0.69"/>
<ellipse cx="201.48" cy="412.77" rx="1.97" ry="1.33" fill="#400" stroke="#e3221a" stroke-width="1.1"/>
<ellipse cx="202.62" cy="412.62" rx="2.03" ry="1.29" fill="#400" stroke="#e3221a" stroke-width="1.1"/>
<ellipse cx="208.13" cy="412.31" rx="1.33" ry="0.78" fill="#e3221a" opacity="0.98"/>
<ellipse cx="212.63" cy="412.03" rx="2.3" ry="2.18" fill="#e3221a" opacity="0.95"/>
<ellipse cx="205.83" cy="412.45" rx="1.67" ry="1.14" fill="#e3221a" opacity="0.93"/>
<ellipse cx="196.58" cy="412.27" rx="1.47" ry="1.12" fill="#e3221a" opacity="0.77"/>
<ellipse cx="214.34" cy="412.32" rx="1.24" ry="0.88" fill="#400" stroke="#e3221a" stroke-width="1.1"/>
<ellipse cx="203.71" cy="411.82" rx="1.67" ry="1.07" fill="#400" stroke="#e3221a" stroke-width="1.1"/>
<ellipse cx="197.29" cy="412.56" rx="1.91" ry="1.33" fill="#e3221a" opacity="0.71"/>
<ellipse cx="204.19" cy="412.62" rx="2.08" ry="1.86" fill="#400" stroke="#e3221a" stroke-width="1.1"/>
<ellipse cx="213.3" cy="412.06" rx="2.16" ry="1.65" fill="#400" stroke="#e3221a" stroke-width="1.1"/>
<ellipse cx="292.39" cy="459.62" rx="1.49" ry="1.11" fill="#e3221a" opacity="0.7"/>
<ellipse cx="284.65" cy="448.53" rx="1.11" ry="0.69" fill="#e3221a" opacity="0.92"/>
<ellipse cx="283.02" cy="447.72" rx="2.4" ry="1.53" fill="#e3221a" opacity="0.67"/>
<ellipse cx="278.17" cy="443.35" rx="1.3" ry="1" fill="#e3221a" opacity="0.74"/>
<ellipse cx="292.21" cy="460.02" rx="2.12" ry="2.11" fill="#e3221a" opacity="0.82"/>
<ellipse cx="281.45" cy="445.43" rx="1.66" ry="1.57" fill="#e3221a" opacity="0.94"/>
<ellipse cx="284.54" cy="450.48" rx="1.42" ry="0.92" fill="#e3221a" opacity="0.95"/>
<ellipse cx="279.23" cy="445.41" rx="1.68" ry="1.28" fill="#400" stroke="#e3221a" stroke-width="1.1"/>
<ellipse cx="291.82" cy="458.8" rx="2.08" ry="1.22" fill="#e3221a" opacity="0.72"/>
<ellipse cx="291.91" cy="458.58" rx="1.4" ry="1.29" fill="#400" stroke="#e3221a" stroke-width="1.1"/>
<ellipse cx="288.27" cy="453.62" rx="1.79" ry="1.26" fill="#400" stroke="#e3221a" stroke-width="1.1"/>
<ellipse cx="292.75" cy="457.76" rx="2.17" ry="1.88" fill="#400" stroke="#e3221a" stroke-width="1.1"/>
<ellipse cx="279.47" cy="442.06" rx="2.16" ry="1.35" fill="#400" stroke="#e3221a" stroke-width="1.1"/>
<ellipse cx="227.12" cy="472.81" rx="1.9" ry="1.3" fill="#400" stroke="#e3221a" stroke-width="1.1"/>
<ellipse cx="223.92" cy="469.08" rx="2.26" ry="2.06" fill="#e3221a" opacity="0.92"/>
<ellipse cx="243.29" cy="484.8" rx="1.24" ry="0.91" fill="#400" stroke="#e3221a" stroke-width="1.1"/>
<ellipse cx="244.06" cy="484.21" rx="1.79" ry="1.01" fill="#e3221a" opacity="0.86"/>
<ellipse cx="234.97" cy="478.04" rx="1.28" ry="1.15" fill="#e3221a" opacity="0.83"/>
<ellipse cx="223.92" cy="470.82" rx="1.21" ry="0.87" fill="#e3221a" opacity="0.93"/>
<ellipse cx="229.62" cy="474.95" rx="2.38" ry="1.42" fill="#e3221a" opacity="0.87"/>
<ellipse cx="243.39" cy="484.03" rx="2.03" ry="1.27" fill="#400" stroke="#e3221a" stroke-width="1.1"/>
<ellipse cx="242.66" cy="483.71" rx="2.2" ry="2" fill="#e3221a" opacity="0.71"/>
<ellipse cx="242.46" cy="483.29" rx="1.75" ry="1.39" fill="#e3221a" opacity="0.97"/>
<ellipse cx="238.35" cy="480.99" rx="1.82" ry="1.58" fill="#e3221a" opacity="0.82"/>
<ellipse cx="224.23" cy="471.91" rx="1.43" ry="1.42" fill="#400" stroke="#e3221a" stroke-width="1.1"/>
<ellipse cx="237.77" cy="480.25" rx="1.38" ry="1.08" fill="#400" stroke="#e3221a" stroke-width="1.1"/>
<ellipse cx="212.81" cy="473.38" rx="1.94" ry="1.51" fill="#400" stroke="#e3221a" stroke-width="1.1"/>
<ellipse cx="198.1" cy="469.29" rx="1.97" ry="1.15" fill="#e3221a" opacity="0.7"/>
<ellipse cx="210.48" cy="473.04" rx="1.59" ry="1.12" fill="#e3221a" opacity="0.87"/>
<ellipse cx="196.4" cy="470.25" rx="1.22" ry="0.89" fill="#400" stroke="#e3221a" stroke-width="1.1"/>
<ellipse cx="199.85" cy="469.24" rx="2.14" ry="1.97" fill="#400" stroke="#e3221a" stroke-width="1.1"/>
<ellipse cx="211.99" cy="471.55" rx="1.87" ry="1.51" fill="#e3221a" opacity="0.98"/>
<ellipse cx="211.07" cy="471.27" rx="1.78" ry="1.6" fill="#400" stroke="#e3221a" stroke-width="1.1"/>
<ellipse cx="207.91" cy="471.08" rx="2.32" ry="1.9" fill="#e3221a" opacity="0.96"/>
<ellipse cx="208.6" cy="471.28" rx="1.39" ry="1.39" fill="#400" stroke="#e3221a" stroke-width="1.1"/>
<ellipse cx="212.75" cy="472.4" rx="2.18" ry="1.6" fill="#e3221a" opacity="0.65"/>
<ellipse cx="198.51" cy="470.12" rx="1.91" ry="1.87" fill="#e3221a" opacity="0.87"/>
<ellipse cx="197" cy="470.57" rx="2.19" ry="1.84" fill="#400" stroke="#e3221a" stroke-width="1.1"/>
<ellipse cx="200.22" cy="469.76" rx="1.27" ry="1.21" fill="#400" stroke="#e3221a" stroke-width="1.1"/>
<ellipse cx="228.96" cy="423.14" rx="1.36" ry="0.9" fill="#400" stroke="#e3221a" stroke-width="1.1"/>
<ellipse cx="230.1" cy="423.84" rx="2.37" ry="1.85" fill="#e3221a" opacity="0.71"/>
<ellipse cx="224.64" cy="419.21" rx="1.26" ry="1.26" fill="#e3221a" opacity="0.75"/>
<ellipse cx="230.75" cy="424.8" rx="1.79" ry="1.7" fill="#400" stroke="#e3221a" stroke-width="1.1"/>
<ellipse cx="229.44" cy="423.7" rx="2.06" ry="1.59" fill="#e3221a" opacity="0.7"/>
<ellipse cx="230.03" cy="423.2" rx="1.2" ry="0.84" fill="#400" stroke="#e3221a" stroke-width="1.1"/>
<ellipse cx="227.71" cy="422.07" rx="1.53" ry="1.13" fill="#e3221a" opacity="0.66"/>
<ellipse cx="229.3" cy="425.18" rx="1.3" ry="1.21" fill="#e3221a" opacity="0.94"/>
<ellipse cx="226.5" cy="420.35" rx="2.05" ry="1.89" fill="#e3221a" opacity="1"/>
<ellipse cx="230.08" cy="424.11" rx="1.46" ry="1.36" fill="#400" stroke="#e3221a" stroke-width="1.1"/>
<ellipse cx="227.74" cy="422.76" rx="2.3" ry="1.93" fill="#e3221a" opacity="0.96"/>
<ellipse cx="227.68" cy="422.86" rx="1.31" ry="1.13" fill="#400" stroke="#e3221a" stroke-width="1.1"/>
<ellipse cx="227.64" cy="421.09" rx="1.41" ry="1.35" fill="#400" stroke="#e3221a" stroke-width="1.1"/>
</g>
<g filter="url(#soft)">
<ellipse cx="257.96" cy="346.2" rx="1.74" ry="1.69" fill="#400" stroke="#e3221a" stroke-width="1.1"/>
<ellipse cx="250.28" cy="341.15" rx="1.45" ry="0.93" fill="#400" stroke="#e3221a" stroke-width="1.1"/>
<ellipse cx="255.12" cy="344.31" rx="1.51" ry="0.97" fill="#e3221a" opacity="0.75"/>
<ellipse cx="264.95" cy="379.99" rx="1.76" ry="1.45" fill="#e3221a" opacity="0.69"/>
<ellipse cx="258.76" cy="387.4" rx="1.02" ry="0.96" fill="#400" stroke="#e3221a" stroke-width="1.1"/>
<ellipse cx="260.95" cy="385.76" rx="1.63" ry="1.58" fill="#e3221a" opacity="0.89"/>
</g>
<g filter="url(#soft)">
<ellipse cx="189.82" cy="375.14" rx="0.66" ry="0.39" fill="#d8d8d8" stroke="#d8d8d8" stroke-width="1.1"/>
<ellipse cx="188.59" cy="375.17" rx="0.72" ry="0.66" fill="#d8d8d8" stroke="#d8d8d8" stroke-width="1.1"/>
<ellipse cx="187.69" cy="373.55" rx="0.75" ry="0.61" fill="#d8d8d8" stroke="#d8d8d8" stroke-width="1.1"/>
<ellipse cx="233.58" cy="427.65" rx="0.98" ry="0.69" fill="#d8d8d8" stroke="#d8d8d8" stroke-width="1.1"/>
<ellipse cx="235.07" cy="428.6" rx="0.7" ry="0.45" fill="#d8d8d8" stroke="#d8d8d8" stroke-width="1.1"/>
<ellipse cx="235.29" cy="427.79" rx="0.56" ry="0.38" fill="#d8d8d8" stroke="#d8d8d8" stroke-width="1.1"/>
<ellipse cx="208.39" cy="469.84" rx="0.85" ry="0.58" fill="#d8d8d8" stroke="#d8d8d8" stroke-width="1.1"/>
<ellipse cx="208.65" cy="469.89" rx="1.05" ry="0.84" fill="#d8d8d8" stroke="#d8d8d8" stroke-width="1.1"/>
<ellipse cx="209.26" cy="469.59" rx="1.09" ry="0.66" fill="#d8d8d8" stroke="#d8d8d8" stroke-width="1.1"/>
<ellipse cx="250.44" cy="421.23" rx="0.85" ry="0.54" fill="#d8d8d8" stroke="#d8d8d8" stroke-width="1.1"/>
<ellipse cx="250.91" cy="421.16" rx="0.9" ry="0.65" fill="#d8d8d8" stroke="#d8d8d8" stroke-width="1.1"/>
<ellipse cx="250" cy="420.79" rx="0.63" ry="0.59" fill="#d8d8d8" stroke="#d8d8d8" stroke-width="1.1"/>
<ellipse cx="245.12" cy="333.95" rx="0.51" ry="0.37" fill="#d8d8d8" stroke="#d8d8d8" stroke-width="1.1"/>
<ellipse cx="246.95" cy="333.42" rx="0.73" ry="0.55" fill="#d8d8d8" stroke="#d8d8d8" stroke-width="1.1"/>
<ellipse cx="245.38" cy="331.36" rx="0.75" ry="0.68" fill="#d8d8d8" stroke="#d8d8d8" stroke-width="1.1"/>
<ellipse cx="276.93" cy="481.47" rx="1.09" ry="1.04" fill="#d8d8d8" stroke="#d8d8d8" stroke-width="1.1"/>
<ellipse cx="280.83" cy="484.6" rx="1" ry="0.92" fill="#d8d8d8" stroke="#d8d8d8" stroke-width="1.1"/>
<ellipse cx="277.69" cy="483.58" rx="0.75" ry="0.47" fill="#d8d8d8" stroke="#d8d8d8" stroke-width="1.1"/>
</g>
<text x="167.8" y="316.3" font-weight="bold" fill="#fff" stroke="none" font-size="9">g</text>
<text x="301.3" y="317.6" font-size="8.5" text-anchor="end"><tspan fill="#6ad42a" stroke="#6ad42a">Ins </tspan><tspan fill="#ff2a2a" stroke="#ff2a2a">Gcg </tspan><tspan fill="#f0f0f0" stroke="#f0f0f0">Sst</tspan></text>
<text x="169.6" y="401.6" fill="#fff" stroke="none" font-size="8.8">con</text>
<text x="169.2" y="494.2" fill="#fff" stroke="none" font-size="9.2">mut</text>
<line x1="281.5" y1="490.5" x2="293.8" y2="490.5" stroke="#ccc" stroke-width="1.2"/>
<text x="318.8" y="317" font-weight="bold" font-size="9">h</text>
<line x1="344.5" y1="317.9" x2="344.5" y2="477.1" stroke="#000" stroke-width="1.2"/>
<line x1="344" y1="476.5" x2="501.8" y2="476.5" stroke="#000" stroke-width="1.2"/>
<line x1="339.8" y1="364.5" x2="344" y2="364.5" stroke="#000" stroke-width="1"/>
<text x="337.6" y="368" text-anchor="end" font-size="9.2">10</text>
<line x1="339.8" y1="420.5" x2="344" y2="420.5" stroke="#000" stroke-width="1"/>
<text x="337.6" y="423.95" text-anchor="end" font-size="9.2">5</text>
<line x1="339.8" y1="476.5" x2="344" y2="476.5" stroke="#000" stroke-width="1"/>
<text x="337.6" y="479.9" text-anchor="end" font-size="9.2">0</text>
<rect x="352.5" y="475.83" width="15.2" height="0.67" fill="#f2331c" stroke="#111" stroke-width="1.3"/>
<rect x="374.4" y="473.14" width="15.7" height="3.36" fill="#fff" stroke="#111" stroke-width="1.3"/>
<line x1="382.5" y1="473.14" x2="382.5" y2="471.46" stroke="#000" stroke-width="1.3"/>
<line x1="379.25" y1="471.5" x2="385.25" y2="471.5" stroke="#000" stroke-width="1.3"/>
<rect x="405.5" y="469.23" width="15.7" height="7.27" fill="#f2331c" stroke="#111" stroke-width="1.3"/>
<line x1="413.5" y1="469.23" x2="413.5" y2="468.11" stroke="#000" stroke-width="1.3"/>
<line x1="410.35" y1="468.5" x2="416.35" y2="468.5" stroke="#000" stroke-width="1.3"/>
<rect x="428.4" y="449.64" width="15.2" height="26.86" fill="#fff" stroke="#111" stroke-width="1.3"/>
<line x1="436.5" y1="449.64" x2="436.5" y2="444.61" stroke="#000" stroke-width="1.3"/>
<line x1="433" y1="444.5" x2="439" y2="444.5" stroke="#000" stroke-width="1.3"/>
<rect x="458.5" y="451.32" width="15.2" height="25.18" fill="#f2331c" stroke="#111" stroke-width="1.3"/>
<line x1="466.5" y1="451.32" x2="466.5" y2="449.08" stroke="#000" stroke-width="1.3"/>
<line x1="463.1" y1="449.5" x2="469.1" y2="449.5" stroke="#000" stroke-width="1.3"/>
<rect x="481.6" y="390.34" width="14.9" height="86.16" fill="#fff" stroke="#111" stroke-width="1.3"/>
<line x1="489.5" y1="390.34" x2="489.5" y2="376.35" stroke="#000" stroke-width="1.3"/>
<line x1="486.05" y1="376.5" x2="492.05" y2="376.5" stroke="#000" stroke-width="1.3"/>
<circle cx="357.1" cy="475.38" r="1.15" fill="#111"/>
<circle cx="359.1" cy="475.38" r="1.15" fill="#111"/>
<circle cx="361.1" cy="475.38" r="1.15" fill="#111"/>
<circle cx="363.1" cy="475.38" r="1.15" fill="#111"/>
<circle cx="358.1" cy="475.38" r="1.15" fill="#111"/>
<circle cx="379.25" cy="465.31" r="1.15" fill="#111"/>
<circle cx="381.25" cy="465.87" r="1.15" fill="#111"/>
<circle cx="383.25" cy="472.02" r="1.15" fill="#111"/>
<circle cx="385.25" cy="473.14" r="1.15" fill="#111"/>
<circle cx="380.25" cy="474.26" r="1.15" fill="#111"/>
<circle cx="382.25" cy="474.82" r="1.15" fill="#111"/>
<circle cx="384.25" cy="475.38" r="1.15" fill="#111"/>
<circle cx="410.35" cy="463.07" r="1.15" fill="#111"/>
<circle cx="412.35" cy="468.67" r="1.15" fill="#111"/>
<circle cx="414.35" cy="469.79" r="1.15" fill="#111"/>
<circle cx="416.35" cy="472.02" r="1.15" fill="#111"/>
<circle cx="411.35" cy="473.14" r="1.15" fill="#111"/>
<circle cx="413.35" cy="474.26" r="1.15" fill="#111"/>
<circle cx="415.35" cy="474.82" r="1.15" fill="#111"/>
<circle cx="433" cy="425.03" r="1.15" fill="#111"/>
<circle cx="435" cy="423.91" r="1.15" fill="#111"/>
<circle cx="437" cy="442.93" r="1.15" fill="#111"/>
<circle cx="439" cy="444.05" r="1.15" fill="#111"/>
<circle cx="434" cy="447.41" r="1.15" fill="#111"/>
<circle cx="436" cy="451.88" r="1.15" fill="#111"/>
<circle cx="438" cy="456.36" r="1.15" fill="#111"/>
<circle cx="433" cy="459.71" r="1.15" fill="#111"/>
<circle cx="435" cy="463.07" r="1.15" fill="#111"/>
<circle cx="437" cy="466.43" r="1.15" fill="#111"/>
<circle cx="463.1" cy="437.33" r="1.15" fill="#111"/>
<circle cx="465.1" cy="446.29" r="1.15" fill="#111"/>
<circle cx="467.1" cy="448.52" r="1.15" fill="#111"/>
<circle cx="469.1" cy="450.76" r="1.15" fill="#111"/>
<circle cx="464.1" cy="453" r="1.15" fill="#111"/>
<circle cx="466.1" cy="455.24" r="1.15" fill="#111"/>
<circle cx="468.1" cy="457.48" r="1.15" fill="#111"/>
<circle cx="463.1" cy="458.6" r="1.15" fill="#111"/>
<circle cx="486.05" cy="329.91" r="1.15" fill="#111"/>
<circle cx="488.05" cy="333.27" r="1.15" fill="#111"/>
<circle cx="490.05" cy="345.58" r="1.15" fill="#111"/>
<circle cx="492.05" cy="346.7" r="1.15" fill="#111"/>
<circle cx="487.05" cy="355.65" r="1.15" fill="#111"/>
<circle cx="489.05" cy="363.48" r="1.15" fill="#111"/>
<circle cx="491.05" cy="404.88" r="1.15" fill="#111"/>
<circle cx="486.05" cy="423.91" r="1.15" fill="#111"/>
<circle cx="488.05" cy="429.5" r="1.15" fill="#111"/>
<circle cx="490.05" cy="437.33" r="1.15" fill="#111"/>
<circle cx="492.05" cy="442.93" r="1.15" fill="#111"/>
<circle cx="487.05" cy="447.41" r="1.15" fill="#111"/>
<circle cx="489.05" cy="450.76" r="1.15" fill="#111"/>
<line x1="358.8" y1="482.5" x2="395.4" y2="482.5" stroke="#000" stroke-width="0.9"/>
<line x1="414.7" y1="482.5" x2="447.9" y2="482.5" stroke="#000" stroke-width="0.9"/>
<line x1="467.2" y1="482.5" x2="501.8" y2="482.5" stroke="#000" stroke-width="0.9"/>
<text x="380.3" y="493.9" text-anchor="middle" font-size="8.6">G2.8</text>
<text x="430.9" y="493.9" text-anchor="middle" font-size="8.6">G20</text>
<text x="483.3" y="493.9" text-anchor="middle" font-size="8.6">G20K</text>
<text x="322.9" y="414.6" text-anchor="middle" font-size="9.4" transform="rotate(-90 322.9 414.6)">% insulin secretion</text>
<text x="359.8" y="339.4" font-size="8.5">Males, n=7-12</text>
<text x="426.4" y="413" text-anchor="middle" font-size="8.6">p=0.002</text>
<line x1="413.9" y1="418.5" x2="440" y2="418.5" stroke="#000" stroke-width="0.9"/>
<text x="481.3" y="320.6" text-anchor="middle" font-size="8.6">p=0.0002</text>
<line x1="471.7" y1="327.5" x2="498.5" y2="327.5" stroke="#000" stroke-width="0.9"/>
<text x="515.5" y="316.3" font-weight="bold" font-size="9">i</text>
<line x1="529.5" y1="310.5" x2="529.5" y2="477" stroke="#000" stroke-width="1.2"/>
<line x1="529.4" y1="476.5" x2="683.6" y2="476.5" stroke="#000" stroke-width="1.2"/>
<line x1="525.2" y1="359.5" x2="529.4" y2="359.5" stroke="#000" stroke-width="1"/>
<text x="521.6" y="362.6" text-anchor="end" font-size="9.2">10</text>
<line x1="525.2" y1="417.5" x2="529.4" y2="417.5" stroke="#000" stroke-width="1"/>
<text x="521.6" y="421.2" text-anchor="end" font-size="9.2">5</text>
<line x1="525.2" y1="476.5" x2="529.4" y2="476.5" stroke="#000" stroke-width="1"/>
<text x="521.6" y="479.8" text-anchor="end" font-size="9.2">0</text>
<rect x="537" y="475.93" width="14" height="0.47" fill="#f2331c" stroke="#111" stroke-width="1.3"/>
<rect x="558.3" y="470.54" width="14.3" height="5.86" fill="#fff" stroke="#111" stroke-width="1.3"/>
<line x1="565.5" y1="470.54" x2="565.5" y2="469.13" stroke="#000" stroke-width="1.3"/>
<line x1="562.45" y1="469.5" x2="568.45" y2="469.5" stroke="#000" stroke-width="1.3"/>
<rect x="590.2" y="436.43" width="14.2" height="39.97" fill="#f2331c" stroke="#111" stroke-width="1.3"/>
<line x1="597.5" y1="436.43" x2="597.5" y2="429.52" stroke="#000" stroke-width="1.3"/>
<line x1="594.3" y1="429.5" x2="600.3" y2="429.5" stroke="#000" stroke-width="1.3"/>
<rect x="611.8" y="429.52" width="14.2" height="46.88" fill="#fff" stroke="#111" stroke-width="1.3"/>
<line x1="618.5" y1="429.52" x2="618.5" y2="419.56" stroke="#000" stroke-width="1.3"/>
<line x1="615.9" y1="419.5" x2="621.9" y2="419.5" stroke="#000" stroke-width="1.3"/>
<rect x="640.9" y="369.16" width="14.2" height="107.24" fill="#f2331c" stroke="#111" stroke-width="1.3"/>
<line x1="648.5" y1="369.16" x2="648.5" y2="356.86" stroke="#000" stroke-width="1.3"/>
<line x1="645" y1="356.5" x2="651" y2="356.5" stroke="#000" stroke-width="1.3"/>
<rect x="662.2" y="349.24" width="14.3" height="127.16" fill="#fff" stroke="#111" stroke-width="1.3"/>
<line x1="669.5" y1="349.24" x2="669.5" y2="336.93" stroke="#000" stroke-width="1.3"/>
<line x1="666.35" y1="336.5" x2="672.35" y2="336.5" stroke="#000" stroke-width="1.3"/>
<circle cx="541" cy="475.46" r="1.15" fill="#111"/>
<circle cx="543" cy="475.46" r="1.15" fill="#111"/>
<circle cx="545" cy="475.46" r="1.15" fill="#111"/>
<circle cx="547" cy="475.46" r="1.15" fill="#111"/>
<circle cx="542" cy="475.46" r="1.15" fill="#111"/>
<circle cx="562.45" cy="467.02" r="1.15" fill="#111"/>
<circle cx="564.45" cy="468.2" r="1.15" fill="#111"/>
<circle cx="566.45" cy="470.54" r="1.15" fill="#111"/>
<circle cx="568.45" cy="472.88" r="1.15" fill="#111"/>
<circle cx="563.45" cy="474.06" r="1.15" fill="#111"/>
<circle cx="594.3" cy="411.94" r="1.15" fill="#111"/>
<circle cx="596.3" cy="429.52" r="1.15" fill="#111"/>
<circle cx="598.3" cy="440.07" r="1.15" fill="#111"/>
<circle cx="600.3" cy="442.41" r="1.15" fill="#111"/>
<circle cx="595.3" cy="444.76" r="1.15" fill="#111"/>
<circle cx="597.3" cy="447.1" r="1.15" fill="#111"/>
<circle cx="615.9" cy="389.09" r="1.15" fill="#111"/>
<circle cx="617.9" cy="434.21" r="1.15" fill="#111"/>
<circle cx="619.9" cy="431.86" r="1.15" fill="#111"/>
<circle cx="621.9" cy="452.96" r="1.15" fill="#111"/>
<circle cx="645" cy="317.01" r="1.15" fill="#111"/>
<circle cx="647" cy="363.89" r="1.15" fill="#111"/>
<circle cx="649" cy="365.06" r="1.15" fill="#111"/>
<circle cx="651" cy="384.98" r="1.15" fill="#111"/>
<circle cx="646" cy="387.33" r="1.15" fill="#111"/>
<circle cx="648" cy="389.67" r="1.15" fill="#111"/>
<circle cx="666.35" cy="315.25" r="1.15" fill="#111"/>
<circle cx="668.35" cy="332.24" r="1.15" fill="#111"/>
<circle cx="670.35" cy="363.89" r="1.15" fill="#111"/>
<circle cx="672.35" cy="396.7" r="1.15" fill="#111"/>
<line x1="534.7" y1="482.5" x2="572.6" y2="482.5" stroke="#000" stroke-width="0.9"/>
<line x1="592.5" y1="482.5" x2="626" y2="482.5" stroke="#000" stroke-width="0.9"/>
<line x1="643.7" y1="482.5" x2="676.5" y2="482.5" stroke="#000" stroke-width="0.9"/>
<text x="557.4" y="494.3" text-anchor="middle" font-size="8.6">G2.8</text>
<text x="614.1" y="494.3" text-anchor="middle" font-size="8.6">G20</text>
<text x="659.7" y="494.3" text-anchor="middle" font-size="8.6">G20K</text>
<rect x="565.4" y="315.6" width="8.4" height="8.2" fill="#f2331c" stroke="#111" stroke-width="1"/>
<text x="576.8" y="323.6" font-size="8.8">KD</text>
<rect x="595.3" y="315.6" width="8.4" height="8.2" fill="#fff" stroke="#111" stroke-width="1"/>
<text x="606.6" y="323.6" font-size="8.8">Con</text>
<text x="536" y="339.1" font-size="8.5">Females, n=6</text>
<text x="551.7" y="452.5" text-anchor="middle" font-size="8.6">p=0.003</text>
<line x1="542.7" y1="459.5" x2="565.4" y2="459.5" stroke="#000" stroke-width="0.9"/>
<clipPath id="jt00"><rect x="0.9" y="506.8" width="104.1" height="80.7"/></clipPath>
<rect x="0.9" y="506.8" width="104.1" height="80.7" fill="#020202"/>
<g clip-path="url(#jt00)">
<g filter="url(#blur2)">
<ellipse cx="67.9" cy="547.8" rx="36" ry="36" fill="none" stroke="#121212" stroke-width="6"/>
<ellipse cx="67.9" cy="547.8" rx="30" ry="30" fill="#121212" opacity="0.6"/>
<ellipse cx="10.9" cy="546.8" rx="8" ry="40" fill="#121212"/>
</g>
<rect x="0.9" y="506.8" width="104.1" height="80.7" fill="#000" filter="url(#jnoise)"/>
<path d="M38.9 526.7 C40.88 526.7 42.68 531.98 42.32 533.96 C41.96 535.72 35.84 535.72 35.48 533.96 C35.12 531.98 36.92 526.7 38.9 526.7 Z" fill="#373737" filter="url(#blur1)"/>
<ellipse cx="39.2" cy="545.1" rx="4.6" ry="3.9" fill="#3c3c3c" transform="rotate(0 39.2 545.1)" filter="url(#blur1)"/>
<ellipse cx="38.2" cy="557.3" rx="3.8" ry="3.3" fill="#373737" transform="rotate(0 38.2 557.3)" filter="url(#blur1)"/>
<ellipse cx="37.5" cy="572.8" rx="3.3" ry="3.6" fill="#4b4b4b" transform="rotate(0 37.5 572.8)" filter="url(#blur1)"/>
<ellipse cx="14.9" cy="543.8" rx="3" ry="4" fill="#232323" transform="rotate(0 14.9 543.8)" filter="url(#blur1)"/>
<ellipse cx="95.9" cy="546.8" rx="3" ry="4.5" fill="#262626" transform="rotate(0 95.9 546.8)" filter="url(#blur1)"/>
</g>
<text x="100.8" y="583.2" text-anchor="end" fill="#fff" stroke="none" font-size="8.6">0 m</text>
<clipPath id="jt10"><rect x="107.2" y="506.8" width="103.6" height="80.7"/></clipPath>
<rect x="107.2" y="506.8" width="103.6" height="80.7" fill="#020202"/>
<g clip-path="url(#jt10)">
<g filter="url(#blur2)">
<ellipse cx="174.2" cy="547.8" rx="36" ry="36" fill="none" stroke="#121212" stroke-width="6"/>
<ellipse cx="174.2" cy="547.8" rx="30" ry="30" fill="#121212" opacity="0.6"/>
<ellipse cx="117.2" cy="546.8" rx="8" ry="40" fill="#121212"/>
</g>
<rect x="107.2" y="506.8" width="103.6" height="80.7" fill="#000" filter="url(#jnoise)"/>
<path d="M145.2 526.7 C147.18 526.7 148.98 531.98 148.62 533.96 C148.26 535.72 142.14 535.72 141.78 533.96 C141.42 531.98 143.22 526.7 145.2 526.7 Z" fill="#464646" filter="url(#blur1)"/>
<ellipse cx="145.5" cy="545.1" rx="4.6" ry="3.9" fill="#484848" transform="rotate(0 145.5 545.1)" filter="url(#blur1)"/>
<ellipse cx="144.5" cy="557.3" rx="3.8" ry="3.3" fill="#444444" transform="rotate(0 144.5 557.3)" filter="url(#blur1)"/>
<ellipse cx="143.8" cy="572.8" rx="3.3" ry="3.6" fill="#555555" transform="rotate(0 143.8 572.8)" filter="url(#blur1)"/>
<ellipse cx="121.2" cy="543.8" rx="3" ry="4" fill="#282828" transform="rotate(0 121.2 543.8)" filter="url(#blur1)"/>
<ellipse cx="202.2" cy="546.8" rx="3" ry="4.5" fill="#2a2a2a" transform="rotate(0 202.2 546.8)" filter="url(#blur1)"/>
</g>
<text x="206.6" y="583.2" text-anchor="end" fill="#fff" stroke="none" font-size="8.6">4 m</text>
<clipPath id="jt20"><rect x="213" y="506.8" width="103.8" height="80.7"/></clipPath>
<rect x="213" y="506.8" width="103.8" height="80.7" fill="#020202"/>
<g clip-path="url(#jt20)">
<g filter="url(#blur2)">
<ellipse cx="280" cy="547.8" rx="36" ry="36" fill="none" stroke="#121212" stroke-width="6"/>
<ellipse cx="280" cy="547.8" rx="30" ry="30" fill="#121212" opacity="0.6"/>
<ellipse cx="223" cy="546.8" rx="8" ry="40" fill="#121212"/>
</g>
<rect x="213" y="506.8" width="103.8" height="80.7" fill="#000" filter="url(#jnoise)"/>
<path d="M251 526.5 C253.03 526.5 254.88 532.02 254.51 534.09 C254.15 535.93 247.85 535.93 247.49 534.09 C247.12 532.02 248.97 526.5 251 526.5 Z" fill="#cdcdcd" filter="url(#blur1)"/>
<ellipse cx="251.3" cy="545.1" rx="4.8" ry="4.1" fill="#f5f5f5" transform="rotate(0 251.3 545.1)" filter="url(#blur1)"/>
<ellipse cx="250.3" cy="557.3" rx="3.9" ry="3.4" fill="#c8c8c8" transform="rotate(0 250.3 557.3)" filter="url(#blur1)"/>
<ellipse cx="249.6" cy="572.8" rx="3.2" ry="3.7" fill="#555555" transform="rotate(0 249.6 572.8)" filter="url(#blur1)"/>
<ellipse cx="227" cy="543.8" rx="3" ry="4" fill="#262626" transform="rotate(0 227 543.8)" filter="url(#blur1)"/>
<ellipse cx="308" cy="546.8" rx="3" ry="4.5" fill="#2d2d2d" transform="rotate(0 308 546.8)" filter="url(#blur1)"/>
</g>
<text x="312.6" y="583.2" text-anchor="end" fill="#fff" stroke="none" font-size="8.6">6 m</text>
<clipPath id="jt01"><rect x="0.9" y="592.8" width="104.1" height="80.9"/></clipPath>
<rect x="0.9" y="592.8" width="104.1" height="80.9" fill="#020202"/>
<g clip-path="url(#jt01)">
<g filter="url(#blur2)">
<ellipse cx="67.9" cy="633.8" rx="36" ry="36" fill="none" stroke="#141414" stroke-width="6"/>
<ellipse cx="67.9" cy="633.8" rx="30" ry="30" fill="#141414" opacity="0.6"/>
<ellipse cx="10.9" cy="632.8" rx="8" ry="40" fill="#141414"/>
</g>
<rect x="0.9" y="592.8" width="104.1" height="80.9" fill="#000" filter="url(#jnoise)"/>
<path d="M13.1 602.5 C15.19 602.5 17.09 607.3 16.71 609.1 C16.33 610.7 9.87 610.7 9.49 609.1 C9.11 607.3 11.01 602.5 13.1 602.5 Z" fill="#7d7d7d" filter="url(#blur1)"/>
<ellipse cx="14.9" cy="628.7" rx="4.6" ry="3.5" fill="#f5f5f5" transform="rotate(0 14.9 628.7)" filter="url(#blur1)"/>
<ellipse cx="17.9" cy="620.8" rx="2" ry="3.5" fill="#787878" transform="rotate(0 17.9 620.8)" filter="url(#blur1)"/>
<ellipse cx="19.9" cy="635.8" rx="2" ry="3" fill="#505050" transform="rotate(0 19.9 635.8)" filter="url(#blur1)"/>
<path d="M38.7 611.2 C40.95 611.2 43 617.08 42.59 619.28 C42.18 621.24 35.21 621.24 34.8 619.28 C34.39 617.08 36.44 611.2 38.7 611.2 Z" fill="#afafaf" filter="url(#blur1)"/>
<ellipse cx="39.2" cy="629.5" rx="5" ry="4.4" fill="#f0f0f0" transform="rotate(0 39.2 629.5)" filter="url(#blur1)"/>
<ellipse cx="38.2" cy="641.1" rx="4.1" ry="3.6" fill="#e1e1e1" transform="rotate(0 38.2 641.1)" filter="url(#blur1)"/>
<ellipse cx="37.5" cy="656.9" rx="3.4" ry="4.4" fill="#fcfcfc" transform="rotate(0 37.5 656.9)" filter="url(#blur1)"/>
<ellipse cx="94.9" cy="632.8" rx="3.2" ry="4.2" fill="#c3c3c3" transform="rotate(0 94.9 632.8)" filter="url(#blur1)"/>
</g>
<text x="100.8" y="669.4" text-anchor="end" fill="#fff" stroke="none" font-size="8.6">8 m</text>
<clipPath id="jt11"><rect x="107.2" y="592.8" width="103.6" height="80.9"/></clipPath>
<rect x="107.2" y="592.8" width="103.6" height="80.9" fill="#020202"/>
<g clip-path="url(#jt11)">
<g filter="url(#blur2)">
<ellipse cx="174.2" cy="633.8" rx="36" ry="36" fill="none" stroke="#141414" stroke-width="6"/>
<ellipse cx="174.2" cy="633.8" rx="30" ry="30" fill="#141414" opacity="0.6"/>
<ellipse cx="117.2" cy="632.8" rx="8" ry="40" fill="#141414"/>
</g>
<rect x="107.2" y="592.8" width="103.6" height="80.9" fill="#000" filter="url(#jnoise)"/>
<path d="M119.2 602.2 C121.18 602.2 122.98 606.76 122.62 608.47 C122.26 609.99 116.14 609.99 115.78 608.47 C115.42 606.76 117.22 602.2 119.2 602.2 Z" fill="#7d7d7d" filter="url(#blur1)"/>
<ellipse cx="121.7" cy="628.4" rx="4.3" ry="3.3" fill="#f0f0f0" transform="rotate(0 121.7 628.4)" filter="url(#blur1)"/>
<ellipse cx="124.1" cy="623.6" rx="2.5" ry="2.8" fill="#a5a5a5" transform="rotate(0 124.1 623.6)" filter="url(#blur1)"/>
<ellipse cx="126.2" cy="634.8" rx="2" ry="3" fill="#505050" transform="rotate(0 126.2 634.8)" filter="url(#blur1)"/>
<path d="M144.1 612.6 C146.19 612.6 148.09 618.12 147.71 620.19 C147.33 622.03 140.87 622.03 140.49 620.19 C140.11 618.12 142.01 612.6 144.1 612.6 Z" fill="#b9b9b9" filter="url(#blur1)"/>
<ellipse cx="144.9" cy="629.2" rx="4.6" ry="3.9" fill="#f0f0f0" transform="rotate(0 144.9 629.2)" filter="url(#blur1)"/>
<ellipse cx="143.3" cy="641.3" rx="3.4" ry="3.3" fill="#cdcdcd" transform="rotate(0 143.3 641.3)" filter="url(#blur1)"/>
<ellipse cx="143" cy="657" rx="3.3" ry="3.9" fill="#fcfcfc" transform="rotate(0 143 657)" filter="url(#blur1)"/>
<ellipse cx="201.2" cy="632.5" rx="3.1" ry="4.2" fill="#c3c3c3" transform="rotate(0 201.2 632.5)" filter="url(#blur1)"/>
</g>
<text x="206.6" y="669.4" text-anchor="end" fill="#fff" stroke="none" font-size="8.6">15 m</text>
<line x1="113.8" y1="642.2" x2="118.4" y2="635.2" stroke="#fff" stroke-width="1"/>
<path d="M118.4 635.2 L118.01 638.17 L115.83 636.74 Z" fill="#fff"/>
<line x1="156" y1="618.9" x2="150.6" y2="626.3" stroke="#fff" stroke-width="1"/>
<path d="M150.6 626.3 L151.14 623.35 L153.25 624.89 Z" fill="#fff"/>
<line x1="157.7" y1="649.4" x2="148.2" y2="654.4" stroke="#fff" stroke-width="1"/>
<path d="M148.2 654.4 L149.98 651.99 L151.2 654.3 Z" fill="#fff"/>
<text x="4.6" y="517.4" font-weight="bold" fill="#fff" stroke="none" font-size="9">j</text>
<text x="59.5" y="518.4" fill="#fff" stroke="none" font-size="8.3">GCaMP6</text>
<rect x="213" y="592.8" width="103.8" height="80.9" fill="#0a0000"/>
<clipPath id="jt21"><rect x="213" y="592.8" width="103.8" height="80.9"/></clipPath>
<g clip-path="url(#jt21)">
<clipPath id="cl6"><path d="M308.9 636 C308.95 640 309.82 641.92 308.54 645.69 C307.25 649.45 305.2 651.4 302.46 654.84 C299.73 658.28 298.02 660.78 294.88 662.9 C291.75 665.02 290.44 664.25 286.78 665.43 C283.12 666.61 280.58 668.5 276.6 668.82 C272.62 669.14 270.6 668.58 266.9 667.03 C263.19 665.48 261.55 663.37 258.08 661.09 C254.62 658.8 252.11 658.66 249.57 655.61 C247.03 652.56 246.2 649.76 245.39 645.84 C244.59 641.92 245.41 640.04 245.54 636 C245.68 631.96 245.29 629.32 246.06 625.66 C246.84 621.99 247.1 620.82 249.42 617.66 C251.75 614.51 254.18 612.52 257.7 609.89 C261.21 607.26 263.23 605.47 267.01 604.51 C270.79 603.55 272.61 605.06 276.6 605.09 C280.59 605.11 283.22 603.68 286.93 604.61 C290.64 605.55 292.13 607.15 295.14 609.77 C298.15 612.39 299.34 614.54 301.97 617.72 C304.6 620.89 306.88 622.01 308.27 625.67 C309.66 629.32 308.85 632 308.9 636Z"/></clipPath>
<g clip-path="url(#cl6)">
<path d="M308.9 636 C308.95 640 309.82 641.92 308.54 645.69 C307.25 649.45 305.2 651.4 302.46 654.84 C299.73 658.28 298.02 660.78 294.88 662.9 C291.75 665.02 290.44 664.25 286.78 665.43 C283.12 666.61 280.58 668.5 276.6 668.82 C272.62 669.14 270.6 668.58 266.9 667.03 C263.19 665.48 261.55 663.37 258.08 661.09 C254.62 658.8 252.11 658.66 249.57 655.61 C247.03 652.56 246.2 649.76 245.39 645.84 C244.59 641.92 245.41 640.04 245.54 636 C245.68 631.96 245.29 629.32 246.06 625.66 C246.84 621.99 247.1 620.82 249.42 617.66 C251.75 614.51 254.18 612.52 257.7 609.89 C261.21 607.26 263.23 605.47 267.01 604.51 C270.79 603.55 272.61 605.06 276.6 605.09 C280.59 605.11 283.22 603.68 286.93 604.61 C290.64 605.55 292.13 607.15 295.14 609.77 C298.15 612.39 299.34 614.54 301.97 617.72 C304.6 620.89 306.88 622.01 308.27 625.67 C309.66 629.32 308.85 632 308.9 636Z" fill="#f8260e"/>
<rect x="243.39" y="602.51" width="67.51" height="68.31" fill="#000" filter="url(#mottle2)"/>
<rect x="243.39" y="602.51" width="67.51" height="68.31" fill="#000" filter="url(#holes2)"/>
<g fill="#1a0000" filter="url(#nblur)" opacity="0.8">
<ellipse cx="269.59" cy="619.35" rx="1.31" ry="1.73"/>
<ellipse cx="255.94" cy="663.28" rx="1.4" ry="1.07"/>
<ellipse cx="282.1" cy="648.89" rx="1.41" ry="1.47"/>
<ellipse cx="280.52" cy="629.18" rx="1.81" ry="1.72"/>
<ellipse cx="291.86" cy="641.58" rx="1.57" ry="1.6"/>
<ellipse cx="298.69" cy="632.77" rx="1.42" ry="1.25"/>
<ellipse cx="255.24" cy="614.15" rx="1.46" ry="1.23"/>
<ellipse cx="291.32" cy="615.28" rx="1.46" ry="1.46"/>
<ellipse cx="249.17" cy="654.95" rx="1.46" ry="1.44"/>
<ellipse cx="291.51" cy="651.61" rx="1.86" ry="1.79"/>
<ellipse cx="289.14" cy="667.54" rx="1.67" ry="1.55"/>
<ellipse cx="248.79" cy="624.95" rx="1.15" ry="1.17"/>
<ellipse cx="254.66" cy="647.45" rx="1.86" ry="1.64"/>
<ellipse cx="271.25" cy="647.17" rx="1.41" ry="1.52"/>
<ellipse cx="279.67" cy="661.13" rx="1.72" ry="1.56"/>
<ellipse cx="300.94" cy="652.83" rx="1.52" ry="1.7"/>
<ellipse cx="299.27" cy="666.36" rx="1.08" ry="1.23"/>
<ellipse cx="260.75" cy="632.64" rx="1.57" ry="1.58"/>
<ellipse cx="271.47" cy="633.45" rx="1.76" ry="1.37"/>
<ellipse cx="306.84" cy="622.26" rx="1.7" ry="1.68"/>
<ellipse cx="266.08" cy="663.97" rx="1.4" ry="1.61"/>
<ellipse cx="297.59" cy="606.43" rx="1.37" ry="1.49"/>
<ellipse cx="249.95" cy="637.3" rx="1.59" ry="1.85"/>
<ellipse cx="283.13" cy="619.5" rx="2.09" ry="1.97"/>
<ellipse cx="262.6" cy="606.04" rx="1.34" ry="1.68"/>
<ellipse cx="308.89" cy="647.58" rx="1.34" ry="1.56"/>
<ellipse cx="274.44" cy="609.8" rx="1.64" ry="1.47"/>
<ellipse cx="246.43" cy="665.44" rx="1.38" ry="1.34"/>
<ellipse cx="285.46" cy="606.69" rx="1.26" ry="1.35"/>
<ellipse cx="308.3" cy="636.14" rx="1.42" ry="1.37"/>
<ellipse cx="307.61" cy="606.58" rx="1.75" ry="1.72"/>
<ellipse cx="245.47" cy="606.9" rx="0.99" ry="1.24"/>
<ellipse cx="264.64" cy="654.37" rx="1.39" ry="1.25"/>
<ellipse cx="292.06" cy="625.33" rx="1.22" ry="1.29"/>
<ellipse cx="259.62" cy="622.26" rx="1.35" ry="1.26"/>
</g>
</g>
<clipPath id="cl7"><path d="M213 592.8 C216.8 583.36 224 590.36 228 592.8 C232 595.24 231.5 598.56 233 605 C234.5 611.44 235.1 617 235.5 625 C235.9 633 235.7 637.6 235 645 C234.3 652.4 233.2 656.2 232 662 C230.8 667.8 232.8 671.6 229 674 C225.2 676.4 217 680.8 213 674 C209 667.2 209 656.24 209 640 C209 623.76 209.2 602.24 213 592.8Z"/></clipPath>
<g clip-path="url(#cl7)">
<path d="M213 592.8 C216.8 583.36 224 590.36 228 592.8 C232 595.24 231.5 598.56 233 605 C234.5 611.44 235.1 617 235.5 625 C235.9 633 235.7 637.6 235 645 C234.3 652.4 233.2 656.2 232 662 C230.8 667.8 232.8 671.6 229 674 C225.2 676.4 217 680.8 213 674 C209 667.2 209 656.24 209 640 C209 623.76 209.2 602.24 213 592.8Z" fill="#f8260e"/>
<rect x="207" y="590.8" width="30.5" height="85.2" fill="#000" filter="url(#mottle2)"/>
<rect x="207" y="590.8" width="30.5" height="85.2" fill="#000" filter="url(#holes2)"/>
<g fill="#1a0000" filter="url(#nblur)" opacity="0.8">
<ellipse cx="225.94" cy="594.83" rx="1.73" ry="1.62"/>
<ellipse cx="216.29" cy="610.92" rx="1.46" ry="1.73"/>
<ellipse cx="228.52" cy="647.75" rx="1.18" ry="1.21"/>
<ellipse cx="214.79" cy="633.83" rx="1.82" ry="1.63"/>
<ellipse cx="226.22" cy="637.05" rx="1.09" ry="1.03"/>
<ellipse cx="234.37" cy="620.13" rx="1.33" ry="1.62"/>
<ellipse cx="211.46" cy="600.65" rx="1.72" ry="1.72"/>
<ellipse cx="223.21" cy="671.82" rx="1.1" ry="1.46"/>
<ellipse cx="213.54" cy="652.01" rx="1.15" ry="1.3"/>
<ellipse cx="213.33" cy="623.61" rx="1.49" ry="1.55"/>
<ellipse cx="226.37" cy="624.93" rx="1.69" ry="1.67"/>
<ellipse cx="235.43" cy="634.17" rx="1.2" ry="1.19"/>
<ellipse cx="234.73" cy="662.7" rx="1.2" ry="1.47"/>
<ellipse cx="225.14" cy="605.21" rx="1.2" ry="1.33"/>
<ellipse cx="209.52" cy="668.24" rx="1.05" ry="1.31"/>
<ellipse cx="221.53" cy="656.51" rx="1.24" ry="1.21"/>
<ellipse cx="235.08" cy="600.79" rx="1.82" ry="1.9"/>
<ellipse cx="234.37" cy="673.63" rx="1.71" ry="1.97"/>
<ellipse cx="225.81" cy="614.24" rx="1.21" ry="1.39"/>
<ellipse cx="219.98" cy="643.94" rx="1.79" ry="1.91"/>
</g>
</g>
<clipPath id="cl8"><path d="M313 628 C314.4 625 316.2 623.6 318 626 C319.8 628.4 322 634 322 640 C322 646 319.8 653.2 318 656 C316.2 658.8 314.4 657 313 654 C311.6 651 311 646.2 311 641 C311 635.8 311.6 631 313 628Z"/></clipPath>
<g clip-path="url(#cl8)">
<path d="M313 628 C314.4 625 316.2 623.6 318 626 C319.8 628.4 322 634 322 640 C322 646 319.8 653.2 318 656 C316.2 658.8 314.4 657 313 654 C311.6 651 311 646.2 311 641 C311 635.8 311.6 631 313 628Z" fill="#f0260e"/>
<rect x="309" y="624" width="15" height="34" fill="#000" filter="url(#mottle2)"/>
<rect x="309" y="624" width="15" height="34" fill="#000" filter="url(#holes2)"/>
<g fill="#1a0000" filter="url(#nblur)" opacity="0.8">
<ellipse cx="311.42" cy="646.89" rx="1.7" ry="1.26"/>
<ellipse cx="315.77" cy="631.29" rx="1.01" ry="1.2"/>
<ellipse cx="320.36" cy="650.61" rx="1.3" ry="1.38"/>
</g>
</g>
<g filter="url(#blur1)">
<path d="M257 609 C262 606 268 607 274 611 M263 608 C264 618 261 626 264 640 M264 622 C268 624 272 624 276 621" fill="none" stroke="#1a0000" stroke-width="3.2"/>
<ellipse cx="226.6" cy="606.6" rx="3" ry="3.5" fill="#3acc2a"/>
<ellipse cx="228.5" cy="628.4" rx="4" ry="3.5" fill="#30f020"/>
<ellipse cx="250.9" cy="617.5" rx="3.6" ry="4.5" fill="#a8d830"/>
<ellipse cx="251.5" cy="630.1" rx="5.2" ry="3.6" fill="#30f020"/>
<ellipse cx="250.3" cy="641.6" rx="3.6" ry="2.8" fill="#b8e040"/>
<ellipse cx="249.3" cy="656.8" rx="3.1" ry="3.9" fill="#b8f030"/>
<ellipse cx="305.7" cy="632.6" rx="3.9" ry="5" fill="#40e030"/>
</g>
</g>
<text x="266.8" y="601.8" font-size="8.3"><tspan fill="#40ee30" stroke="#40ee30">GCaMP6 </tspan><tspan fill="#ff2020" stroke="#ff2020">tdT</tspan></text>
<line x1="269.3" y1="671.5" x2="282.6" y2="671.5" stroke="#bbb" stroke-width="1.2"/>
<text x="325.8" y="516.1" font-weight="bold" font-size="9">k</text>
<text x="363.7" y="515.3" font-size="8.1">n=129-161, p=0.007</text>
<line x1="354.2" y1="528.5" x2="374" y2="528.5" stroke="#000" stroke-width="1.3"/>
<text x="364" y="526.6" text-anchor="middle" font-size="8.4">G1</text>
<line x1="375.2" y1="524.5" x2="532.4" y2="524.5" stroke="#000" stroke-width="1.3"/>
<text x="456.4" y="522.6" text-anchor="middle" font-size="8.4">G11</text>
<line x1="354.5" y1="531.5" x2="354.5" y2="646.6" stroke="#000" stroke-width="1.2"/>
<line x1="354" y1="646.5" x2="535.4" y2="646.5" stroke="#000" stroke-width="1.2"/>
<line x1="354.5" y1="646.5" x2="357.2" y2="646.5" stroke="#000" stroke-width="0.8"/>
<text x="350.7" y="649.3" text-anchor="end" font-size="8.6">0</text>
<line x1="354.5" y1="630.5" x2="357.2" y2="630.5" stroke="#000" stroke-width="0.8"/>
<text x="350.7" y="633.76" text-anchor="end" font-size="8.6">2</text>
<line x1="354.5" y1="615.5" x2="357.2" y2="615.5" stroke="#000" stroke-width="0.8"/>
<text x="350.7" y="618.22" text-anchor="end" font-size="8.6">4</text>
<line x1="354.5" y1="599.5" x2="357.2" y2="599.5" stroke="#000" stroke-width="0.8"/>
<text x="350.7" y="602.68" text-anchor="end" font-size="8.6">6</text>
<line x1="354.5" y1="583.5" x2="357.2" y2="583.5" stroke="#000" stroke-width="0.8"/>
<text x="350.7" y="587.14" text-anchor="end" font-size="8.6">8</text>
<line x1="354.5" y1="568.5" x2="357.2" y2="568.5" stroke="#000" stroke-width="0.8"/>
<text x="350.7" y="571.6" text-anchor="end" font-size="8.6">10</text>
<line x1="354.5" y1="552.5" x2="357.2" y2="552.5" stroke="#000" stroke-width="0.8"/>
<text x="350.7" y="556.06" text-anchor="end" font-size="8.6">12</text>
<line x1="354.5" y1="537.5" x2="357.2" y2="537.5" stroke="#000" stroke-width="0.8"/>
<text x="350.7" y="540.52" text-anchor="end" font-size="8.6">14</text>
<line x1="354.5" y1="646.1" x2="354.5" y2="643.9" stroke="#000" stroke-width="0.7"/>
<line x1="364.5" y1="646.1" x2="364.5" y2="643.9" stroke="#000" stroke-width="0.7"/>
<line x1="374.5" y1="646.1" x2="374.5" y2="643.9" stroke="#000" stroke-width="0.7"/>
<line x1="384.5" y1="646.1" x2="384.5" y2="643.9" stroke="#000" stroke-width="0.7"/>
<line x1="394.5" y1="646.1" x2="394.5" y2="643.9" stroke="#000" stroke-width="0.7"/>
<line x1="404.5" y1="646.1" x2="404.5" y2="643.9" stroke="#000" stroke-width="0.7"/>
<line x1="414.5" y1="646.1" x2="414.5" y2="643.9" stroke="#000" stroke-width="0.7"/>
<line x1="423.5" y1="646.1" x2="423.5" y2="643.9" stroke="#000" stroke-width="0.7"/>
<line x1="433.5" y1="646.1" x2="433.5" y2="643.9" stroke="#000" stroke-width="0.7"/>
<line x1="443.5" y1="646.1" x2="443.5" y2="643.9" stroke="#000" stroke-width="0.7"/>
<line x1="453.5" y1="646.1" x2="453.5" y2="643.9" stroke="#000" stroke-width="0.7"/>
<line x1="463.5" y1="646.1" x2="463.5" y2="643.9" stroke="#000" stroke-width="0.7"/>
<line x1="473.5" y1="646.1" x2="473.5" y2="643.9" stroke="#000" stroke-width="0.7"/>
<line x1="483.5" y1="646.1" x2="483.5" y2="643.9" stroke="#000" stroke-width="0.7"/>
<line x1="493.5" y1="646.1" x2="493.5" y2="643.9" stroke="#000" stroke-width="0.7"/>
<line x1="503.5" y1="646.1" x2="503.5" y2="643.9" stroke="#000" stroke-width="0.7"/>
<line x1="513.5" y1="646.1" x2="513.5" y2="643.9" stroke="#000" stroke-width="0.7"/>
<line x1="523.5" y1="646.1" x2="523.5" y2="643.9" stroke="#000" stroke-width="0.7"/>
<line x1="533.5" y1="646.1" x2="533.5" y2="643.9" stroke="#000" stroke-width="0.7"/>
<text x="353.6" y="658.5" text-anchor="middle" font-size="8.6">-2</text>
<text x="375.2" y="658.5" text-anchor="middle" font-size="8.6">0</text>
<text x="397.6" y="658.5" text-anchor="middle" font-size="8.6">2</text>
<text x="413.4" y="658.5" text-anchor="middle" font-size="8.6">4</text>
<text x="433.8" y="658.5" text-anchor="middle" font-size="8.6">6</text>
<text x="454.1" y="658.5" text-anchor="middle" font-size="8.6">8</text>
<text x="474.6" y="658.5" text-anchor="middle" font-size="8.6">10</text>
<text x="493.2" y="658.5" text-anchor="middle" font-size="8.6">12</text>
<text x="511.3" y="658.5" text-anchor="middle" font-size="8.6">14</text>
<text x="518.3" y="658.5" font-size="8.6">(min)</text>
<text x="333.9" y="590.2" text-anchor="middle" font-size="8.2" transform="rotate(-90 333.9 590.2)">Relative GCaMP6-intensity</text>
<text x="368.8" y="669.7" font-size="8.2">Time before/after glucose stimulation</text>
<path d="M354.44 639.11 L374.3 637.55 L394.16 634.45 L414.02 624.34 L423.95 612.69 L433.88 602.59 L443.81 588.6 L449.77 578.5 L453.74 568.4 L456.72 553.64 L460.69 545.09 L466.15 536.54 L472.21 534.99 L480.15 533.82 L488.5 535.77 L500.31 536.93 L508.36 539.65 L516.3 540.43 L523.25 542.76 L532.19 545.87 L532.19 554.41 L522.26 551.31 L516.3 548.98 L506.27 548.2 L500.31 546.1 L492.17 545.48 L484.23 543.15 L480.15 544.31 L472.21 545.09 L466.15 547.42 L460.1 554.41 L457.12 561.41 L454.14 574.23 L449.77 583.94 L445.8 589.38 L439.84 598.7 L435.87 603.37 L432.09 608.42 L425.14 613.7 L421.57 618.9 L412.93 626.83 L402.3 632.89 L393.56 635.92 L384.23 637.16 L374.3 638.17 L364.37 638.87 L354.44 639.57Z" fill="#cfcfcf"/>
<path d="M354.44 638.64 L364.37 637.94 L374.3 637.24 L384.23 636.31 L394.16 634.68 L404.09 631.03 L414.02 625.35 L419.98 619.68 L428.92 610.79 L435.87 604.38 L441.82 600.49 L448.08 594.43 L454.14 582.31 L460.1 572.36 L470.22 569.33 L478.17 568.94 L490.18 571.35 L504.28 572.36 L516.3 572.36 L522.26 574.46 L532.19 575.94 L532.19 581.69 L522.26 580.21 L516.3 578.11 L504.28 578.11 L490.18 577.1 L478.17 574.69 L470.22 575.08 L460.1 578.11 L454.14 588.06 L448.08 600.18 L441.82 606.24 L435.87 610.12 L428.92 616.15 L419.98 624.34 L414.02 629.55 L404.09 634.45 L394.16 637.32 L384.23 638.17 L374.3 639.11 L364.37 639.81 L354.44 640.51Z" fill="#c4c4c4" stroke="#b0b0b0" stroke-width="0.5"/>
<path d="M354.44 639.57 C355.76 639.48 361.72 639.06 364.37 638.87 C367.02 638.69 371.65 638.39 374.3 638.17 C376.95 637.96 381.58 637.53 384.23 637.24 C386.88 636.95 391.51 636.6 394.16 636 C396.81 635.4 401.44 633.88 404.09 632.74 C406.74 631.6 411.9 628.88 414.02 627.45 C416.14 626.02 417.99 623.88 419.98 622.01 C421.96 620.15 426.8 615.43 428.92 613.47 C431.03 611.5 434.14 608.6 435.87 607.25 C437.59 605.9 440.2 604.69 441.82 603.37 C443.45 602.04 446.44 599.73 448.08 597.3 C449.72 594.88 452.54 588.13 454.14 585.18 C455.74 582.24 457.95 576.97 460.1 575.24 C462.24 573.51 467.81 572.66 470.22 572.21 C472.63 571.75 475.51 571.55 478.17 571.82 C480.83 572.09 486.7 573.77 490.18 574.23 C493.67 574.68 500.8 575.1 504.28 575.24 C507.77 575.37 513.9 574.96 516.3 575.24 C518.7 575.52 520.14 576.86 522.26 577.34 C524.38 577.81 530.86 578.61 532.19 578.81" fill="none" stroke="#7a7a7a" stroke-width="0.8"/>
<path d="M354.44 638.64 L364.37 637.94 L374.3 637.24 L384.23 636.23 L393.56 634.62 L402.3 631.25 L412.93 624.78 L421.57 616.51 L425.14 611.17 L432.09 605.61 L435.87 600.49 L439.84 595.83 L445.8 586.5 L445.8 592.25 L439.84 601.58 L435.87 606.24 L432.09 611.22 L425.14 616.23 L421.57 621.3 L412.93 628.89 L402.3 634.53 L393.56 637.22 L384.23 638.1 L374.3 639.11 L364.37 639.81 L354.44 640.51Z" fill="#cacaca"/>
<path d="M354.44 639.57 C355.76 639.48 361.72 639.06 364.37 638.87 C367.02 638.69 371.65 638.4 374.3 638.17 C376.95 637.95 381.66 637.46 384.23 637.16 C386.8 636.86 391.15 636.49 393.56 635.92 C395.97 635.35 399.72 634.1 402.3 632.89 C404.88 631.68 410.36 628.7 412.93 626.83 C415.5 624.97 419.94 620.66 421.57 618.9 C423.2 617.15 423.74 615.1 425.14 613.7 C426.55 612.3 430.66 609.79 432.09 608.42 C433.52 607.04 434.83 604.66 435.87 603.37 C436.9 602.07 438.51 600.57 439.84 598.7 C441.16 596.84 444.47 591.35 445.8 589.38 C447.12 587.41 448.66 585.96 449.77 583.94 C450.88 581.92 453.16 577.23 454.14 574.23 C455.12 571.22 456.32 564.05 457.12 561.41 C457.91 558.77 458.89 556.28 460.1 554.41 C461.3 552.55 464.54 548.66 466.15 547.42 C467.77 546.18 470.34 545.5 472.21 545.09 C474.08 544.68 478.55 544.57 480.15 544.31 C481.76 544.05 482.62 542.99 484.23 543.15 C485.83 543.3 490.02 545.08 492.17 545.48 C494.31 545.87 498.43 545.74 500.31 546.1 C502.19 546.46 504.14 547.81 506.27 548.2 C508.4 548.58 514.17 548.56 516.3 548.98 C518.43 549.39 520.14 550.58 522.26 551.31 C524.38 552.03 530.86 554 532.19 554.41" fill="none" stroke="#ee2a2a" stroke-width="1.1"/>
<text x="513.2" y="536.8" font-size="8.6">tdT+</text>
<text x="508.6" y="592.2" font-size="8.6">tdT-</text>
<text x="566.2" y="515.9" font-weight="bold" font-size="9">l</text>
<line x1="600.5" y1="509.2" x2="600.5" y2="733.9" stroke="#000" stroke-width="1.3"/>
<line x1="596.5" y1="733.5" x2="675.9" y2="733.5" stroke="#000" stroke-width="1.3"/>
<line x1="596.6" y1="733.5" x2="600.8" y2="733.5" stroke="#000" stroke-width="1.2"/>
<line x1="596.6" y1="708.5" x2="600.8" y2="708.5" stroke="#000" stroke-width="1.2"/>
<line x1="596.6" y1="684.5" x2="600.8" y2="684.5" stroke="#000" stroke-width="1.2"/>
<line x1="596.6" y1="659.5" x2="600.8" y2="659.5" stroke="#000" stroke-width="1.2"/>
<line x1="596.6" y1="634.5" x2="600.8" y2="634.5" stroke="#000" stroke-width="1.2"/>
<line x1="596.6" y1="610.5" x2="600.8" y2="610.5" stroke="#000" stroke-width="1.2"/>
<line x1="596.6" y1="584.5" x2="600.8" y2="584.5" stroke="#000" stroke-width="1.2"/>
<line x1="596.6" y1="551.5" x2="600.8" y2="551.5" stroke="#000" stroke-width="1.2"/>
<line x1="596.6" y1="524.5" x2="600.8" y2="524.5" stroke="#000" stroke-width="1.2"/>
<line x1="598.3" y1="721.5" x2="600.8" y2="721.5" stroke="#000" stroke-width="1.1"/>
<line x1="598.3" y1="696.5" x2="600.8" y2="696.5" stroke="#000" stroke-width="1.1"/>
<line x1="598.3" y1="671.5" x2="600.8" y2="671.5" stroke="#000" stroke-width="1.1"/>
<line x1="598.3" y1="647.5" x2="600.8" y2="647.5" stroke="#000" stroke-width="1.1"/>
<line x1="598.3" y1="622.5" x2="600.8" y2="622.5" stroke="#000" stroke-width="1.1"/>
<line x1="598.3" y1="597.5" x2="600.8" y2="597.5" stroke="#000" stroke-width="1.1"/>
<line x1="598.3" y1="572.5" x2="600.8" y2="572.5" stroke="#000" stroke-width="1.1"/>
<line x1="598.3" y1="563.5" x2="600.8" y2="563.5" stroke="#000" stroke-width="1.1"/>
<line x1="598.3" y1="536.5" x2="600.8" y2="536.5" stroke="#000" stroke-width="1.1"/>
<line x1="598.3" y1="511.5" x2="600.8" y2="511.5" stroke="#000" stroke-width="1.1"/>
<text x="594" y="529.9" text-anchor="end" font-size="8.4">150</text>
<text x="594" y="551.8" text-anchor="end" font-size="8.4">100</text>
<text x="594" y="589" text-anchor="end" font-size="8.4">70</text>
<text x="594" y="613.4" text-anchor="end" font-size="8.4">50</text>
<text x="594" y="638.1" text-anchor="end" font-size="8.4">40</text>
<text x="594" y="662.8" text-anchor="end" font-size="8.4">30</text>
<text x="594" y="687.2" text-anchor="end" font-size="8.4">20</text>
<text x="594" y="711.7" text-anchor="end" font-size="8.4">10</text>
<text x="594" y="736.4" text-anchor="end" font-size="8.4">0</text>
<line x1="594.6" y1="540.2" x2="608.4" y2="547.5" stroke="#000" stroke-width="1.3"/>
<line x1="595" y1="565.1" x2="609.9" y2="573.3" stroke="#000" stroke-width="1.3"/>
<text x="575.3" y="626.3" text-anchor="middle" font-size="9.6" transform="rotate(-90 575.3 626.3)">quantified AUC from from panel K</text>
<rect x="613.3" y="696.37" width="23.3" height="36.93" fill="#f2331c" stroke="#111" stroke-width="1.4"/>
<rect x="649.4" y="705.48" width="23.2" height="27.82" fill="#b2b2b2" stroke="#111" stroke-width="1.4"/>
<line x1="624.5" y1="696.37" x2="624.5" y2="692.68" stroke="#000" stroke-width="1.2"/>
<line x1="621.5" y1="692.5" x2="628.4" y2="692.5" stroke="#000" stroke-width="1.2"/>
<line x1="661.5" y1="705.48" x2="661.5" y2="703.51" stroke="#000" stroke-width="1.2"/>
<line x1="657.5" y1="703.5" x2="664.5" y2="703.5" stroke="#000" stroke-width="1.2"/>
<rect x="624.45" y="692.05" width="1" height="1" fill="#111"/>
<rect x="626.35" y="691.57" width="1" height="1" fill="#111"/>
<rect x="622.55" y="691.89" width="1" height="1" fill="#111"/>
<rect x="628.25" y="692.62" width="1" height="1" fill="#111"/>
<rect x="620.65" y="692.25" width="1" height="1" fill="#111"/>
<rect x="630.15" y="691.45" width="1" height="1" fill="#111"/>
<rect x="618.75" y="691.48" width="1" height="1" fill="#111"/>
<rect x="632.05" y="693.32" width="1" height="1" fill="#111"/>
<rect x="616.85" y="692.89" width="1" height="1" fill="#111"/>
<rect x="625.4" y="685.17" width="1" height="1" fill="#111"/>
<rect x="627.3" y="684.75" width="1" height="1" fill="#111"/>
<rect x="623.5" y="685.42" width="1" height="1" fill="#111"/>
<rect x="629.2" y="685.03" width="1" height="1" fill="#111"/>
<rect x="621.6" y="683.96" width="1" height="1" fill="#111"/>
<rect x="631.1" y="684.02" width="1" height="1" fill="#111"/>
<rect x="624.45" y="711.69" width="1" height="1" fill="#111"/>
<rect x="626.35" y="712.99" width="1" height="1" fill="#111"/>
<rect x="622.55" y="711.42" width="1" height="1" fill="#111"/>
<rect x="628.25" y="712.09" width="1" height="1" fill="#111"/>
<rect x="620.65" y="712.31" width="1" height="1" fill="#111"/>
<rect x="630.15" y="711.87" width="1" height="1" fill="#111"/>
<rect x="618.75" y="711.99" width="1" height="1" fill="#111"/>
<rect x="632.05" y="712.08" width="1" height="1" fill="#111"/>
<rect x="616.85" y="713.03" width="1" height="1" fill="#111"/>
<rect x="625.4" y="697.21" width="1" height="1" fill="#111"/>
<rect x="627.3" y="696.57" width="1" height="1" fill="#111"/>
<rect x="623.5" y="697.32" width="1" height="1" fill="#111"/>
<rect x="629.2" y="695.79" width="1" height="1" fill="#111"/>
<rect x="621.6" y="695.46" width="1" height="1" fill="#111"/>
<rect x="631.1" y="696.44" width="1" height="1" fill="#111"/>
<rect x="619.7" y="696.42" width="1" height="1" fill="#111"/>
<rect x="633" y="696.6" width="1" height="1" fill="#111"/>
<rect x="617.8" y="697.11" width="1" height="1" fill="#111"/>
<rect x="634.9" y="695.6" width="1" height="1" fill="#111"/>
<rect x="615.9" y="696.34" width="1" height="1" fill="#111"/>
<rect x="622.53" y="697.32" width="1" height="1" fill="#111"/>
<rect x="625.4" y="679.83" width="1" height="1" fill="#111"/>
<rect x="627.3" y="681.05" width="1" height="1" fill="#111"/>
<rect x="623.5" y="681.25" width="1" height="1" fill="#111"/>
<rect x="629.2" y="681.28" width="1" height="1" fill="#111"/>
<rect x="621.6" y="680.52" width="1" height="1" fill="#111"/>
<rect x="631.1" y="680.79" width="1" height="1" fill="#111"/>
<rect x="619.7" y="681.03" width="1" height="1" fill="#111"/>
<rect x="633" y="681.1" width="1" height="1" fill="#111"/>
<rect x="624.45" y="716.37" width="1" height="1" fill="#111"/>
<rect x="626.35" y="716.91" width="1" height="1" fill="#111"/>
<rect x="622.55" y="716.57" width="1" height="1" fill="#111"/>
<rect x="628.25" y="716.64" width="1" height="1" fill="#111"/>
<rect x="620.65" y="716.52" width="1" height="1" fill="#111"/>
<rect x="625.4" y="702.33" width="1" height="1" fill="#111"/>
<rect x="627.3" y="701.78" width="1" height="1" fill="#111"/>
<rect x="623.5" y="701.62" width="1" height="1" fill="#111"/>
<rect x="629.2" y="702.35" width="1" height="1" fill="#111"/>
<rect x="621.6" y="701.93" width="1" height="1" fill="#111"/>
<rect x="631.1" y="701.37" width="1" height="1" fill="#111"/>
<rect x="619.7" y="702.44" width="1" height="1" fill="#111"/>
<rect x="633" y="701.65" width="1" height="1" fill="#111"/>
<rect x="617.8" y="702.56" width="1" height="1" fill="#111"/>
<rect x="634.9" y="702.41" width="1" height="1" fill="#111"/>
<rect x="615.9" y="702.48" width="1" height="1" fill="#111"/>
<rect x="628.46" y="701.81" width="1" height="1" fill="#111"/>
<rect x="614" y="701.68" width="1" height="1" fill="#111"/>
<rect x="629.23" y="703.24" width="1" height="1" fill="#111"/>
<rect x="624.97" y="701.32" width="1" height="1" fill="#111"/>
<rect x="615.59" y="702.39" width="1" height="1" fill="#111"/>
<rect x="624.45" y="689.7" width="1" height="1" fill="#111"/>
<rect x="626.35" y="689.5" width="1" height="1" fill="#111"/>
<rect x="622.55" y="690.85" width="1" height="1" fill="#111"/>
<rect x="628.25" y="690.31" width="1" height="1" fill="#111"/>
<rect x="620.65" y="689.72" width="1" height="1" fill="#111"/>
<rect x="630.15" y="690.98" width="1" height="1" fill="#111"/>
<rect x="618.75" y="690.02" width="1" height="1" fill="#111"/>
<rect x="624.45" y="706.19" width="1" height="1" fill="#111"/>
<rect x="626.35" y="705.67" width="1" height="1" fill="#111"/>
<rect x="622.55" y="706.13" width="1" height="1" fill="#111"/>
<rect x="628.25" y="705.61" width="1" height="1" fill="#111"/>
<rect x="620.65" y="705.34" width="1" height="1" fill="#111"/>
<rect x="630.15" y="707.02" width="1" height="1" fill="#111"/>
<rect x="618.75" y="705.86" width="1" height="1" fill="#111"/>
<rect x="632.05" y="705.76" width="1" height="1" fill="#111"/>
<rect x="616.85" y="705.77" width="1" height="1" fill="#111"/>
<rect x="625.4" y="704.5" width="1" height="1" fill="#111"/>
<rect x="627.3" y="704.11" width="1" height="1" fill="#111"/>
<rect x="623.5" y="704.23" width="1" height="1" fill="#111"/>
<rect x="629.2" y="703.85" width="1" height="1" fill="#111"/>
<rect x="621.6" y="704.75" width="1" height="1" fill="#111"/>
<rect x="631.1" y="703.48" width="1" height="1" fill="#111"/>
<rect x="624.45" y="699.5" width="1" height="1" fill="#111"/>
<rect x="626.35" y="699.6" width="1" height="1" fill="#111"/>
<rect x="622.55" y="700.67" width="1" height="1" fill="#111"/>
<rect x="628.25" y="700.37" width="1" height="1" fill="#111"/>
<rect x="620.65" y="701.07" width="1" height="1" fill="#111"/>
<rect x="630.15" y="699.93" width="1" height="1" fill="#111"/>
<rect x="618.75" y="699.82" width="1" height="1" fill="#111"/>
<rect x="632.05" y="699.85" width="1" height="1" fill="#111"/>
<rect x="616.85" y="700.46" width="1" height="1" fill="#111"/>
<rect x="633.95" y="699.5" width="1" height="1" fill="#111"/>
<rect x="614.95" y="699.82" width="1" height="1" fill="#111"/>
<rect x="624.45" y="710.98" width="1" height="1" fill="#111"/>
<rect x="626.35" y="710.15" width="1" height="1" fill="#111"/>
<rect x="622.55" y="710.62" width="1" height="1" fill="#111"/>
<rect x="628.25" y="709.62" width="1" height="1" fill="#111"/>
<rect x="620.65" y="710.04" width="1" height="1" fill="#111"/>
<rect x="630.15" y="709.84" width="1" height="1" fill="#111"/>
<rect x="618.75" y="710.94" width="1" height="1" fill="#111"/>
<rect x="632.05" y="710.54" width="1" height="1" fill="#111"/>
<rect x="616.85" y="711.03" width="1" height="1" fill="#111"/>
<rect x="625.4" y="698.28" width="1" height="1" fill="#111"/>
<rect x="627.3" y="698.78" width="1" height="1" fill="#111"/>
<rect x="623.5" y="698.03" width="1" height="1" fill="#111"/>
<rect x="629.2" y="698.22" width="1" height="1" fill="#111"/>
<rect x="621.6" y="698.96" width="1" height="1" fill="#111"/>
<rect x="631.1" y="698.73" width="1" height="1" fill="#111"/>
<rect x="619.7" y="698.23" width="1" height="1" fill="#111"/>
<rect x="633" y="698.83" width="1" height="1" fill="#111"/>
<rect x="617.8" y="697.92" width="1" height="1" fill="#111"/>
<rect x="634.9" y="698.59" width="1" height="1" fill="#111"/>
<rect x="625.4" y="714.54" width="1" height="1" fill="#111"/>
<rect x="627.3" y="714.45" width="1" height="1" fill="#111"/>
<rect x="623.5" y="714.08" width="1" height="1" fill="#111"/>
<rect x="629.2" y="714.26" width="1" height="1" fill="#111"/>
<rect x="621.6" y="713.79" width="1" height="1" fill="#111"/>
<rect x="631.1" y="714.59" width="1" height="1" fill="#111"/>
<rect x="625.4" y="708.38" width="1" height="1" fill="#111"/>
<rect x="627.3" y="709.02" width="1" height="1" fill="#111"/>
<rect x="623.5" y="707.31" width="1" height="1" fill="#111"/>
<rect x="629.2" y="708.65" width="1" height="1" fill="#111"/>
<rect x="621.6" y="708.24" width="1" height="1" fill="#111"/>
<rect x="631.1" y="708.87" width="1" height="1" fill="#111"/>
<rect x="619.7" y="707.37" width="1" height="1" fill="#111"/>
<rect x="633" y="708.88" width="1" height="1" fill="#111"/>
<rect x="617.8" y="707.54" width="1" height="1" fill="#111"/>
<rect x="634.9" y="708.36" width="1" height="1" fill="#111"/>
<rect x="624.45" y="688.73" width="1" height="1" fill="#111"/>
<rect x="626.35" y="689.37" width="1" height="1" fill="#111"/>
<rect x="622.55" y="687.84" width="1" height="1" fill="#111"/>
<rect x="628.25" y="689.26" width="1" height="1" fill="#111"/>
<rect x="620.65" y="688.27" width="1" height="1" fill="#111"/>
<rect x="630.15" y="688.04" width="1" height="1" fill="#111"/>
<rect x="618.75" y="687.75" width="1" height="1" fill="#111"/>
<rect x="625.4" y="682.51" width="1" height="1" fill="#111"/>
<rect x="627.3" y="682.11" width="1" height="1" fill="#111"/>
<rect x="623.5" y="681.98" width="1" height="1" fill="#111"/>
<rect x="629.2" y="682.25" width="1" height="1" fill="#111"/>
<rect x="624.45" y="717.55" width="1" height="1" fill="#111"/>
<rect x="626.35" y="718.78" width="1" height="1" fill="#111"/>
<rect x="622.55" y="718.98" width="1" height="1" fill="#111"/>
<rect x="628.25" y="717.13" width="1" height="1" fill="#111"/>
<rect x="620.65" y="717.5" width="1" height="1" fill="#111"/>
<rect x="624.45" y="675.42" width="1" height="1" fill="#111"/>
<rect x="624.45" y="723.73" width="1" height="1" fill="#111"/>
<rect x="626.35" y="723.74" width="1" height="1" fill="#111"/>
<rect x="622.55" y="724.41" width="1" height="1" fill="#111"/>
<rect x="625.4" y="720.13" width="1" height="1" fill="#111"/>
<rect x="627.3" y="719.58" width="1" height="1" fill="#111"/>
<rect x="624.45" y="678.32" width="1" height="1" fill="#111"/>
<rect x="626.35" y="678.13" width="1" height="1" fill="#111"/>
<rect x="622.55" y="678.64" width="1" height="1" fill="#111"/>
<rect x="624.45" y="731.32" width="1" height="1" fill="#111"/>
<rect x="626.35" y="731.32" width="1" height="1" fill="#111"/>
<rect x="622.55" y="731.2" width="1" height="1" fill="#111"/>
<rect x="624.45" y="722.23" width="1" height="1" fill="#111"/>
<rect x="626.35" y="721.21" width="1" height="1" fill="#111"/>
<rect x="622.55" y="722.43" width="1" height="1" fill="#111"/>
<rect x="628.25" y="721.41" width="1" height="1" fill="#111"/>
<rect x="620.65" y="721.68" width="1" height="1" fill="#111"/>
<rect x="624.45" y="694.94" width="1" height="1" fill="#111"/>
<rect x="626.35" y="695.23" width="1" height="1" fill="#111"/>
<rect x="622.55" y="694.46" width="1" height="1" fill="#111"/>
<rect x="628.25" y="694.97" width="1" height="1" fill="#111"/>
<rect x="620.65" y="693.58" width="1" height="1" fill="#111"/>
<rect x="625.4" y="676.07" width="1" height="1" fill="#111"/>
<rect x="627.3" y="676.17" width="1" height="1" fill="#111"/>
<rect x="625.4" y="672.48" width="1" height="1" fill="#111"/>
<rect x="627.3" y="673.71" width="1" height="1" fill="#111"/>
<rect x="625.4" y="669.68" width="1" height="1" fill="#111"/>
<rect x="627.3" y="668.79" width="1" height="1" fill="#111"/>
<rect x="625.4" y="728.83" width="1" height="1" fill="#111"/>
<rect x="627.3" y="727.29" width="1" height="1" fill="#111"/>
<rect x="624.45" y="685.73" width="1" height="1" fill="#111"/>
<rect x="624.45" y="619.55" width="1" height="1" fill="#111"/>
<rect x="624.45" y="622.01" width="1" height="1" fill="#111"/>
<rect x="624.45" y="626.93" width="1" height="1" fill="#111"/>
<rect x="624.45" y="629.4" width="1" height="1" fill="#111"/>
<rect x="624.45" y="644.17" width="1" height="1" fill="#111"/>
<rect x="624.45" y="661.4" width="1" height="1" fill="#111"/>
<rect x="624.45" y="663.86" width="1" height="1" fill="#111"/>
<rect x="624.45" y="666.33" width="1" height="1" fill="#111"/>
<rect x="624.45" y="671.25" width="1" height="1" fill="#111"/>
<rect x="661.45" y="704.1" width="1" height="1" fill="#111"/>
<rect x="663.35" y="703.66" width="1" height="1" fill="#111"/>
<rect x="659.55" y="704.31" width="1" height="1" fill="#111"/>
<rect x="665.25" y="703.54" width="1" height="1" fill="#111"/>
<rect x="657.65" y="704.83" width="1" height="1" fill="#111"/>
<rect x="667.15" y="703.41" width="1" height="1" fill="#111"/>
<rect x="655.75" y="703.51" width="1" height="1" fill="#111"/>
<rect x="669.05" y="703.97" width="1" height="1" fill="#111"/>
<rect x="653.85" y="703.82" width="1" height="1" fill="#111"/>
<rect x="670.95" y="703.29" width="1" height="1" fill="#111"/>
<rect x="651.95" y="704.09" width="1" height="1" fill="#111"/>
<rect x="667.37" y="704.24" width="1" height="1" fill="#111"/>
<rect x="661.45" y="713.93" width="1" height="1" fill="#111"/>
<rect x="663.35" y="714.44" width="1" height="1" fill="#111"/>
<rect x="659.55" y="713.98" width="1" height="1" fill="#111"/>
<rect x="665.25" y="713.11" width="1" height="1" fill="#111"/>
<rect x="657.65" y="714.43" width="1" height="1" fill="#111"/>
<rect x="667.15" y="713.84" width="1" height="1" fill="#111"/>
<rect x="655.75" y="714.69" width="1" height="1" fill="#111"/>
<rect x="669.05" y="714.43" width="1" height="1" fill="#111"/>
<rect x="653.85" y="713.27" width="1" height="1" fill="#111"/>
<rect x="670.95" y="713.54" width="1" height="1" fill="#111"/>
<rect x="651.95" y="714.42" width="1" height="1" fill="#111"/>
<rect x="654.49" y="714.11" width="1" height="1" fill="#111"/>
<rect x="650.05" y="713.13" width="1" height="1" fill="#111"/>
<rect x="650.85" y="713.44" width="1" height="1" fill="#111"/>
<rect x="660.5" y="701.09" width="1" height="1" fill="#111"/>
<rect x="662.4" y="699.76" width="1" height="1" fill="#111"/>
<rect x="658.6" y="699.37" width="1" height="1" fill="#111"/>
<rect x="664.3" y="699.98" width="1" height="1" fill="#111"/>
<rect x="656.7" y="700.76" width="1" height="1" fill="#111"/>
<rect x="666.2" y="701.28" width="1" height="1" fill="#111"/>
<rect x="654.8" y="700.52" width="1" height="1" fill="#111"/>
<rect x="668.1" y="699.41" width="1" height="1" fill="#111"/>
<rect x="652.9" y="700.56" width="1" height="1" fill="#111"/>
<rect x="670" y="700.36" width="1" height="1" fill="#111"/>
<rect x="651" y="701.19" width="1" height="1" fill="#111"/>
<rect x="661.45" y="712.12" width="1" height="1" fill="#111"/>
<rect x="663.35" y="713.01" width="1" height="1" fill="#111"/>
<rect x="659.55" y="712" width="1" height="1" fill="#111"/>
<rect x="665.25" y="711.55" width="1" height="1" fill="#111"/>
<rect x="657.65" y="711.27" width="1" height="1" fill="#111"/>
<rect x="667.15" y="711.36" width="1" height="1" fill="#111"/>
<rect x="661.45" y="720.31" width="1" height="1" fill="#111"/>
<rect x="663.35" y="720.35" width="1" height="1" fill="#111"/>
<rect x="659.55" y="720.83" width="1" height="1" fill="#111"/>
<rect x="665.25" y="719.42" width="1" height="1" fill="#111"/>
<rect x="657.65" y="719.71" width="1" height="1" fill="#111"/>
<rect x="667.15" y="720.48" width="1" height="1" fill="#111"/>
<rect x="655.75" y="720.21" width="1" height="1" fill="#111"/>
<rect x="669.05" y="720.92" width="1" height="1" fill="#111"/>
<rect x="660.5" y="707.21" width="1" height="1" fill="#111"/>
<rect x="662.4" y="708.49" width="1" height="1" fill="#111"/>
<rect x="658.6" y="709.14" width="1" height="1" fill="#111"/>
<rect x="664.3" y="708.39" width="1" height="1" fill="#111"/>
<rect x="656.7" y="708.48" width="1" height="1" fill="#111"/>
<rect x="666.2" y="708.41" width="1" height="1" fill="#111"/>
<rect x="654.8" y="708.1" width="1" height="1" fill="#111"/>
<rect x="668.1" y="708.36" width="1" height="1" fill="#111"/>
<rect x="652.9" y="707.52" width="1" height="1" fill="#111"/>
<rect x="670" y="709" width="1" height="1" fill="#111"/>
<rect x="651" y="707.49" width="1" height="1" fill="#111"/>
<rect x="657.4" y="708.72" width="1" height="1" fill="#111"/>
<rect x="661.18" y="708.2" width="1" height="1" fill="#111"/>
<rect x="663.19" y="707.57" width="1" height="1" fill="#111"/>
<rect x="653.66" y="707.29" width="1" height="1" fill="#111"/>
<rect x="664.9" y="708.17" width="1" height="1" fill="#111"/>
<rect x="660.37" y="707.41" width="1" height="1" fill="#111"/>
<rect x="661.45" y="702.38" width="1" height="1" fill="#111"/>
<rect x="663.35" y="702.56" width="1" height="1" fill="#111"/>
<rect x="659.55" y="703.2" width="1" height="1" fill="#111"/>
<rect x="665.25" y="702.52" width="1" height="1" fill="#111"/>
<rect x="657.65" y="701.35" width="1" height="1" fill="#111"/>
<rect x="667.15" y="702.81" width="1" height="1" fill="#111"/>
<rect x="655.75" y="701.86" width="1" height="1" fill="#111"/>
<rect x="669.05" y="702.79" width="1" height="1" fill="#111"/>
<rect x="653.85" y="701.85" width="1" height="1" fill="#111"/>
<rect x="670.95" y="702.84" width="1" height="1" fill="#111"/>
<rect x="651.95" y="701.72" width="1" height="1" fill="#111"/>
<rect x="653.4" y="702.79" width="1" height="1" fill="#111"/>
<rect x="660.5" y="717.1" width="1" height="1" fill="#111"/>
<rect x="662.4" y="718.47" width="1" height="1" fill="#111"/>
<rect x="658.6" y="717.4" width="1" height="1" fill="#111"/>
<rect x="664.3" y="718.64" width="1" height="1" fill="#111"/>
<rect x="656.7" y="717.27" width="1" height="1" fill="#111"/>
<rect x="666.2" y="717.97" width="1" height="1" fill="#111"/>
<rect x="654.8" y="718.73" width="1" height="1" fill="#111"/>
<rect x="660.5" y="709.63" width="1" height="1" fill="#111"/>
<rect x="662.4" y="710.46" width="1" height="1" fill="#111"/>
<rect x="658.6" y="711.02" width="1" height="1" fill="#111"/>
<rect x="664.3" y="710.38" width="1" height="1" fill="#111"/>
<rect x="656.7" y="709.76" width="1" height="1" fill="#111"/>
<rect x="666.2" y="709.35" width="1" height="1" fill="#111"/>
<rect x="654.8" y="710.85" width="1" height="1" fill="#111"/>
<rect x="668.1" y="710.25" width="1" height="1" fill="#111"/>
<rect x="652.9" y="709.37" width="1" height="1" fill="#111"/>
<rect x="670" y="709.54" width="1" height="1" fill="#111"/>
<rect x="651" y="709.95" width="1" height="1" fill="#111"/>
<rect x="661.45" y="729.11" width="1" height="1" fill="#111"/>
<rect x="663.35" y="729.11" width="1" height="1" fill="#111"/>
<rect x="660.5" y="691.69" width="1" height="1" fill="#111"/>
<rect x="662.4" y="692.73" width="1" height="1" fill="#111"/>
<rect x="658.6" y="693.36" width="1" height="1" fill="#111"/>
<rect x="664.3" y="691.79" width="1" height="1" fill="#111"/>
<rect x="656.7" y="692.9" width="1" height="1" fill="#111"/>
<rect x="666.2" y="693.05" width="1" height="1" fill="#111"/>
<rect x="654.8" y="692.75" width="1" height="1" fill="#111"/>
<rect x="661.45" y="689.05" width="1" height="1" fill="#111"/>
<rect x="663.35" y="688.09" width="1" height="1" fill="#111"/>
<rect x="660.5" y="697.14" width="1" height="1" fill="#111"/>
<rect x="662.4" y="696.18" width="1" height="1" fill="#111"/>
<rect x="658.6" y="696.55" width="1" height="1" fill="#111"/>
<rect x="664.3" y="697.35" width="1" height="1" fill="#111"/>
<rect x="656.7" y="696.77" width="1" height="1" fill="#111"/>
<rect x="666.2" y="695.89" width="1" height="1" fill="#111"/>
<rect x="654.8" y="696.79" width="1" height="1" fill="#111"/>
<rect x="668.1" y="697.01" width="1" height="1" fill="#111"/>
<rect x="652.9" y="695.96" width="1" height="1" fill="#111"/>
<rect x="670" y="697.14" width="1" height="1" fill="#111"/>
<rect x="651" y="695.4" width="1" height="1" fill="#111"/>
<rect x="660.5" y="676.51" width="1" height="1" fill="#111"/>
<rect x="662.4" y="676.17" width="1" height="1" fill="#111"/>
<rect x="658.6" y="677.4" width="1" height="1" fill="#111"/>
<rect x="660.5" y="689.55" width="1" height="1" fill="#111"/>
<rect x="662.4" y="690.43" width="1" height="1" fill="#111"/>
<rect x="658.6" y="690.31" width="1" height="1" fill="#111"/>
<rect x="660.5" y="698.31" width="1" height="1" fill="#111"/>
<rect x="662.4" y="698.89" width="1" height="1" fill="#111"/>
<rect x="658.6" y="698.5" width="1" height="1" fill="#111"/>
<rect x="664.3" y="698.05" width="1" height="1" fill="#111"/>
<rect x="656.7" y="697.82" width="1" height="1" fill="#111"/>
<rect x="661.45" y="706.23" width="1" height="1" fill="#111"/>
<rect x="663.35" y="706.64" width="1" height="1" fill="#111"/>
<rect x="659.55" y="706.09" width="1" height="1" fill="#111"/>
<rect x="665.25" y="706.25" width="1" height="1" fill="#111"/>
<rect x="657.65" y="705.75" width="1" height="1" fill="#111"/>
<rect x="667.15" y="707.03" width="1" height="1" fill="#111"/>
<rect x="655.75" y="705.46" width="1" height="1" fill="#111"/>
<rect x="669.05" y="706.32" width="1" height="1" fill="#111"/>
<rect x="653.85" y="705.41" width="1" height="1" fill="#111"/>
<rect x="670.95" y="705.55" width="1" height="1" fill="#111"/>
<rect x="660.5" y="715.98" width="1" height="1" fill="#111"/>
<rect x="662.4" y="716.14" width="1" height="1" fill="#111"/>
<rect x="658.6" y="715.19" width="1" height="1" fill="#111"/>
<rect x="664.3" y="716.9" width="1" height="1" fill="#111"/>
<rect x="656.7" y="715.64" width="1" height="1" fill="#111"/>
<rect x="666.2" y="715.14" width="1" height="1" fill="#111"/>
<rect x="654.8" y="716.09" width="1" height="1" fill="#111"/>
<rect x="661.45" y="722.43" width="1" height="1" fill="#111"/>
<rect x="663.35" y="722.18" width="1" height="1" fill="#111"/>
<rect x="661.45" y="725.34" width="1" height="1" fill="#111"/>
<rect x="663.35" y="725.18" width="1" height="1" fill="#111"/>
<rect x="659.55" y="725.96" width="1" height="1" fill="#111"/>
<rect x="665.25" y="726.24" width="1" height="1" fill="#111"/>
<rect x="661.45" y="726.99" width="1" height="1" fill="#111"/>
<rect x="663.35" y="728.47" width="1" height="1" fill="#111"/>
<rect x="661.45" y="723.75" width="1" height="1" fill="#111"/>
<rect x="663.35" y="724.81" width="1" height="1" fill="#111"/>
<rect x="661.45" y="683.36" width="1" height="1" fill="#111"/>
<rect x="663.35" y="682.94" width="1" height="1" fill="#111"/>
<rect x="659.55" y="681.99" width="1" height="1" fill="#111"/>
<rect x="665.25" y="682.33" width="1" height="1" fill="#111"/>
<rect x="660.5" y="694.6" width="1" height="1" fill="#111"/>
<rect x="662.4" y="693.91" width="1" height="1" fill="#111"/>
<rect x="658.6" y="693.8" width="1" height="1" fill="#111"/>
<rect x="664.3" y="694.55" width="1" height="1" fill="#111"/>
<rect x="656.7" y="693.69" width="1" height="1" fill="#111"/>
<rect x="666.2" y="694.91" width="1" height="1" fill="#111"/>
<rect x="654.8" y="695.01" width="1" height="1" fill="#111"/>
<rect x="661.45" y="686.37" width="1" height="1" fill="#111"/>
<rect x="663.35" y="686.5" width="1" height="1" fill="#111"/>
<rect x="659.55" y="687.38" width="1" height="1" fill="#111"/>
<rect x="665.25" y="687.09" width="1" height="1" fill="#111"/>
<rect x="660.5" y="650.32" width="1" height="1" fill="#111"/>
<rect x="660.5" y="656.48" width="1" height="1" fill="#111"/>
<rect x="660.5" y="681.1" width="1" height="1" fill="#111"/>
<rect x="624.8" y="526.4" width="0.9" height="0.9" fill="#111"/>
<rect x="624.8" y="559.5" width="0.9" height="0.9" fill="#111"/>
<rect x="624.8" y="583.1" width="0.9" height="0.9" fill="#111"/>
<text x="639.9" y="515" text-anchor="middle" font-size="8.6">p=0.008</text>
<line x1="624.1" y1="521.5" x2="662" y2="521.5" stroke="#000" stroke-width="1"/>
<text x="3.8" y="689" font-weight="bold" font-size="9.2">m</text>
<line x1="45.9" y1="684.5" x2="66.2" y2="684.5" stroke="#000" stroke-width="1.1"/>
<text x="58.5" y="683.6" text-anchor="middle" font-size="8.4">G1</text>
<line x1="69.3" y1="684.5" x2="199.1" y2="684.5" stroke="#000" stroke-width="1.1"/>
<text x="141.9" y="683.6" text-anchor="middle" font-size="8.4">G11</text>
<line x1="45.5" y1="686.2" x2="45.5" y2="809.6" stroke="#000" stroke-width="1.2"/>
<line x1="44.5" y1="809.5" x2="204.2" y2="809.5" stroke="#000" stroke-width="1.2"/>
<line x1="45" y1="809.5" x2="48" y2="809.5" stroke="#000" stroke-width="0.8"/>
<line x1="45" y1="796.5" x2="47" y2="796.5" stroke="#000" stroke-width="0.8"/>
<line x1="45" y1="783.5" x2="48" y2="783.5" stroke="#000" stroke-width="0.8"/>
<line x1="45" y1="770.5" x2="47" y2="770.5" stroke="#000" stroke-width="0.8"/>
<line x1="45" y1="757.5" x2="48" y2="757.5" stroke="#000" stroke-width="0.8"/>
<line x1="45" y1="744.5" x2="47" y2="744.5" stroke="#000" stroke-width="0.8"/>
<line x1="45" y1="731.5" x2="48" y2="731.5" stroke="#000" stroke-width="0.8"/>
<line x1="45" y1="718.5" x2="47" y2="718.5" stroke="#000" stroke-width="0.8"/>
<line x1="45" y1="705.5" x2="48" y2="705.5" stroke="#000" stroke-width="0.8"/>
<text x="40.2" y="812.3" text-anchor="end" font-size="8.4">0.9</text>
<text x="40.2" y="786.3" text-anchor="end" font-size="8.4">1.0</text>
<text x="40.2" y="760.3" text-anchor="end" font-size="8.4">1.1</text>
<text x="40.2" y="734.3" text-anchor="end" font-size="8.4">1.2</text>
<text x="40.2" y="708.3" text-anchor="end" font-size="8.4">1.3</text>
<line x1="46.5" y1="809" x2="46.5" y2="806.8" stroke="#000" stroke-width="0.7"/>
<line x1="56.5" y1="809" x2="56.5" y2="806.8" stroke="#000" stroke-width="0.7"/>
<line x1="66.5" y1="809" x2="66.5" y2="806.8" stroke="#000" stroke-width="0.7"/>
<line x1="76.5" y1="809" x2="76.5" y2="806.8" stroke="#000" stroke-width="0.7"/>
<line x1="86.5" y1="809" x2="86.5" y2="806.8" stroke="#000" stroke-width="0.7"/>
<line x1="96.5" y1="809" x2="96.5" y2="806.8" stroke="#000" stroke-width="0.7"/>
<line x1="106.5" y1="809" x2="106.5" y2="806.8" stroke="#000" stroke-width="0.7"/>
<line x1="116.5" y1="809" x2="116.5" y2="806.8" stroke="#000" stroke-width="0.7"/>
<line x1="126.5" y1="809" x2="126.5" y2="806.8" stroke="#000" stroke-width="0.7"/>
<line x1="136.5" y1="809" x2="136.5" y2="806.8" stroke="#000" stroke-width="0.7"/>
<line x1="147.5" y1="809" x2="147.5" y2="806.8" stroke="#000" stroke-width="0.7"/>
<line x1="157.5" y1="809" x2="157.5" y2="806.8" stroke="#000" stroke-width="0.7"/>
<line x1="167.5" y1="809" x2="167.5" y2="806.8" stroke="#000" stroke-width="0.7"/>
<line x1="177.5" y1="809" x2="177.5" y2="806.8" stroke="#000" stroke-width="0.7"/>
<line x1="187.5" y1="809" x2="187.5" y2="806.8" stroke="#000" stroke-width="0.7"/>
<line x1="197.5" y1="809" x2="197.5" y2="806.8" stroke="#000" stroke-width="0.7"/>
<text x="44.8" y="819.2" text-anchor="middle" font-size="8.8">-2</text>
<text x="66.2" y="819.2" text-anchor="middle" font-size="8.8">0</text>
<text x="86.4" y="819.2" text-anchor="middle" font-size="8.8">2</text>
<text x="107.2" y="819.2" text-anchor="middle" font-size="8.8">4</text>
<text x="127" y="819.2" text-anchor="middle" font-size="8.8">6</text>
<text x="147.4" y="819.2" text-anchor="middle" font-size="8.8">8</text>
<text x="166.4" y="819.2" text-anchor="middle" font-size="8.8">10</text>
<text x="186.9" y="819.2" text-anchor="middle" font-size="8.8">12</text>
<text x="194.4" y="819.2" font-size="8.8">(min)</text>
<text x="19.7" y="754.5" font-size="8.3" text-anchor="middle" transform="rotate(-90 19.7 754.5)">Ca<tspan font-size="5.2" dy="-3">2+</tspan><tspan dy="3"> level (340/380 ratio)</tspan></text>
<path d="M46 783 C47.01 783.1 49.03 783.31 51.05 783.52 C53.07 783.73 54.08 783.83 56.1 784.04 C58.12 784.25 59.13 784.25 61.15 784.56 C63.17 784.87 64.38 785.03 66.2 785.6 C68.02 786.17 69.09 789.76 70.24 787.42 C71.39 785.08 70.89 779.46 71.96 773.9 C73.03 768.34 73.78 765.32 75.59 759.6 C77.41 753.88 78.89 750.34 81.05 745.3 C83.21 740.26 83.9 739.06 86.4 734.38 C88.9 729.7 90.68 726.58 93.57 721.9 C96.46 717.22 97.95 714.98 100.84 710.98 C103.73 706.98 105.25 705.21 108.01 701.88 C110.78 698.55 112.13 695.9 114.68 694.34 C117.23 692.78 117.53 693.25 120.74 694.08 C123.95 694.91 126.7 696.47 130.74 698.5 C134.78 700.53 136.88 701.78 140.94 704.22 C145 706.66 147 708.38 151.04 710.72 C155.08 713.06 157.04 714.05 161.14 715.92 C165.24 717.79 167.1 718.52 171.54 720.08 C175.99 721.64 178.47 722.21 183.36 723.72 C188.25 725.23 193.46 726.84 195.99 727.62" fill="none" stroke="#6a6a6a" stroke-width="5.6" stroke-dasharray="0.8 0.5" opacity="0.9"/>
<path d="M46 783 C47.01 783.1 49.03 783.31 51.05 783.52 C53.07 783.73 54.08 783.83 56.1 784.04 C58.12 784.25 59.13 784.25 61.15 784.56 C63.17 784.87 64.38 785.03 66.2 785.6 C68.02 786.17 68.02 787.94 70.24 787.42 C72.46 786.9 74.81 786.07 77.31 783 C79.81 779.93 80.95 777.12 82.76 772.08 C84.58 767.04 84.6 763.5 86.4 757.78 C88.2 752.06 89.61 748.84 91.75 743.48 C93.89 738.12 94.58 736.04 97.11 731 C99.63 725.96 101.15 722.26 104.38 718.26 C107.61 714.26 110.09 712.85 113.27 710.98 C116.44 709.11 116.92 708.64 120.23 708.9 C123.55 709.16 125.69 710.67 129.83 712.28 C133.97 713.89 136.7 714.78 140.94 716.96 C145.18 719.14 146.96 720.76 151.04 723.2 C155.12 725.64 157.3 727 161.34 729.18 C165.38 731.36 167.16 732.2 171.24 734.12 C175.32 736.04 177.91 737.08 181.74 738.8 C185.58 740.52 186.96 741.14 190.43 742.7 C193.9 744.26 197.38 745.82 199.12 746.6" fill="none" stroke="#6a6a6a" stroke-width="5.6" stroke-dasharray="0.8 0.5" opacity="0.9"/>
<path d="M46 783 C47.01 783.1 49.03 783.31 51.05 783.52 C53.07 783.73 54.08 783.83 56.1 784.04 C58.12 784.25 59.13 784.25 61.15 784.56 C63.17 784.87 64.38 785.03 66.2 785.6 C68.02 786.17 68.36 788.67 70.24 787.42 C72.12 786.17 73.43 784.2 75.59 779.36 C77.75 774.52 79.25 769.01 81.05 763.24 C82.84 757.47 82.78 755.91 84.58 750.5 C86.38 745.09 87.51 741.92 90.04 736.2 C92.56 730.48 94.34 726.42 97.21 721.9 C100.08 717.38 101.17 715.92 104.38 713.58 C107.59 711.24 110.05 710.62 113.27 710.2 C116.48 709.78 116.92 710.56 120.44 711.5 C123.95 712.44 126.74 713.37 130.84 714.88 C134.94 716.39 136.9 717.06 140.94 719.04 C144.98 721.02 146.96 722.52 151.04 724.76 C155.12 727 157.3 728.3 161.34 730.22 C165.38 732.14 167.16 732.72 171.24 734.38 C175.32 736.04 177.91 737.24 181.74 738.54 C185.58 739.84 186.96 740 190.43 740.88 C193.9 741.76 197.38 742.54 199.12 742.96" fill="none" stroke="#6a6a6a" stroke-width="5.6" stroke-dasharray="0.8 0.5" opacity="0.9"/>
<path d="M46 783 C47.01 783.1 49.03 783.31 51.05 783.52 C53.07 783.73 54.08 783.83 56.1 784.04 C58.12 784.25 59.13 784.25 61.15 784.56 C63.17 784.87 64.38 785.03 66.2 785.6 C68.02 786.17 68.36 788.67 70.24 787.42 C72.12 786.17 73.43 784.2 75.59 779.36 C77.75 774.52 79.25 769.01 81.05 763.24 C82.84 757.47 82.78 755.91 84.58 750.5 C86.38 745.09 87.51 741.92 90.04 736.2 C92.56 730.48 94.34 726.42 97.21 721.9 C100.08 717.38 101.17 715.92 104.38 713.58 C107.59 711.24 110.05 710.62 113.27 710.2 C116.48 709.78 116.92 710.56 120.44 711.5 C123.95 712.44 126.74 713.37 130.84 714.88 C134.94 716.39 136.9 717.06 140.94 719.04 C144.98 721.02 146.96 722.52 151.04 724.76 C155.12 727 157.3 728.3 161.34 730.22 C165.38 732.14 167.16 732.72 171.24 734.38 C175.32 736.04 177.91 737.24 181.74 738.54 C185.58 739.84 186.96 740 190.43 740.88 C193.9 741.76 197.38 742.54 199.12 742.96" fill="none" stroke="#3ed23a" stroke-width="1.3"/>
<path d="M46 783 C47.01 783.1 49.03 783.31 51.05 783.52 C53.07 783.73 54.08 783.83 56.1 784.04 C58.12 784.25 59.13 784.25 61.15 784.56 C63.17 784.87 64.38 785.03 66.2 785.6 C68.02 786.17 68.02 787.94 70.24 787.42 C72.46 786.9 74.81 786.07 77.31 783 C79.81 779.93 80.95 777.12 82.76 772.08 C84.58 767.04 84.6 763.5 86.4 757.78 C88.2 752.06 89.61 748.84 91.75 743.48 C93.89 738.12 94.58 736.04 97.11 731 C99.63 725.96 101.15 722.26 104.38 718.26 C107.61 714.26 110.09 712.85 113.27 710.98 C116.44 709.11 116.92 708.64 120.23 708.9 C123.55 709.16 125.69 710.67 129.83 712.28 C133.97 713.89 136.7 714.78 140.94 716.96 C145.18 719.14 146.96 720.76 151.04 723.2 C155.12 725.64 157.3 727 161.34 729.18 C165.38 731.36 167.16 732.2 171.24 734.12 C175.32 736.04 177.91 737.08 181.74 738.8 C185.58 740.52 186.96 741.14 190.43 742.7 C193.9 744.26 197.38 745.82 199.12 746.6" fill="none" stroke="#e82020" stroke-width="1.3"/>
<path d="M46 783 C47.01 783.1 49.03 783.31 51.05 783.52 C53.07 783.73 54.08 783.83 56.1 784.04 C58.12 784.25 59.13 784.25 61.15 784.56 C63.17 784.87 64.38 785.03 66.2 785.6 C68.02 786.17 69.09 789.76 70.24 787.42 C71.39 785.08 70.89 779.46 71.96 773.9 C73.03 768.34 73.78 765.32 75.59 759.6 C77.41 753.88 78.89 750.34 81.05 745.3 C83.21 740.26 83.9 739.06 86.4 734.38 C88.9 729.7 90.68 726.58 93.57 721.9 C96.46 717.22 97.95 714.98 100.84 710.98 C103.73 706.98 105.25 705.21 108.01 701.88 C110.78 698.55 112.13 695.9 114.68 694.34 C117.23 692.78 117.53 693.25 120.74 694.08 C123.95 694.91 126.7 696.47 130.74 698.5 C134.78 700.53 136.88 701.78 140.94 704.22 C145 706.66 147 708.38 151.04 710.72 C155.08 713.06 157.04 714.05 161.14 715.92 C165.24 717.79 167.1 718.52 171.54 720.08 C175.99 721.64 178.47 722.21 183.36 723.72 C188.25 725.23 193.46 726.84 195.99 727.62" fill="none" stroke="#111" stroke-width="1.3"/>
<text x="158.2" y="699.5" font-size="8.1">n=132-167</text>
<line x1="203.5" y1="727" x2="203.5" y2="742.4" stroke="#000" stroke-width="0.9"/>
<text x="205.9" y="735.8" text-anchor="middle" font-size="8.2" transform="rotate(90 205.9 735.8)">p=4.33E-12</text>
<line x1="216.5" y1="727" x2="216.5" y2="750.6" stroke="#000" stroke-width="0.9"/>
<text x="221.3" y="740.4" text-anchor="middle" font-size="8.2" transform="rotate(90 221.3 740.4)">p=6.24E-15</text>
<rect x="137.4" y="763.9" width="3.5" height="7.2" fill="#777"/>
<line x1="137" y1="763.5" x2="141.3" y2="763.5" stroke="#666" stroke-width="0.4"/>
<line x1="137" y1="765.5" x2="141.3" y2="765.5" stroke="#666" stroke-width="0.4"/>
<line x1="137" y1="766.5" x2="141.3" y2="766.5" stroke="#666" stroke-width="0.4"/>
<line x1="137" y1="767.5" x2="141.3" y2="767.5" stroke="#666" stroke-width="0.4"/>
<line x1="137" y1="768.5" x2="141.3" y2="768.5" stroke="#666" stroke-width="0.4"/>
<line x1="137" y1="769.5" x2="141.3" y2="769.5" stroke="#666" stroke-width="0.4"/>
<line x1="137" y1="771.5" x2="141.3" y2="771.5" stroke="#666" stroke-width="0.4"/>
<text x="144.6" y="771" font-size="8.8">control</text>
<rect x="137.4" y="776.2" width="3.5" height="7.2" fill="#e82020"/>
<line x1="137" y1="776.5" x2="141.3" y2="776.5" stroke="#666" stroke-width="0.4"/>
<line x1="137" y1="777.5" x2="141.3" y2="777.5" stroke="#666" stroke-width="0.4"/>
<line x1="137" y1="778.5" x2="141.3" y2="778.5" stroke="#666" stroke-width="0.4"/>
<line x1="137" y1="779.5" x2="141.3" y2="779.5" stroke="#666" stroke-width="0.4"/>
<line x1="137" y1="780.5" x2="141.3" y2="780.5" stroke="#666" stroke-width="0.4"/>
<line x1="137" y1="782.5" x2="141.3" y2="782.5" stroke="#666" stroke-width="0.4"/>
<line x1="137" y1="783.5" x2="141.3" y2="783.5" stroke="#666" stroke-width="0.4"/>
<text x="144.6" y="783.3" font-size="8.8">Cacna1a-KD</text>
<rect x="137.4" y="787.4" width="3.5" height="7.2" fill="#3ee23a"/>
<line x1="137" y1="787.5" x2="141.3" y2="787.5" stroke="#666" stroke-width="0.4"/>
<line x1="137" y1="788.5" x2="141.3" y2="788.5" stroke="#666" stroke-width="0.4"/>
<line x1="137" y1="789.5" x2="141.3" y2="789.5" stroke="#666" stroke-width="0.4"/>
<line x1="137" y1="791.5" x2="141.3" y2="791.5" stroke="#666" stroke-width="0.4"/>
<line x1="137" y1="792.5" x2="141.3" y2="792.5" stroke="#666" stroke-width="0.4"/>
<line x1="137" y1="793.5" x2="141.3" y2="793.5" stroke="#666" stroke-width="0.4"/>
<line x1="137" y1="794.5" x2="141.3" y2="794.5" stroke="#666" stroke-width="0.4"/>
<text x="144.6" y="794.5" font-size="8.8">Cacn2d1-KD</text>
<text x="245.3" y="689" font-weight="bold" font-size="9.2">n</text>
<line x1="275.5" y1="723.2" x2="275.5" y2="810.3" stroke="#8a8a8a" stroke-width="1"/>
<line x1="273.2" y1="810.5" x2="329.4" y2="810.5" stroke="#000" stroke-width="1.2"/>
<line x1="273.2" y1="810.5" x2="275.2" y2="810.5" stroke="#000" stroke-width="1"/>
<text x="268.3" y="813" text-anchor="end" font-size="8.8">0</text>
<line x1="273.2" y1="781.5" x2="275.2" y2="781.5" stroke="#000" stroke-width="1"/>
<text x="268.3" y="784.7" text-anchor="end" font-size="8.8">10</text>
<line x1="273.2" y1="752.5" x2="275.2" y2="752.5" stroke="#000" stroke-width="1"/>
<text x="268.3" y="756.4" text-anchor="end" font-size="8.8">20</text>
<line x1="273.2" y1="723.5" x2="275.2" y2="723.5" stroke="#000" stroke-width="1"/>
<text x="268.3" y="728.1" text-anchor="end" font-size="8.8">30</text>
<text x="250" y="764.2" text-anchor="middle" font-size="8.4" transform="rotate(-90 250 764.2)">relative AUC</text>
<rect x="281.1" y="746.72" width="10.8" height="63.58" fill="#7a7a7a" stroke="#111" stroke-width="1.5"/>
<rect x="289.22" y="750.65" width="0.9" height="0.9" fill="#111"/>
<rect x="290.57" y="750.57" width="0.9" height="0.9" fill="#111"/>
<rect x="282.17" y="747.96" width="0.9" height="0.9" fill="#111"/>
<rect x="286.18" y="753.46" width="0.9" height="0.9" fill="#111"/>
<rect x="290.19" y="744.06" width="0.9" height="0.9" fill="#111"/>
<rect x="282.94" y="748.9" width="0.9" height="0.9" fill="#111"/>
<rect x="286.9" y="749.51" width="0.9" height="0.9" fill="#111"/>
<rect x="287.18" y="747.21" width="0.9" height="0.9" fill="#111"/>
<rect x="284.47" y="745.78" width="0.9" height="0.9" fill="#111"/>
<rect x="290.33" y="747.44" width="0.9" height="0.9" fill="#111"/>
<rect x="289.23" y="747.44" width="0.9" height="0.9" fill="#111"/>
<rect x="283.18" y="749.11" width="0.9" height="0.9" fill="#111"/>
<rect x="281.92" y="748.59" width="0.9" height="0.9" fill="#111"/>
<rect x="289.92" y="748.5" width="0.9" height="0.9" fill="#111"/>
<rect x="290.94" y="747.13" width="0.9" height="0.9" fill="#111"/>
<rect x="289.93" y="745.83" width="0.9" height="0.9" fill="#111"/>
<rect x="286.86" y="749.21" width="0.9" height="0.9" fill="#111"/>
<rect x="288.14" y="741.15" width="0.9" height="0.9" fill="#111"/>
<rect x="288.25" y="745.85" width="0.9" height="0.9" fill="#111"/>
<rect x="290.79" y="741.65" width="0.9" height="0.9" fill="#111"/>
<rect x="285.22" y="745.87" width="0.9" height="0.9" fill="#111"/>
<rect x="283.43" y="748.94" width="0.9" height="0.9" fill="#111"/>
<rect x="284.67" y="747.01" width="0.9" height="0.9" fill="#111"/>
<rect x="287.45" y="746.83" width="0.9" height="0.9" fill="#111"/>
<rect x="285.01" y="743.67" width="0.9" height="0.9" fill="#111"/>
<rect x="284.75" y="747.5" width="0.9" height="0.9" fill="#111"/>
<rect x="284.81" y="746.34" width="0.9" height="0.9" fill="#111"/>
<rect x="286.33" y="750.29" width="0.9" height="0.9" fill="#111"/>
<rect x="290.87" y="747.84" width="0.9" height="0.9" fill="#111"/>
<rect x="282.11" y="748.44" width="0.9" height="0.9" fill="#111"/>
<rect x="282.07" y="747.59" width="0.9" height="0.9" fill="#111"/>
<rect x="289.15" y="752.61" width="0.9" height="0.9" fill="#111"/>
<rect x="281.98" y="749.87" width="0.9" height="0.9" fill="#111"/>
<rect x="282.33" y="745.04" width="0.9" height="0.9" fill="#111"/>
<rect x="283.71" y="744.86" width="0.9" height="0.9" fill="#111"/>
<rect x="288.85" y="741.71" width="0.9" height="0.9" fill="#111"/>
<rect x="285.07" y="741.98" width="0.9" height="0.9" fill="#111"/>
<rect x="285.16" y="750.24" width="0.9" height="0.9" fill="#111"/>
<rect x="282.89" y="752.03" width="0.9" height="0.9" fill="#111"/>
<rect x="288.79" y="748.28" width="0.9" height="0.9" fill="#111"/>
<rect x="282.24" y="746.08" width="0.9" height="0.9" fill="#111"/>
<rect x="290.6" y="752.52" width="0.9" height="0.9" fill="#111"/>
<rect x="287.52" y="745.59" width="0.9" height="0.9" fill="#111"/>
<rect x="290.35" y="746.3" width="0.9" height="0.9" fill="#111"/>
<rect x="286.92" y="750.75" width="0.9" height="0.9" fill="#111"/>
<rect x="284.77" y="742.6" width="0.9" height="0.9" fill="#111"/>
<rect x="282.62" y="748.25" width="0.9" height="0.9" fill="#111"/>
<rect x="283.27" y="746.1" width="0.9" height="0.9" fill="#111"/>
<rect x="283.39" y="750.87" width="0.9" height="0.9" fill="#111"/>
<rect x="282.35" y="755.75" width="0.9" height="0.9" fill="#111"/>
<rect x="285.63" y="744.39" width="0.9" height="0.9" fill="#111"/>
<rect x="284.08" y="747.86" width="0.9" height="0.9" fill="#111"/>
<rect x="286.09" y="751.63" width="0.9" height="0.9" fill="#111"/>
<rect x="285.78" y="750.3" width="0.9" height="0.9" fill="#111"/>
<rect x="282.2" y="742.15" width="0.9" height="0.9" fill="#111"/>
<rect x="286.44" y="745.6" width="0.9" height="0.9" fill="#111"/>
<rect x="288.63" y="746.86" width="0.9" height="0.9" fill="#111"/>
<rect x="290.64" y="748.76" width="0.9" height="0.9" fill="#111"/>
<rect x="282.88" y="750.71" width="0.9" height="0.9" fill="#111"/>
<rect x="285.9" y="750.93" width="0.9" height="0.9" fill="#111"/>
<rect x="284.61" y="744.62" width="0.9" height="0.9" fill="#111"/>
<rect x="286.07" y="743.54" width="0.9" height="0.9" fill="#111"/>
<rect x="290.88" y="742.5" width="0.9" height="0.9" fill="#111"/>
<rect x="286.07" y="747.61" width="0.9" height="0.9" fill="#111"/>
<rect x="286.31" y="751.78" width="0.9" height="0.9" fill="#111"/>
<rect x="284.58" y="747.27" width="0.9" height="0.9" fill="#111"/>
<rect x="285.37" y="748.79" width="0.9" height="0.9" fill="#111"/>
<rect x="290.99" y="746.75" width="0.9" height="0.9" fill="#111"/>
<rect x="286.49" y="744.05" width="0.9" height="0.9" fill="#111"/>
<rect x="285.01" y="748.5" width="0.9" height="0.9" fill="#111"/>
<rect x="289.09" y="745.83" width="0.9" height="0.9" fill="#111"/>
<rect x="289.88" y="746.49" width="0.9" height="0.9" fill="#111"/>
<rect x="289.03" y="750.53" width="0.9" height="0.9" fill="#111"/>
<rect x="288.29" y="744.09" width="0.9" height="0.9" fill="#111"/>
<rect x="285.24" y="749.85" width="0.9" height="0.9" fill="#111"/>
<rect x="288.38" y="751.35" width="0.9" height="0.9" fill="#111"/>
<rect x="288.98" y="748.16" width="0.9" height="0.9" fill="#111"/>
<rect x="288.26" y="744.64" width="0.9" height="0.9" fill="#111"/>
<rect x="287.88" y="749.29" width="0.9" height="0.9" fill="#111"/>
<rect x="287.24" y="741.55" width="0.9" height="0.9" fill="#111"/>
<rect x="284.21" y="744.32" width="0.9" height="0.9" fill="#111"/>
<rect x="288.08" y="747.35" width="0.9" height="0.9" fill="#111"/>
<rect x="287.86" y="752.25" width="0.9" height="0.9" fill="#111"/>
<rect x="289.24" y="746.48" width="0.9" height="0.9" fill="#111"/>
<rect x="288.69" y="749.74" width="0.9" height="0.9" fill="#111"/>
<rect x="289.52" y="744.53" width="0.9" height="0.9" fill="#111"/>
<rect x="289.9" y="750.53" width="0.9" height="0.9" fill="#111"/>
<rect x="288.23" y="743.54" width="0.9" height="0.9" fill="#111"/>
<rect x="286.67" y="741.15" width="0.9" height="0.9" fill="#111"/>
<rect x="286.77" y="748.56" width="0.9" height="0.9" fill="#111"/>
<rect x="290.52" y="745.1" width="0.9" height="0.9" fill="#111"/>
<rect x="286.29" y="743.31" width="0.9" height="0.9" fill="#111"/>
<rect x="288.62" y="749.08" width="0.9" height="0.9" fill="#111"/>
<rect x="283.48" y="751.46" width="0.9" height="0.9" fill="#111"/>
<rect x="288.02" y="746.94" width="0.9" height="0.9" fill="#111"/>
<rect x="285.77" y="750.95" width="0.9" height="0.9" fill="#111"/>
<rect x="287.76" y="750.79" width="0.9" height="0.9" fill="#111"/>
<rect x="288.53" y="750.74" width="0.9" height="0.9" fill="#111"/>
<rect x="285.96" y="746.07" width="0.9" height="0.9" fill="#111"/>
<rect x="287.88" y="747.32" width="0.9" height="0.9" fill="#111"/>
<rect x="287.7" y="746.82" width="0.9" height="0.9" fill="#111"/>
<rect x="282.29" y="743.7" width="0.9" height="0.9" fill="#111"/>
<rect x="282.4" y="749.42" width="0.9" height="0.9" fill="#111"/>
<rect x="283.13" y="747.26" width="0.9" height="0.9" fill="#111"/>
<rect x="283.68" y="748.26" width="0.9" height="0.9" fill="#111"/>
<rect x="282.23" y="746.09" width="0.9" height="0.9" fill="#111"/>
<rect x="287.53" y="750.07" width="0.9" height="0.9" fill="#111"/>
<rect x="287.33" y="747.04" width="0.9" height="0.9" fill="#111"/>
<rect x="281.91" y="747.16" width="0.9" height="0.9" fill="#111"/>
<rect x="285.63" y="741.98" width="0.9" height="0.9" fill="#111"/>
<rect x="282.96" y="748.06" width="0.9" height="0.9" fill="#111"/>
<rect x="289.55" y="744.96" width="0.9" height="0.9" fill="#111"/>
<rect x="287.54" y="748.08" width="0.9" height="0.9" fill="#111"/>
<rect x="282.77" y="747.09" width="0.9" height="0.9" fill="#111"/>
<rect x="287.24" y="749.86" width="0.9" height="0.9" fill="#111"/>
<rect x="290.72" y="748.25" width="0.9" height="0.9" fill="#111"/>
<rect x="289.38" y="746.46" width="0.9" height="0.9" fill="#111"/>
<rect x="287.81" y="750.05" width="0.9" height="0.9" fill="#111"/>
<rect x="287.38" y="748.57" width="0.9" height="0.9" fill="#111"/>
<rect x="287.09" y="746.53" width="0.9" height="0.9" fill="#111"/>
<rect x="287.5" y="741.01" width="0.9" height="0.9" fill="#111"/>
<rect x="285.13" y="749.4" width="0.9" height="0.9" fill="#111"/>
<rect x="282.89" y="747.5" width="0.9" height="0.9" fill="#111"/>
<rect x="287.11" y="747.66" width="0.9" height="0.9" fill="#111"/>
<rect x="287.69" y="748.66" width="0.9" height="0.9" fill="#111"/>
<rect x="290.1" y="748.54" width="0.9" height="0.9" fill="#111"/>
<rect x="283.98" y="749.55" width="0.9" height="0.9" fill="#111"/>
<rect x="284.58" y="745.64" width="0.9" height="0.9" fill="#111"/>
<rect x="290.74" y="745.08" width="0.9" height="0.9" fill="#111"/>
<rect x="290.31" y="748.02" width="0.9" height="0.9" fill="#111"/>
<rect x="290.93" y="749.25" width="0.9" height="0.9" fill="#111"/>
<rect x="286.47" y="748.73" width="0.9" height="0.9" fill="#111"/>
<rect x="290.96" y="749.55" width="0.9" height="0.9" fill="#111"/>
<rect x="286.42" y="746.43" width="0.9" height="0.9" fill="#111"/>
<rect x="283.02" y="748.26" width="0.9" height="0.9" fill="#111"/>
<rect x="287.62" y="744.7" width="0.9" height="0.9" fill="#111"/>
<rect x="289.09" y="749.62" width="0.9" height="0.9" fill="#111"/>
<rect x="289.51" y="746.83" width="0.9" height="0.9" fill="#111"/>
<rect x="284.42" y="744.39" width="0.9" height="0.9" fill="#111"/>
<rect x="290.5" y="747.32" width="0.9" height="0.9" fill="#111"/>
<rect x="284.36" y="747.2" width="0.9" height="0.9" fill="#111"/>
<rect x="283.32" y="749.5" width="0.9" height="0.9" fill="#111"/>
<rect x="287.49" y="745.43" width="0.9" height="0.9" fill="#111"/>
<rect x="286.27" y="747.74" width="0.9" height="0.9" fill="#111"/>
<rect x="288.74" y="749.76" width="0.9" height="0.9" fill="#111"/>
<rect x="282.99" y="750.38" width="0.9" height="0.9" fill="#111"/>
<rect x="286.81" y="747.44" width="0.9" height="0.9" fill="#111"/>
<rect x="284.99" y="749.78" width="0.9" height="0.9" fill="#111"/>
<rect x="286.17" y="748.51" width="0.9" height="0.9" fill="#111"/>
<rect x="285.22" y="744.53" width="0.9" height="0.9" fill="#111"/>
<rect x="282.24" y="747.7" width="0.9" height="0.9" fill="#111"/>
<rect x="284.22" y="751.06" width="0.9" height="0.9" fill="#111"/>
<rect x="290.07" y="753.16" width="0.9" height="0.9" fill="#111"/>
<rect x="286.92" y="745.99" width="0.9" height="0.9" fill="#111"/>
<rect x="285.84" y="743.09" width="0.9" height="0.9" fill="#111"/>
<rect x="287.2" y="747.17" width="0.9" height="0.9" fill="#111"/>
<rect x="286.33" y="748.54" width="0.9" height="0.9" fill="#111"/>
<rect x="290.29" y="751.14" width="0.9" height="0.9" fill="#111"/>
<rect x="289.74" y="749.54" width="0.9" height="0.9" fill="#111"/>
<rect x="283.71" y="745.88" width="0.9" height="0.9" fill="#111"/>
<rect x="282.51" y="749" width="0.9" height="0.9" fill="#111"/>
<rect x="289.59" y="742.9" width="0.9" height="0.9" fill="#111"/>
<rect x="284.53" y="748.53" width="0.9" height="0.9" fill="#111"/>
<rect x="289.08" y="750.19" width="0.9" height="0.9" fill="#111"/>
<rect x="286.3" y="746.37" width="0.9" height="0.9" fill="#111"/>
<rect x="286.95" y="748.36" width="0.9" height="0.9" fill="#111"/>
<rect x="283.31" y="749.92" width="0.9" height="0.9" fill="#111"/>
<rect x="287.29" y="747.55" width="0.9" height="0.9" fill="#111"/>
<rect x="284.02" y="747.22" width="0.9" height="0.9" fill="#111"/>
<rect x="289.44" y="748.49" width="0.9" height="0.9" fill="#111"/>
<rect x="282.14" y="746.59" width="0.9" height="0.9" fill="#111"/>
<rect x="288.55" y="751.3" width="0.9" height="0.9" fill="#111"/>
<rect x="288.35" y="738.37" width="0.9" height="0.9" fill="#111"/>
<rect x="282.35" y="748.83" width="0.9" height="0.9" fill="#111"/>
<rect x="287.84" y="746.59" width="0.9" height="0.9" fill="#111"/>
<rect x="290.66" y="749.12" width="0.9" height="0.9" fill="#111"/>
<rect x="284.59" y="747.91" width="0.9" height="0.9" fill="#111"/>
<rect x="290.35" y="748.95" width="0.9" height="0.9" fill="#111"/>
<rect x="285.71" y="745.48" width="0.9" height="0.9" fill="#111"/>
<rect x="283.38" y="744.7" width="0.9" height="0.9" fill="#111"/>
<rect x="282.9" y="748.14" width="0.9" height="0.9" fill="#111"/>
<rect x="285.39" y="748.13" width="0.9" height="0.9" fill="#111"/>
<rect x="287.19" y="746.78" width="0.9" height="0.9" fill="#111"/>
<rect x="288.73" y="747.2" width="0.9" height="0.9" fill="#111"/>
<rect x="285.87" y="746.58" width="0.9" height="0.9" fill="#111"/>
<rect x="284.79" y="748.55" width="0.9" height="0.9" fill="#111"/>
<rect x="290.53" y="750.03" width="0.9" height="0.9" fill="#111"/>
<rect x="285.34" y="749.36" width="0.9" height="0.9" fill="#111"/>
<rect x="283.29" y="743.81" width="0.9" height="0.9" fill="#111"/>
<rect x="287.71" y="746.21" width="0.9" height="0.9" fill="#111"/>
<rect x="287" y="753.3" width="0.9" height="0.9" fill="#111"/>
<rect x="287.61" y="747.8" width="0.9" height="0.9" fill="#111"/>
<rect x="284.24" y="747.86" width="0.9" height="0.9" fill="#111"/>
<rect x="288.81" y="744.3" width="0.9" height="0.9" fill="#111"/>
<rect x="284.06" y="748.97" width="0.9" height="0.9" fill="#111"/>
<rect x="285.32" y="747.74" width="0.9" height="0.9" fill="#111"/>
<rect x="288.46" y="747.72" width="0.9" height="0.9" fill="#111"/>
<rect x="287.93" y="749.22" width="0.9" height="0.9" fill="#111"/>
<rect x="282.74" y="744.27" width="0.9" height="0.9" fill="#111"/>
<rect x="283.05" y="745.62" width="0.9" height="0.9" fill="#111"/>
<rect x="286.69" y="735.16" width="0.8" height="0.8" fill="#111"/>
<rect x="285.98" y="738.05" width="0.8" height="0.8" fill="#111"/>
<rect x="287.25" y="739.49" width="0.8" height="0.8" fill="#111"/>
<rect x="286.46" y="729.38" width="0.8" height="0.8" fill="#111"/>
<rect x="298.4" y="748.74" width="10.8" height="61.56" fill="#f2331c" stroke="#111" stroke-width="1.5"/>
<rect x="299.47" y="751.67" width="0.9" height="0.9" fill="#111"/>
<rect x="305.87" y="745.45" width="0.9" height="0.9" fill="#111"/>
<rect x="307.96" y="748.21" width="0.9" height="0.9" fill="#111"/>
<rect x="305.47" y="749.12" width="0.9" height="0.9" fill="#111"/>
<rect x="308.15" y="749.39" width="0.9" height="0.9" fill="#111"/>
<rect x="305.32" y="748.34" width="0.9" height="0.9" fill="#111"/>
<rect x="304.95" y="749" width="0.9" height="0.9" fill="#111"/>
<rect x="302.46" y="750.9" width="0.9" height="0.9" fill="#111"/>
<rect x="304.85" y="749.39" width="0.9" height="0.9" fill="#111"/>
<rect x="302.41" y="747.28" width="0.9" height="0.9" fill="#111"/>
<rect x="306.85" y="750.67" width="0.9" height="0.9" fill="#111"/>
<rect x="305.16" y="748.68" width="0.9" height="0.9" fill="#111"/>
<rect x="307.03" y="748.68" width="0.9" height="0.9" fill="#111"/>
<rect x="303.96" y="752.22" width="0.9" height="0.9" fill="#111"/>
<rect x="306.01" y="752.45" width="0.9" height="0.9" fill="#111"/>
<rect x="302.84" y="751.48" width="0.9" height="0.9" fill="#111"/>
<rect x="301.06" y="749.06" width="0.9" height="0.9" fill="#111"/>
<rect x="299.56" y="749.22" width="0.9" height="0.9" fill="#111"/>
<rect x="306.2" y="747.32" width="0.9" height="0.9" fill="#111"/>
<rect x="299.2" y="751.52" width="0.9" height="0.9" fill="#111"/>
<rect x="304.9" y="754.98" width="0.9" height="0.9" fill="#111"/>
<rect x="303.14" y="748.59" width="0.9" height="0.9" fill="#111"/>
<rect x="300.62" y="750.77" width="0.9" height="0.9" fill="#111"/>
<rect x="300.66" y="749.35" width="0.9" height="0.9" fill="#111"/>
<rect x="307.3" y="751.42" width="0.9" height="0.9" fill="#111"/>
<rect x="300.6" y="747.79" width="0.9" height="0.9" fill="#111"/>
<rect x="300.69" y="749.66" width="0.9" height="0.9" fill="#111"/>
<rect x="301.84" y="747.51" width="0.9" height="0.9" fill="#111"/>
<rect x="299.5" y="749.33" width="0.9" height="0.9" fill="#111"/>
<rect x="307.71" y="746.64" width="0.9" height="0.9" fill="#111"/>
<rect x="305.53" y="753.78" width="0.9" height="0.9" fill="#111"/>
<rect x="305.4" y="745.11" width="0.9" height="0.9" fill="#111"/>
<rect x="300.28" y="755.78" width="0.9" height="0.9" fill="#111"/>
<rect x="305.35" y="748.5" width="0.9" height="0.9" fill="#111"/>
<rect x="305.91" y="750.61" width="0.9" height="0.9" fill="#111"/>
<rect x="300.7" y="745.84" width="0.9" height="0.9" fill="#111"/>
<rect x="301.32" y="749.43" width="0.9" height="0.9" fill="#111"/>
<rect x="299.92" y="749.05" width="0.9" height="0.9" fill="#111"/>
<rect x="302.55" y="755.31" width="0.9" height="0.9" fill="#111"/>
<rect x="302.07" y="745.53" width="0.9" height="0.9" fill="#111"/>
<rect x="305.94" y="751.69" width="0.9" height="0.9" fill="#111"/>
<rect x="305.8" y="749.19" width="0.9" height="0.9" fill="#111"/>
<rect x="305.38" y="748.61" width="0.9" height="0.9" fill="#111"/>
<rect x="307.85" y="747.96" width="0.9" height="0.9" fill="#111"/>
<rect x="308.17" y="751.29" width="0.9" height="0.9" fill="#111"/>
<rect x="299.26" y="751.8" width="0.9" height="0.9" fill="#111"/>
<rect x="302.97" y="745.42" width="0.9" height="0.9" fill="#111"/>
<rect x="299.61" y="747.92" width="0.9" height="0.9" fill="#111"/>
<rect x="303.97" y="757.11" width="0.9" height="0.9" fill="#111"/>
<rect x="302.42" y="751.96" width="0.9" height="0.9" fill="#111"/>
<rect x="307.47" y="748.78" width="0.9" height="0.9" fill="#111"/>
<rect x="303.72" y="749.05" width="0.9" height="0.9" fill="#111"/>
<rect x="301.44" y="748.81" width="0.9" height="0.9" fill="#111"/>
<rect x="299.66" y="749.95" width="0.9" height="0.9" fill="#111"/>
<rect x="301.55" y="750.34" width="0.9" height="0.9" fill="#111"/>
<rect x="302.95" y="749.06" width="0.9" height="0.9" fill="#111"/>
<rect x="299.55" y="749.9" width="0.9" height="0.9" fill="#111"/>
<rect x="308.14" y="748.82" width="0.9" height="0.9" fill="#111"/>
<rect x="302.9" y="748.28" width="0.9" height="0.9" fill="#111"/>
<rect x="304.09" y="746.81" width="0.9" height="0.9" fill="#111"/>
<rect x="300.19" y="747.66" width="0.9" height="0.9" fill="#111"/>
<rect x="304.19" y="748.47" width="0.9" height="0.9" fill="#111"/>
<rect x="307.08" y="746.52" width="0.9" height="0.9" fill="#111"/>
<rect x="301.17" y="751.28" width="0.9" height="0.9" fill="#111"/>
<rect x="303.68" y="746.39" width="0.9" height="0.9" fill="#111"/>
<rect x="304.46" y="749.26" width="0.9" height="0.9" fill="#111"/>
<rect x="305.88" y="752.21" width="0.9" height="0.9" fill="#111"/>
<rect x="307.6" y="747.06" width="0.9" height="0.9" fill="#111"/>
<rect x="306.8" y="750.62" width="0.9" height="0.9" fill="#111"/>
<rect x="301.26" y="746.95" width="0.9" height="0.9" fill="#111"/>
<rect x="300.01" y="747.93" width="0.9" height="0.9" fill="#111"/>
<rect x="306.31" y="748.12" width="0.9" height="0.9" fill="#111"/>
<rect x="300.39" y="748.66" width="0.9" height="0.9" fill="#111"/>
<rect x="299.95" y="751.65" width="0.9" height="0.9" fill="#111"/>
<rect x="303.14" y="749.57" width="0.9" height="0.9" fill="#111"/>
<rect x="304.51" y="748.52" width="0.9" height="0.9" fill="#111"/>
<rect x="305.65" y="749.58" width="0.9" height="0.9" fill="#111"/>
<rect x="299.64" y="748.68" width="0.9" height="0.9" fill="#111"/>
<rect x="302.64" y="748.95" width="0.9" height="0.9" fill="#111"/>
<rect x="300.11" y="747.58" width="0.9" height="0.9" fill="#111"/>
<rect x="306.12" y="751.59" width="0.9" height="0.9" fill="#111"/>
<rect x="304.32" y="748.53" width="0.9" height="0.9" fill="#111"/>
<rect x="306.19" y="746.6" width="0.9" height="0.9" fill="#111"/>
<rect x="304.49" y="751.91" width="0.9" height="0.9" fill="#111"/>
<rect x="305.23" y="754.09" width="0.9" height="0.9" fill="#111"/>
<rect x="307.98" y="747.91" width="0.9" height="0.9" fill="#111"/>
<rect x="301.66" y="750.17" width="0.9" height="0.9" fill="#111"/>
<rect x="306.67" y="753.61" width="0.9" height="0.9" fill="#111"/>
<rect x="299.81" y="750.63" width="0.9" height="0.9" fill="#111"/>
<rect x="300.76" y="748.68" width="0.9" height="0.9" fill="#111"/>
<rect x="301.83" y="749.92" width="0.9" height="0.9" fill="#111"/>
<rect x="299.78" y="745.72" width="0.9" height="0.9" fill="#111"/>
<rect x="299.45" y="749.32" width="0.9" height="0.9" fill="#111"/>
<rect x="299.67" y="752.92" width="0.9" height="0.9" fill="#111"/>
<rect x="307.11" y="747.94" width="0.9" height="0.9" fill="#111"/>
<rect x="307.93" y="747.83" width="0.9" height="0.9" fill="#111"/>
<rect x="303.15" y="751.05" width="0.9" height="0.9" fill="#111"/>
<rect x="302.53" y="750.83" width="0.9" height="0.9" fill="#111"/>
<rect x="304.58" y="749.81" width="0.9" height="0.9" fill="#111"/>
<rect x="306.81" y="749.25" width="0.9" height="0.9" fill="#111"/>
<rect x="304.08" y="749.78" width="0.9" height="0.9" fill="#111"/>
<rect x="300.77" y="750.76" width="0.9" height="0.9" fill="#111"/>
<rect x="307.83" y="750.32" width="0.9" height="0.9" fill="#111"/>
<rect x="306.51" y="752.35" width="0.9" height="0.9" fill="#111"/>
<rect x="307.62" y="747.94" width="0.9" height="0.9" fill="#111"/>
<rect x="303.44" y="748.07" width="0.9" height="0.9" fill="#111"/>
<rect x="306.26" y="752.18" width="0.9" height="0.9" fill="#111"/>
<rect x="307.81" y="748.48" width="0.9" height="0.9" fill="#111"/>
<rect x="304.68" y="756.34" width="0.9" height="0.9" fill="#111"/>
<rect x="300.15" y="751.01" width="0.9" height="0.9" fill="#111"/>
<rect x="299.68" y="748.54" width="0.9" height="0.9" fill="#111"/>
<rect x="308.2" y="752.1" width="0.9" height="0.9" fill="#111"/>
<rect x="303.63" y="746.27" width="0.9" height="0.9" fill="#111"/>
<rect x="307.31" y="748.91" width="0.9" height="0.9" fill="#111"/>
<rect x="301.75" y="751.03" width="0.9" height="0.9" fill="#111"/>
<rect x="301.05" y="748.48" width="0.9" height="0.9" fill="#111"/>
<rect x="306.11" y="751.87" width="0.9" height="0.9" fill="#111"/>
<rect x="301.42" y="750.54" width="0.9" height="0.9" fill="#111"/>
<rect x="308.24" y="750.78" width="0.9" height="0.9" fill="#111"/>
<rect x="306.93" y="748.03" width="0.9" height="0.9" fill="#111"/>
<rect x="302.89" y="747.49" width="0.9" height="0.9" fill="#111"/>
<rect x="300.52" y="752.53" width="0.9" height="0.9" fill="#111"/>
<rect x="299.55" y="748.13" width="0.9" height="0.9" fill="#111"/>
<rect x="300.76" y="752.24" width="0.9" height="0.9" fill="#111"/>
<rect x="307.48" y="746.24" width="0.9" height="0.9" fill="#111"/>
<rect x="301.03" y="747.21" width="0.9" height="0.9" fill="#111"/>
<rect x="305.48" y="748.94" width="0.9" height="0.9" fill="#111"/>
<rect x="307.14" y="751.81" width="0.9" height="0.9" fill="#111"/>
<rect x="302.66" y="752.95" width="0.9" height="0.9" fill="#111"/>
<rect x="299.29" y="752.87" width="0.9" height="0.9" fill="#111"/>
<rect x="300.9" y="753.06" width="0.9" height="0.9" fill="#111"/>
<rect x="302.78" y="749.86" width="0.9" height="0.9" fill="#111"/>
<rect x="302.07" y="749.86" width="0.9" height="0.9" fill="#111"/>
<rect x="302.72" y="749.05" width="0.9" height="0.9" fill="#111"/>
<rect x="302.87" y="753.62" width="0.9" height="0.9" fill="#111"/>
<rect x="308.24" y="749" width="0.9" height="0.9" fill="#111"/>
<rect x="305.57" y="747.25" width="0.9" height="0.9" fill="#111"/>
<rect x="305.37" y="755.02" width="0.9" height="0.9" fill="#111"/>
<rect x="302.54" y="754.14" width="0.9" height="0.9" fill="#111"/>
<rect x="304.66" y="750.67" width="0.9" height="0.9" fill="#111"/>
<rect x="301.81" y="750.97" width="0.9" height="0.9" fill="#111"/>
<rect x="299.92" y="752.47" width="0.9" height="0.9" fill="#111"/>
<rect x="304.54" y="747.53" width="0.9" height="0.9" fill="#111"/>
<rect x="306.19" y="748.34" width="0.9" height="0.9" fill="#111"/>
<rect x="307.75" y="750.1" width="0.9" height="0.9" fill="#111"/>
<rect x="301.73" y="751.78" width="0.9" height="0.9" fill="#111"/>
<rect x="306.13" y="749.82" width="0.9" height="0.9" fill="#111"/>
<rect x="305.36" y="750.59" width="0.9" height="0.9" fill="#111"/>
<rect x="305.53" y="744.26" width="0.9" height="0.9" fill="#111"/>
<rect x="306.91" y="751.09" width="0.9" height="0.9" fill="#111"/>
<rect x="301.12" y="749.87" width="0.9" height="0.9" fill="#111"/>
<rect x="303.95" y="753.17" width="0.9" height="0.9" fill="#111"/>
<rect x="308.17" y="748.08" width="0.9" height="0.9" fill="#111"/>
<rect x="304.2" y="750.78" width="0.9" height="0.9" fill="#111"/>
<rect x="302.79" y="749.77" width="0.9" height="0.9" fill="#111"/>
<rect x="300.84" y="749.49" width="0.9" height="0.9" fill="#111"/>
<rect x="307.57" y="752.8" width="0.9" height="0.9" fill="#111"/>
<rect x="304.84" y="754.18" width="0.9" height="0.9" fill="#111"/>
<rect x="305.54" y="750.56" width="0.9" height="0.9" fill="#111"/>
<rect x="304.29" y="748.79" width="0.9" height="0.9" fill="#111"/>
<rect x="307.36" y="750.16" width="0.9" height="0.9" fill="#111"/>
<rect x="301.16" y="752.07" width="0.9" height="0.9" fill="#111"/>
<rect x="304.92" y="750.31" width="0.9" height="0.9" fill="#111"/>
<rect x="307.45" y="747.68" width="0.9" height="0.9" fill="#111"/>
<rect x="306.25" y="747.78" width="0.9" height="0.9" fill="#111"/>
<rect x="301.27" y="746.41" width="0.9" height="0.9" fill="#111"/>
<rect x="306.84" y="746.51" width="0.9" height="0.9" fill="#111"/>
<rect x="307.28" y="748.32" width="0.9" height="0.9" fill="#111"/>
<rect x="303.11" y="749.98" width="0.9" height="0.9" fill="#111"/>
<rect x="304.06" y="752.29" width="0.9" height="0.9" fill="#111"/>
<rect x="301.78" y="747.79" width="0.9" height="0.9" fill="#111"/>
<rect x="304.77" y="750.85" width="0.9" height="0.9" fill="#111"/>
<rect x="299.48" y="747.97" width="0.9" height="0.9" fill="#111"/>
<rect x="300.26" y="749.96" width="0.9" height="0.9" fill="#111"/>
<rect x="300.89" y="752.88" width="0.9" height="0.9" fill="#111"/>
<rect x="300.95" y="750.97" width="0.9" height="0.9" fill="#111"/>
<rect x="305.55" y="752.72" width="0.9" height="0.9" fill="#111"/>
<rect x="305.91" y="751.71" width="0.9" height="0.9" fill="#111"/>
<rect x="306.88" y="746.83" width="0.9" height="0.9" fill="#111"/>
<rect x="308.01" y="748.48" width="0.9" height="0.9" fill="#111"/>
<rect x="305.14" y="751.72" width="0.9" height="0.9" fill="#111"/>
<rect x="307.73" y="745" width="0.9" height="0.9" fill="#111"/>
<rect x="306.93" y="749.08" width="0.9" height="0.9" fill="#111"/>
<rect x="303.59" y="745.63" width="0.9" height="0.9" fill="#111"/>
<rect x="300.64" y="748.23" width="0.9" height="0.9" fill="#111"/>
<rect x="300.05" y="748.6" width="0.9" height="0.9" fill="#111"/>
<rect x="300.17" y="747.53" width="0.9" height="0.9" fill="#111"/>
<rect x="306.17" y="746.67" width="0.9" height="0.9" fill="#111"/>
<rect x="306.59" y="750.02" width="0.9" height="0.9" fill="#111"/>
<rect x="305.76" y="754.38" width="0.9" height="0.9" fill="#111"/>
<rect x="304.95" y="743.82" width="0.9" height="0.9" fill="#111"/>
<rect x="308.08" y="752.6" width="0.9" height="0.9" fill="#111"/>
<rect x="299.79" y="748.64" width="0.9" height="0.9" fill="#111"/>
<rect x="301.1" y="748.88" width="0.9" height="0.9" fill="#111"/>
<rect x="305.46" y="751.64" width="0.9" height="0.9" fill="#111"/>
<rect x="306.03" y="747.57" width="0.9" height="0.9" fill="#111"/>
<rect x="304.2" y="747.32" width="0.9" height="0.9" fill="#111"/>
<rect x="302.65" y="748.28" width="0.9" height="0.9" fill="#111"/>
<rect x="302.64" y="747.02" width="0.9" height="0.9" fill="#111"/>
<rect x="305.49" y="747.25" width="0.9" height="0.9" fill="#111"/>
<rect x="303.79" y="735.16" width="0.8" height="0.8" fill="#111"/>
<rect x="304.73" y="738.05" width="0.8" height="0.8" fill="#111"/>
<rect x="304.69" y="739.49" width="0.8" height="0.8" fill="#111"/>
<rect x="302.94" y="729.38" width="0.8" height="0.8" fill="#111"/>
<rect x="315.9" y="750.62" width="10.8" height="59.68" fill="#3ef02a" stroke="#111" stroke-width="1.5"/>
<rect x="319.42" y="751.23" width="0.9" height="0.9" fill="#111"/>
<rect x="317.77" y="755.64" width="0.9" height="0.9" fill="#111"/>
<rect x="323.48" y="753.9" width="0.9" height="0.9" fill="#111"/>
<rect x="325.15" y="751.17" width="0.9" height="0.9" fill="#111"/>
<rect x="321.29" y="753.08" width="0.9" height="0.9" fill="#111"/>
<rect x="323.11" y="750.03" width="0.9" height="0.9" fill="#111"/>
<rect x="319.42" y="750.66" width="0.9" height="0.9" fill="#111"/>
<rect x="319.8" y="754.79" width="0.9" height="0.9" fill="#111"/>
<rect x="317.16" y="749.67" width="0.9" height="0.9" fill="#111"/>
<rect x="320.57" y="754.06" width="0.9" height="0.9" fill="#111"/>
<rect x="317.38" y="751.19" width="0.9" height="0.9" fill="#111"/>
<rect x="319.19" y="747.65" width="0.9" height="0.9" fill="#111"/>
<rect x="325.76" y="749.05" width="0.9" height="0.9" fill="#111"/>
<rect x="321.68" y="749.81" width="0.9" height="0.9" fill="#111"/>
<rect x="317.54" y="756.07" width="0.9" height="0.9" fill="#111"/>
<rect x="319.97" y="747.52" width="0.9" height="0.9" fill="#111"/>
<rect x="323.75" y="751.39" width="0.9" height="0.9" fill="#111"/>
<rect x="320.02" y="751.73" width="0.9" height="0.9" fill="#111"/>
<rect x="320.92" y="749.52" width="0.9" height="0.9" fill="#111"/>
<rect x="320.22" y="751.29" width="0.9" height="0.9" fill="#111"/>
<rect x="318.71" y="752.34" width="0.9" height="0.9" fill="#111"/>
<rect x="325.66" y="751.58" width="0.9" height="0.9" fill="#111"/>
<rect x="317.49" y="754.24" width="0.9" height="0.9" fill="#111"/>
<rect x="319.27" y="750.45" width="0.9" height="0.9" fill="#111"/>
<rect x="321.37" y="747.68" width="0.9" height="0.9" fill="#111"/>
<rect x="317.19" y="752.6" width="0.9" height="0.9" fill="#111"/>
<rect x="320.7" y="755.02" width="0.9" height="0.9" fill="#111"/>
<rect x="322.16" y="748.67" width="0.9" height="0.9" fill="#111"/>
<rect x="322.55" y="748.43" width="0.9" height="0.9" fill="#111"/>
<rect x="317.03" y="753.64" width="0.9" height="0.9" fill="#111"/>
<rect x="320.5" y="747.08" width="0.9" height="0.9" fill="#111"/>
<rect x="324.74" y="750.82" width="0.9" height="0.9" fill="#111"/>
<rect x="320.18" y="748.84" width="0.9" height="0.9" fill="#111"/>
<rect x="325.89" y="756.63" width="0.9" height="0.9" fill="#111"/>
<rect x="318.06" y="751.27" width="0.9" height="0.9" fill="#111"/>
<rect x="323.88" y="756.97" width="0.9" height="0.9" fill="#111"/>
<rect x="325.85" y="757.63" width="0.9" height="0.9" fill="#111"/>
<rect x="318.69" y="748.22" width="0.9" height="0.9" fill="#111"/>
<rect x="321.02" y="753.31" width="0.9" height="0.9" fill="#111"/>
<rect x="319.34" y="750.51" width="0.9" height="0.9" fill="#111"/>
<rect x="318.26" y="752.16" width="0.9" height="0.9" fill="#111"/>
<rect x="320.91" y="752.64" width="0.9" height="0.9" fill="#111"/>
<rect x="324.96" y="749.21" width="0.9" height="0.9" fill="#111"/>
<rect x="324.85" y="750.35" width="0.9" height="0.9" fill="#111"/>
<rect x="324.32" y="751.32" width="0.9" height="0.9" fill="#111"/>
<rect x="325.54" y="751.01" width="0.9" height="0.9" fill="#111"/>
<rect x="318.88" y="752.63" width="0.9" height="0.9" fill="#111"/>
<rect x="325.17" y="752.31" width="0.9" height="0.9" fill="#111"/>
<rect x="318.4" y="750.88" width="0.9" height="0.9" fill="#111"/>
<rect x="320.65" y="751.74" width="0.9" height="0.9" fill="#111"/>
<rect x="320.13" y="751.94" width="0.9" height="0.9" fill="#111"/>
<rect x="323.83" y="747.16" width="0.9" height="0.9" fill="#111"/>
<rect x="325.67" y="749.67" width="0.9" height="0.9" fill="#111"/>
<rect x="323.16" y="748.92" width="0.9" height="0.9" fill="#111"/>
<rect x="322.62" y="750.42" width="0.9" height="0.9" fill="#111"/>
<rect x="320.15" y="750.81" width="0.9" height="0.9" fill="#111"/>
<rect x="322.05" y="753.5" width="0.9" height="0.9" fill="#111"/>
<rect x="325.59" y="749.31" width="0.9" height="0.9" fill="#111"/>
<rect x="319.12" y="751.3" width="0.9" height="0.9" fill="#111"/>
<rect x="321.72" y="748.12" width="0.9" height="0.9" fill="#111"/>
<rect x="321.13" y="751.65" width="0.9" height="0.9" fill="#111"/>
<rect x="323.19" y="752.87" width="0.9" height="0.9" fill="#111"/>
<rect x="320.55" y="747.03" width="0.9" height="0.9" fill="#111"/>
<rect x="321.34" y="751.26" width="0.9" height="0.9" fill="#111"/>
<rect x="317.22" y="755.04" width="0.9" height="0.9" fill="#111"/>
<rect x="321.31" y="754.44" width="0.9" height="0.9" fill="#111"/>
<rect x="319.88" y="749" width="0.9" height="0.9" fill="#111"/>
<rect x="316.9" y="750.88" width="0.9" height="0.9" fill="#111"/>
<rect x="322.72" y="752.33" width="0.9" height="0.9" fill="#111"/>
<rect x="325.21" y="748.77" width="0.9" height="0.9" fill="#111"/>
<rect x="323.26" y="753.68" width="0.9" height="0.9" fill="#111"/>
<rect x="325.32" y="749.16" width="0.9" height="0.9" fill="#111"/>
<rect x="319.48" y="744.13" width="0.9" height="0.9" fill="#111"/>
<rect x="318.23" y="753.9" width="0.9" height="0.9" fill="#111"/>
<rect x="320.83" y="750.54" width="0.9" height="0.9" fill="#111"/>
<rect x="323.47" y="751.92" width="0.9" height="0.9" fill="#111"/>
<rect x="325.21" y="754.03" width="0.9" height="0.9" fill="#111"/>
<rect x="319.45" y="751.95" width="0.9" height="0.9" fill="#111"/>
<rect x="317.97" y="756.13" width="0.9" height="0.9" fill="#111"/>
<rect x="319.93" y="753.05" width="0.9" height="0.9" fill="#111"/>
<rect x="318.61" y="754.85" width="0.9" height="0.9" fill="#111"/>
<rect x="320.88" y="751.37" width="0.9" height="0.9" fill="#111"/>
<rect x="319.85" y="750.45" width="0.9" height="0.9" fill="#111"/>
<rect x="318.02" y="751.08" width="0.9" height="0.9" fill="#111"/>
<rect x="319.24" y="749.5" width="0.9" height="0.9" fill="#111"/>
<rect x="323.91" y="751.9" width="0.9" height="0.9" fill="#111"/>
<rect x="324.33" y="751.6" width="0.9" height="0.9" fill="#111"/>
<rect x="322.46" y="753.51" width="0.9" height="0.9" fill="#111"/>
<rect x="318.96" y="754.29" width="0.9" height="0.9" fill="#111"/>
<rect x="319.12" y="749.13" width="0.9" height="0.9" fill="#111"/>
<rect x="324.95" y="749.49" width="0.9" height="0.9" fill="#111"/>
<rect x="318.33" y="753.45" width="0.9" height="0.9" fill="#111"/>
<rect x="323.51" y="750.94" width="0.9" height="0.9" fill="#111"/>
<rect x="321.86" y="750.84" width="0.9" height="0.9" fill="#111"/>
<rect x="324.28" y="750.72" width="0.9" height="0.9" fill="#111"/>
<rect x="321.25" y="751.44" width="0.9" height="0.9" fill="#111"/>
<rect x="322.12" y="750.98" width="0.9" height="0.9" fill="#111"/>
<rect x="317.78" y="752.02" width="0.9" height="0.9" fill="#111"/>
<rect x="322.33" y="752.13" width="0.9" height="0.9" fill="#111"/>
<rect x="318.74" y="755.01" width="0.9" height="0.9" fill="#111"/>
<rect x="317.29" y="750.29" width="0.9" height="0.9" fill="#111"/>
<rect x="322.99" y="751.89" width="0.9" height="0.9" fill="#111"/>
<rect x="320.93" y="750.68" width="0.9" height="0.9" fill="#111"/>
<rect x="322.67" y="750.96" width="0.9" height="0.9" fill="#111"/>
<rect x="317.34" y="748.25" width="0.9" height="0.9" fill="#111"/>
<rect x="322.62" y="754.1" width="0.9" height="0.9" fill="#111"/>
<rect x="323.64" y="750.76" width="0.9" height="0.9" fill="#111"/>
<rect x="319.08" y="752.59" width="0.9" height="0.9" fill="#111"/>
<rect x="323.68" y="751.53" width="0.9" height="0.9" fill="#111"/>
<rect x="321.44" y="751.35" width="0.9" height="0.9" fill="#111"/>
<rect x="318.13" y="749.11" width="0.9" height="0.9" fill="#111"/>
<rect x="318.69" y="753.17" width="0.9" height="0.9" fill="#111"/>
<rect x="318.59" y="752.02" width="0.9" height="0.9" fill="#111"/>
<rect x="317.51" y="745.21" width="0.9" height="0.9" fill="#111"/>
<rect x="320.61" y="752.12" width="0.9" height="0.9" fill="#111"/>
<rect x="322.42" y="750.64" width="0.9" height="0.9" fill="#111"/>
<rect x="317.98" y="752.43" width="0.9" height="0.9" fill="#111"/>
<rect x="321.22" y="752.8" width="0.9" height="0.9" fill="#111"/>
<rect x="321.97" y="752.58" width="0.9" height="0.9" fill="#111"/>
<rect x="325.09" y="754.1" width="0.9" height="0.9" fill="#111"/>
<rect x="321.24" y="750.23" width="0.9" height="0.9" fill="#111"/>
<rect x="321.63" y="749.87" width="0.9" height="0.9" fill="#111"/>
<rect x="322.79" y="748.81" width="0.9" height="0.9" fill="#111"/>
<rect x="320.56" y="753.43" width="0.9" height="0.9" fill="#111"/>
<rect x="319.4" y="750.43" width="0.9" height="0.9" fill="#111"/>
<rect x="317.69" y="756.32" width="0.9" height="0.9" fill="#111"/>
<rect x="324.89" y="751.63" width="0.9" height="0.9" fill="#111"/>
<rect x="319.13" y="749.05" width="0.9" height="0.9" fill="#111"/>
<rect x="325.5" y="754.05" width="0.9" height="0.9" fill="#111"/>
<rect x="317.77" y="754.19" width="0.9" height="0.9" fill="#111"/>
<rect x="317.65" y="751.2" width="0.9" height="0.9" fill="#111"/>
<rect x="322.51" y="753.83" width="0.9" height="0.9" fill="#111"/>
<rect x="317.16" y="749.57" width="0.9" height="0.9" fill="#111"/>
<rect x="325.64" y="754.34" width="0.9" height="0.9" fill="#111"/>
<rect x="323.36" y="754.25" width="0.9" height="0.9" fill="#111"/>
<rect x="319.1" y="749.03" width="0.9" height="0.9" fill="#111"/>
<rect x="317.58" y="753.44" width="0.9" height="0.9" fill="#111"/>
<rect x="317.29" y="750.22" width="0.9" height="0.9" fill="#111"/>
<rect x="324.7" y="752.04" width="0.9" height="0.9" fill="#111"/>
<rect x="317.28" y="754.1" width="0.9" height="0.9" fill="#111"/>
<rect x="325.38" y="752.01" width="0.9" height="0.9" fill="#111"/>
<rect x="323.97" y="749.93" width="0.9" height="0.9" fill="#111"/>
<rect x="317.66" y="749.03" width="0.9" height="0.9" fill="#111"/>
<rect x="320.53" y="753.36" width="0.9" height="0.9" fill="#111"/>
<rect x="321.9" y="751.4" width="0.9" height="0.9" fill="#111"/>
<rect x="319.37" y="750.89" width="0.9" height="0.9" fill="#111"/>
<rect x="325.29" y="749.06" width="0.9" height="0.9" fill="#111"/>
<rect x="325.4" y="749.54" width="0.9" height="0.9" fill="#111"/>
<rect x="323.77" y="752.67" width="0.9" height="0.9" fill="#111"/>
<rect x="317.76" y="751.23" width="0.9" height="0.9" fill="#111"/>
<rect x="325.78" y="752.55" width="0.9" height="0.9" fill="#111"/>
<rect x="321.69" y="751.74" width="0.9" height="0.9" fill="#111"/>
<rect x="321.77" y="753.4" width="0.9" height="0.9" fill="#111"/>
<rect x="325.65" y="750.69" width="0.9" height="0.9" fill="#111"/>
<rect x="321.43" y="753.09" width="0.9" height="0.9" fill="#111"/>
<rect x="325.15" y="750.71" width="0.9" height="0.9" fill="#111"/>
<rect x="325.15" y="754.2" width="0.9" height="0.9" fill="#111"/>
<rect x="319.7" y="748.99" width="0.9" height="0.9" fill="#111"/>
<rect x="317.98" y="750.3" width="0.9" height="0.9" fill="#111"/>
<rect x="317.19" y="754.45" width="0.9" height="0.9" fill="#111"/>
<rect x="320.78" y="748.79" width="0.9" height="0.9" fill="#111"/>
<rect x="325.14" y="752.58" width="0.9" height="0.9" fill="#111"/>
<rect x="319.31" y="754.23" width="0.9" height="0.9" fill="#111"/>
<rect x="323.55" y="752.86" width="0.9" height="0.9" fill="#111"/>
<rect x="323.68" y="751.6" width="0.9" height="0.9" fill="#111"/>
<rect x="322.26" y="748.56" width="0.9" height="0.9" fill="#111"/>
<rect x="323.09" y="750.32" width="0.9" height="0.9" fill="#111"/>
<rect x="323.41" y="750.18" width="0.9" height="0.9" fill="#111"/>
<rect x="317.93" y="744.29" width="0.9" height="0.9" fill="#111"/>
<rect x="318.24" y="746.07" width="0.9" height="0.9" fill="#111"/>
<rect x="322.4" y="749.1" width="0.9" height="0.9" fill="#111"/>
<rect x="324.59" y="749.98" width="0.9" height="0.9" fill="#111"/>
<rect x="317.67" y="749.4" width="0.9" height="0.9" fill="#111"/>
<rect x="322.04" y="748.04" width="0.9" height="0.9" fill="#111"/>
<rect x="317.18" y="751.52" width="0.9" height="0.9" fill="#111"/>
<rect x="323.33" y="749.05" width="0.9" height="0.9" fill="#111"/>
<rect x="319.8" y="748.31" width="0.9" height="0.9" fill="#111"/>
<rect x="322.14" y="748.42" width="0.9" height="0.9" fill="#111"/>
<rect x="324.74" y="753.42" width="0.9" height="0.9" fill="#111"/>
<rect x="325.16" y="753.8" width="0.9" height="0.9" fill="#111"/>
<rect x="324.77" y="751.96" width="0.9" height="0.9" fill="#111"/>
<rect x="317.92" y="749.19" width="0.9" height="0.9" fill="#111"/>
<rect x="325.68" y="753.85" width="0.9" height="0.9" fill="#111"/>
<rect x="317.88" y="750.19" width="0.9" height="0.9" fill="#111"/>
<rect x="323.4" y="753.95" width="0.9" height="0.9" fill="#111"/>
<rect x="316.71" y="755.11" width="0.9" height="0.9" fill="#111"/>
<rect x="324.55" y="749.38" width="0.9" height="0.9" fill="#111"/>
<rect x="322.78" y="752.27" width="0.9" height="0.9" fill="#111"/>
<rect x="322.92" y="755.85" width="0.9" height="0.9" fill="#111"/>
<rect x="319.83" y="749.12" width="0.9" height="0.9" fill="#111"/>
<rect x="323.25" y="751.84" width="0.9" height="0.9" fill="#111"/>
<rect x="322.35" y="754.55" width="0.9" height="0.9" fill="#111"/>
<rect x="321.25" y="751.05" width="0.9" height="0.9" fill="#111"/>
<rect x="316.71" y="752.96" width="0.9" height="0.9" fill="#111"/>
<rect x="324.4" y="750.35" width="0.9" height="0.9" fill="#111"/>
<rect x="317.1" y="755.81" width="0.9" height="0.9" fill="#111"/>
<rect x="317.8" y="754.38" width="0.9" height="0.9" fill="#111"/>
<rect x="318.56" y="752.14" width="0.9" height="0.9" fill="#111"/>
<rect x="318.89" y="746.46" width="0.9" height="0.9" fill="#111"/>
<rect x="324.33" y="752.31" width="0.9" height="0.9" fill="#111"/>
<rect x="321.6" y="735.16" width="0.8" height="0.8" fill="#111"/>
<rect x="321.07" y="738.05" width="0.8" height="0.8" fill="#111"/>
<rect x="321.59" y="739.49" width="0.8" height="0.8" fill="#111"/>
<rect x="320.76" y="729.38" width="0.8" height="0.8" fill="#111"/>
<text x="302.6" y="706" text-anchor="middle" font-size="8.4">p=5.5E-13</text>
<line x1="284.4" y1="711.5" x2="320" y2="711.5" stroke="#000" stroke-width="1"/>
<text x="303.1" y="723.6" text-anchor="middle" font-size="8.4">p=6.59E-10</text>
<line x1="285.3" y1="727.5" x2="308.1" y2="727.5" stroke="#000" stroke-width="1"/>
<text x="371.2" y="688.6" font-weight="bold" font-size="9.2">o</text>
<line x1="397.5" y1="697.2" x2="397.5" y2="798.2" stroke="#000" stroke-width="1.2"/>
<line x1="396" y1="797.5" x2="482.8" y2="797.5" stroke="#000" stroke-width="1.2"/>
<line x1="395.1" y1="797.5" x2="397.9" y2="797.5" stroke="#000" stroke-width="1"/>
<text x="390.4" y="800.9" text-anchor="end" font-size="8.6">0.0</text>
<line x1="395.1" y1="761.5" x2="397.9" y2="761.5" stroke="#000" stroke-width="1"/>
<text x="390.4" y="764.5" text-anchor="end" font-size="8.6">0.5</text>
<line x1="395.1" y1="724.5" x2="397.9" y2="724.5" stroke="#000" stroke-width="1"/>
<text x="390.4" y="728.1" text-anchor="end" font-size="8.6">1.0</text>
<line x1="396.2" y1="779.5" x2="397.9" y2="779.5" stroke="#000" stroke-width="0.8"/>
<line x1="396.2" y1="743.5" x2="397.9" y2="743.5" stroke="#000" stroke-width="0.8"/>
<line x1="396.2" y1="706.5" x2="397.9" y2="706.5" stroke="#000" stroke-width="0.8"/>
<text x="373.7" y="759.5" text-anchor="middle" font-size="10" transform="rotate(-90 373.7 759.5)">relative mRNA levels</text>
<rect x="404.2" y="724.8" width="12.4" height="72.8" fill="#7a7a7a" stroke="#111" stroke-width="1.5"/>
<line x1="410.5" y1="724.8" x2="410.5" y2="718.25" stroke="#000" stroke-width="1.2"/>
<line x1="407.6" y1="718.5" x2="413.2" y2="718.5" stroke="#000" stroke-width="1.2"/>
<circle cx="408.9" cy="708.78" r="1.15" fill="#111"/>
<circle cx="410.4" cy="737.18" r="1.15" fill="#111"/>
<circle cx="411.9" cy="734.99" r="1.15" fill="#111"/>
<rect x="424.1" y="763.75" width="12.1" height="33.85" fill="#f2331c" stroke="#111" stroke-width="1.5"/>
<line x1="430.5" y1="763.75" x2="430.5" y2="758.29" stroke="#000" stroke-width="1.2"/>
<line x1="427.35" y1="758.5" x2="432.95" y2="758.5" stroke="#000" stroke-width="1.2"/>
<circle cx="428.65" cy="752.46" r="1.15" fill="#111"/>
<circle cx="430.15" cy="759.02" r="1.15" fill="#111"/>
<circle cx="431.65" cy="776.49" r="1.15" fill="#111"/>
<rect x="443.5" y="724.8" width="12.6" height="72.8" fill="#7a7a7a" stroke="#111" stroke-width="1.5"/>
<line x1="449.5" y1="724.8" x2="449.5" y2="716.79" stroke="#000" stroke-width="1.2"/>
<line x1="447" y1="716.5" x2="452.6" y2="716.5" stroke="#000" stroke-width="1.2"/>
<circle cx="448.3" cy="705.14" r="1.15" fill="#111"/>
<circle cx="449.8" cy="732.08" r="1.15" fill="#111"/>
<circle cx="451.3" cy="744.46" r="1.15" fill="#111"/>
<rect x="463.3" y="761.93" width="12.2" height="35.67" fill="#3ef02a" stroke="#111" stroke-width="1.5"/>
<line x1="469.5" y1="761.93" x2="469.5" y2="753.19" stroke="#000" stroke-width="1.2"/>
<line x1="466.6" y1="753.5" x2="472.2" y2="753.5" stroke="#000" stroke-width="1.2"/>
<circle cx="467.9" cy="745.18" r="1.15" fill="#111"/>
<circle cx="469.4" cy="753.19" r="1.15" fill="#111"/>
<circle cx="470.9" cy="767.75" r="1.15" fill="#111"/>
<circle cx="467.9" cy="780.86" r="1.15" fill="#111"/>
<text x="411.6" y="811" text-anchor="middle" font-size="8.3">C</text>
<text x="433" y="811" text-anchor="middle" font-size="8.3">KD</text>
<text x="451.7" y="811" text-anchor="middle" font-size="8.3">C</text>
<text x="470.7" y="811" text-anchor="middle" font-size="8.3">KD</text>
<line x1="395.8" y1="813.5" x2="441" y2="813.5" stroke="#000" stroke-width="0.9"/>
<line x1="449.9" y1="813.5" x2="490" y2="813.5" stroke="#000" stroke-width="0.9"/>
<text x="418.5" y="822.2" text-anchor="middle" font-size="8.5">Cacna1a</text>
<text x="462.3" y="822.2" text-anchor="middle" font-size="8.4">Cacna2d1</text>
<text x="418" y="700.2" text-anchor="middle" font-size="8.6">p=0.004</text>
<line x1="409.6" y1="705.5" x2="426.9" y2="705.5" stroke="#000" stroke-width="1"/>
<text x="459.2" y="689.5" text-anchor="middle" font-size="8.6">p=0.031</text>
<line x1="449.8" y1="701.5" x2="473.1" y2="701.5" stroke="#000" stroke-width="1"/>
</svg></body></html>
